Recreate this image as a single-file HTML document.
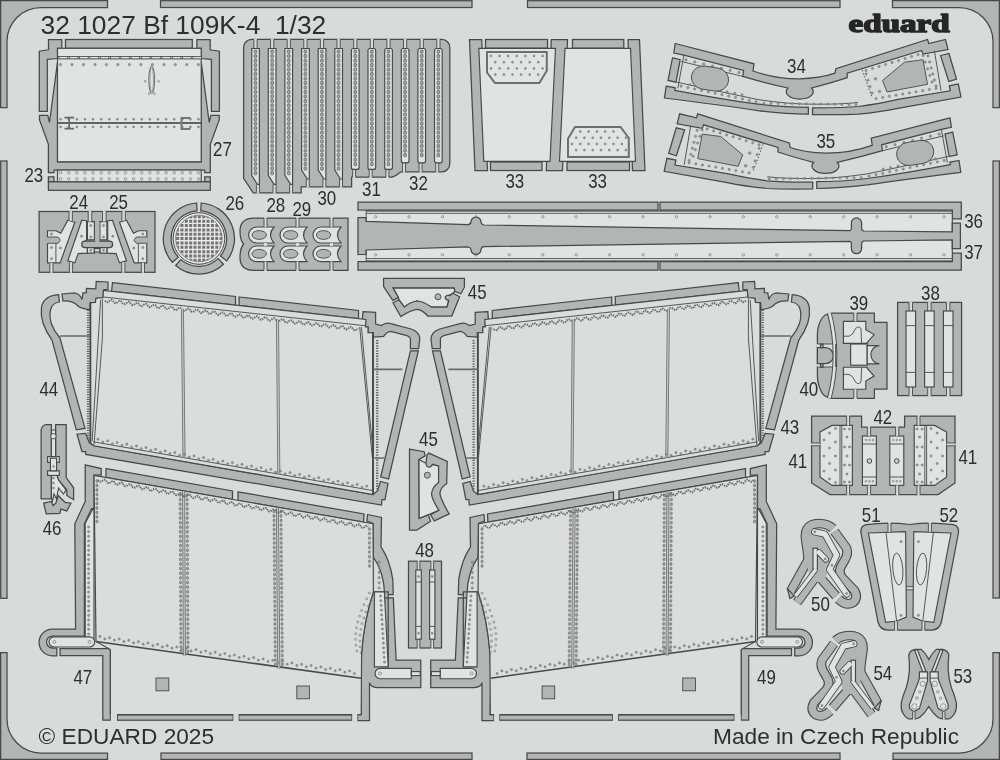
<!DOCTYPE html>
<html><head><meta charset="utf-8"><title>32 1027 Bf 109K-4 1/32</title>
<style>
html,body{margin:0;padding:0;background:#d9dada;}
body{width:1000px;height:760px;overflow:hidden;font-family:"Liberation Sans",sans-serif;}
svg{display:block;will-change:transform;transform:translateZ(0)}
.f{fill:#b3b4b4;stroke:#484848;stroke-width:1.25;stroke-linejoin:miter}
.p{fill:#e1e2e2;stroke:#484848;stroke-width:1.15;stroke-linejoin:miter}
.pb{fill:#dbdcdc}
.g{fill:#d9dada;stroke:none}
.h{fill:#b3b4b4;stroke:#484848;stroke-width:0.9}
.l{stroke:#484848;stroke-width:0.9;fill:none}
.l2{stroke:#707070;stroke-width:3;fill:none}
.r{fill:none;stroke:#6a6a6a;stroke-width:0.6}
.rs{fill:#a8a8a8;stroke:#5c5c5c;stroke-width:0.7}
.rd{fill:#9a9a9a;stroke:#6a6a6a;stroke-width:0.5}
.z{fill:none;stroke:#6c6c6c;stroke-width:1.9;stroke-dasharray:1.5,0.9}
.t{font-family:"Liberation Sans",sans-serif;fill:#2e2e2e}
.logo{font-family:"Liberation Serif",serif;font-weight:bold;fill:#262626;stroke:#262626;stroke-width:1.5;stroke-linejoin:round}
</style></head><body>
<svg width="1000" height="760" viewBox="0 0 1000 760">
<rect x="0" y="0" width="1000" height="760" fill="#d9dada"/>
<g id="border" style="stroke-width:1.3">
<path class="f" d="M0.65,0.65 L107.5,0.65 L107.5,7.5 L41,7.5 A34,34 0 0 0 7,41.5 L7,107.5 L0.65,107.5 Z" />
<rect class="f" x="160.5" y="0.7" width="311.5" height="6.8"/>
<rect class="f" x="527.5" y="0.7" width="312.5" height="6.8"/>
<path class="f" d="M892.5,0.65 L999.35,0.65 L999.35,107.5 L993,107.5 L993,41.5 A34,34 0 0 0 959,7.5 L892.5,7.5 Z" />
<rect class="f" x="0.7" y="161.0" width="6.3" height="437.3"/>
<rect class="f" x="993.0" y="161.0" width="6.4" height="437.0"/>
<path class="f" d="M0.65,652.6 L7,652.6 L7,719 A34,34 0 0 0 41,753 L107.5,753 L107.5,759.35 L0.65,759.35 Z" />
<rect class="f" x="161.0" y="753.0" width="311.0" height="6.4"/>
<rect class="f" x="527.0" y="753.0" width="313.0" height="6.4"/>
<path class="f" d="M999.35,652.6 L993,652.6 L993,719 A34,34 0 0 1 959,753 L893,753 L893,759.35 L999.35,759.35 Z" />
</g>
<g id="texts">
<text class="t" x="40.6" y="34.3" font-size="25.8" textLength="285.6" lengthAdjust="spacingAndGlyphs" text-anchor="start">32 1027 Bf 109K-4&#160;&#160;1/32</text>
<text class="t" x="38.6" y="743.5" font-size="22.4" textLength="175.5" lengthAdjust="spacingAndGlyphs" text-anchor="start">© EDUARD 2025</text>
<text class="t" x="713.0" y="743.6" font-size="22.4" textLength="246.0" lengthAdjust="spacingAndGlyphs" text-anchor="start">Made in Czech Republic</text>
<text class="logo" x="848.6" y="32.2" font-size="24.8" textLength="101" lengthAdjust="spacingAndGlyphs">eduard</text>
</g>
<g id="p27">
<rect class="f" x="65.5" y="39.5" width="126.8" height="8.8"/>
<polygon class="f" points="48.5,39.5 61.8,39.5 61.8,48.3 57.5,48.3 57.5,58.5 47.3,59.3 47.3,111.3 39.3,111.3 39.3,51.2 48.5,49.8" />
<polygon class="f" points="210.2,39.5 196.9,39.5 196.9,48.3 201.2,48.3 201.2,58.5 211.4,59.3 211.4,111.3 219.4,111.3 219.4,51.2 210.2,49.8" />
<polygon class="f" points="39.5,115.4 47.8,115.4 49.5,122.5 57.5,62.0 57.5,161.8 201.2,161.8 201.2,62.0 209.2,122.5 210.9,115.4 219.2,115.4 219.2,120.0 210.3,144.4 210.3,172.6 204.7,172.6 204.7,170.0 54.0,170.0 54.0,172.6 48.4,172.6 48.4,144.4 39.5,120.0" />
<rect class="f" x="48.4" y="181.7" width="161.9" height="8.6"/>
<polygon class="f" points="48.4,176.8 54.0,176.8 54.0,181.7 48.4,181.7" />
<polygon class="f" points="210.3,176.8 204.7,176.8 204.7,181.7 210.3,181.7" />
<rect class="p" x="57.5" y="48.3" width="143.7" height="113.5"/>
<line class="l" x1="57.5" y1="56.6" x2="201.2" y2="56.6"/>
<line class="l" x1="57.5" y1="58.8" x2="201.2" y2="58.8"/>
<rect x="59.0" y="56.6" width="8.6" height="2.2" fill="#e6e6e6" stroke="#484848" stroke-width="0.7"/>
<rect x="69.3" y="56.6" width="8.6" height="2.2" fill="#e6e6e6" stroke="#484848" stroke-width="0.7"/>
<rect x="79.6" y="56.6" width="8.6" height="2.2" fill="#e6e6e6" stroke="#484848" stroke-width="0.7"/>
<rect x="89.9" y="56.6" width="8.6" height="2.2" fill="#e6e6e6" stroke="#484848" stroke-width="0.7"/>
<rect x="100.2" y="56.6" width="8.6" height="2.2" fill="#e6e6e6" stroke="#484848" stroke-width="0.7"/>
<rect x="110.5" y="56.6" width="8.6" height="2.2" fill="#e6e6e6" stroke="#484848" stroke-width="0.7"/>
<rect x="120.8" y="56.6" width="8.6" height="2.2" fill="#e6e6e6" stroke="#484848" stroke-width="0.7"/>
<rect x="131.1" y="56.6" width="8.6" height="2.2" fill="#e6e6e6" stroke="#484848" stroke-width="0.7"/>
<rect x="141.4" y="56.6" width="8.6" height="2.2" fill="#e6e6e6" stroke="#484848" stroke-width="0.7"/>
<rect x="151.7" y="56.6" width="8.6" height="2.2" fill="#e6e6e6" stroke="#484848" stroke-width="0.7"/>
<rect x="162.0" y="56.6" width="8.6" height="2.2" fill="#e6e6e6" stroke="#484848" stroke-width="0.7"/>
<rect x="172.3" y="56.6" width="8.6" height="2.2" fill="#e6e6e6" stroke="#484848" stroke-width="0.7"/>
<rect x="182.6" y="56.6" width="8.6" height="2.2" fill="#e6e6e6" stroke="#484848" stroke-width="0.7"/>
<rect x="192.9" y="56.6" width="8.6" height="2.2" fill="#e6e6e6" stroke="#484848" stroke-width="0.7"/>
<path class="rd" d="M60.5,64.6m-1.2,0a1.2,1.2 0 1 0 2.4,0a1.2,1.2 0 1 0 -2.4,0M72.0,64.6m-1.2,0a1.2,1.2 0 1 0 2.4,0a1.2,1.2 0 1 0 -2.4,0M83.5,64.6m-1.2,0a1.2,1.2 0 1 0 2.4,0a1.2,1.2 0 1 0 -2.4,0M95.0,64.6m-1.2,0a1.2,1.2 0 1 0 2.4,0a1.2,1.2 0 1 0 -2.4,0M106.4,64.6m-1.2,0a1.2,1.2 0 1 0 2.4,0a1.2,1.2 0 1 0 -2.4,0M117.9,64.6m-1.2,0a1.2,1.2 0 1 0 2.4,0a1.2,1.2 0 1 0 -2.4,0M129.4,64.6m-1.2,0a1.2,1.2 0 1 0 2.4,0a1.2,1.2 0 1 0 -2.4,0M140.9,64.6m-1.2,0a1.2,1.2 0 1 0 2.4,0a1.2,1.2 0 1 0 -2.4,0M152.4,64.6m-1.2,0a1.2,1.2 0 1 0 2.4,0a1.2,1.2 0 1 0 -2.4,0M163.9,64.6m-1.2,0a1.2,1.2 0 1 0 2.4,0a1.2,1.2 0 1 0 -2.4,0M175.3,64.6m-1.2,0a1.2,1.2 0 1 0 2.4,0a1.2,1.2 0 1 0 -2.4,0M186.8,64.6m-1.2,0a1.2,1.2 0 1 0 2.4,0a1.2,1.2 0 1 0 -2.4,0M198.3,64.6m-1.2,0a1.2,1.2 0 1 0 2.4,0a1.2,1.2 0 1 0 -2.4,0"/>
<line class="l" x1="57.5" y1="122.6" x2="201.2" y2="122.6"/>
<line class="l" x1="57.5" y1="123.4" x2="201.2" y2="123.4"/>
<path class="rd" d="M60.6,119.3m-1.0,0a1.0,1.0 0 1 0 2.0,0a1.0,1.0 0 1 0 -2.0,0M68.7,119.3m-1.0,0a1.0,1.0 0 1 0 2.0,0a1.0,1.0 0 1 0 -2.0,0M76.8,119.3m-1.0,0a1.0,1.0 0 1 0 2.0,0a1.0,1.0 0 1 0 -2.0,0M84.9,119.3m-1.0,0a1.0,1.0 0 1 0 2.0,0a1.0,1.0 0 1 0 -2.0,0M93.0,119.3m-1.0,0a1.0,1.0 0 1 0 2.0,0a1.0,1.0 0 1 0 -2.0,0M101.2,119.3m-1.0,0a1.0,1.0 0 1 0 2.0,0a1.0,1.0 0 1 0 -2.0,0M109.3,119.3m-1.0,0a1.0,1.0 0 1 0 2.0,0a1.0,1.0 0 1 0 -2.0,0M117.4,119.3m-1.0,0a1.0,1.0 0 1 0 2.0,0a1.0,1.0 0 1 0 -2.0,0M125.5,119.3m-1.0,0a1.0,1.0 0 1 0 2.0,0a1.0,1.0 0 1 0 -2.0,0M133.6,119.3m-1.0,0a1.0,1.0 0 1 0 2.0,0a1.0,1.0 0 1 0 -2.0,0M141.7,119.3m-1.0,0a1.0,1.0 0 1 0 2.0,0a1.0,1.0 0 1 0 -2.0,0M149.8,119.3m-1.0,0a1.0,1.0 0 1 0 2.0,0a1.0,1.0 0 1 0 -2.0,0M157.9,119.3m-1.0,0a1.0,1.0 0 1 0 2.0,0a1.0,1.0 0 1 0 -2.0,0M166.1,119.3m-1.0,0a1.0,1.0 0 1 0 2.0,0a1.0,1.0 0 1 0 -2.0,0M174.2,119.3m-1.0,0a1.0,1.0 0 1 0 2.0,0a1.0,1.0 0 1 0 -2.0,0M182.3,119.3m-1.0,0a1.0,1.0 0 1 0 2.0,0a1.0,1.0 0 1 0 -2.0,0M190.4,119.3m-1.0,0a1.0,1.0 0 1 0 2.0,0a1.0,1.0 0 1 0 -2.0,0M198.5,119.3m-1.0,0a1.0,1.0 0 1 0 2.0,0a1.0,1.0 0 1 0 -2.0,0"/>
<path class="rd" d="M60.6,127.0m-1.0,0a1.0,1.0 0 1 0 2.0,0a1.0,1.0 0 1 0 -2.0,0M68.7,127.0m-1.0,0a1.0,1.0 0 1 0 2.0,0a1.0,1.0 0 1 0 -2.0,0M76.8,127.0m-1.0,0a1.0,1.0 0 1 0 2.0,0a1.0,1.0 0 1 0 -2.0,0M84.9,127.0m-1.0,0a1.0,1.0 0 1 0 2.0,0a1.0,1.0 0 1 0 -2.0,0M93.0,127.0m-1.0,0a1.0,1.0 0 1 0 2.0,0a1.0,1.0 0 1 0 -2.0,0M101.2,127.0m-1.0,0a1.0,1.0 0 1 0 2.0,0a1.0,1.0 0 1 0 -2.0,0M109.3,127.0m-1.0,0a1.0,1.0 0 1 0 2.0,0a1.0,1.0 0 1 0 -2.0,0M117.4,127.0m-1.0,0a1.0,1.0 0 1 0 2.0,0a1.0,1.0 0 1 0 -2.0,0M125.5,127.0m-1.0,0a1.0,1.0 0 1 0 2.0,0a1.0,1.0 0 1 0 -2.0,0M133.6,127.0m-1.0,0a1.0,1.0 0 1 0 2.0,0a1.0,1.0 0 1 0 -2.0,0M141.7,127.0m-1.0,0a1.0,1.0 0 1 0 2.0,0a1.0,1.0 0 1 0 -2.0,0M149.8,127.0m-1.0,0a1.0,1.0 0 1 0 2.0,0a1.0,1.0 0 1 0 -2.0,0M157.9,127.0m-1.0,0a1.0,1.0 0 1 0 2.0,0a1.0,1.0 0 1 0 -2.0,0M166.1,127.0m-1.0,0a1.0,1.0 0 1 0 2.0,0a1.0,1.0 0 1 0 -2.0,0M174.2,127.0m-1.0,0a1.0,1.0 0 1 0 2.0,0a1.0,1.0 0 1 0 -2.0,0M182.3,127.0m-1.0,0a1.0,1.0 0 1 0 2.0,0a1.0,1.0 0 1 0 -2.0,0M190.4,127.0m-1.0,0a1.0,1.0 0 1 0 2.0,0a1.0,1.0 0 1 0 -2.0,0M198.5,127.0m-1.0,0a1.0,1.0 0 1 0 2.0,0a1.0,1.0 0 1 0 -2.0,0"/>
<path d="M64.5,117.6h9.5M64.5,128.6h9.5M69.2,117.6v11" stroke="#666" stroke-width="1.6" fill="none"/>
<path d="M190.5,118h-9v11h9" stroke="#777" stroke-width="2" fill="none"/>
<ellipse cx="151.7" cy="79.8" rx="2.9" ry="13.6" fill="none" stroke="#484848" stroke-width="0.8"/>
<ellipse cx="151.7" cy="79.8" rx="1.7" ry="12.2" fill="none" stroke="#777" stroke-width="0.6"/>
<path class="r" d="M149.2,93.6m-0.9,0a0.9,0.9 0 1 0 1.8,0a0.9,0.9 0 1 0 -1.8,0M154.3,93.6m-0.9,0a0.9,0.9 0 1 0 1.8,0a0.9,0.9 0 1 0 -1.8,0M145.2,81.3m-0.9,0a0.9,0.9 0 1 0 1.8,0a0.9,0.9 0 1 0 -1.8,0M158.6,81.3m-0.9,0a0.9,0.9 0 1 0 1.8,0a0.9,0.9 0 1 0 -1.8,0"/>
<rect class="p" x="57.5" y="170.0" width="143.7" height="11.7"/>
<path class="r" d="M60.6,172.6m-1.3,0a1.3,1.3 0 1 0 2.6,0a1.3,1.3 0 1 0 -2.6,0M68.7,172.6m-1.3,0a1.3,1.3 0 1 0 2.6,0a1.3,1.3 0 1 0 -2.6,0M76.8,172.6m-1.3,0a1.3,1.3 0 1 0 2.6,0a1.3,1.3 0 1 0 -2.6,0M84.9,172.6m-1.3,0a1.3,1.3 0 1 0 2.6,0a1.3,1.3 0 1 0 -2.6,0M93.0,172.6m-1.3,0a1.3,1.3 0 1 0 2.6,0a1.3,1.3 0 1 0 -2.6,0M101.2,172.6m-1.3,0a1.3,1.3 0 1 0 2.6,0a1.3,1.3 0 1 0 -2.6,0M109.3,172.6m-1.3,0a1.3,1.3 0 1 0 2.6,0a1.3,1.3 0 1 0 -2.6,0M117.4,172.6m-1.3,0a1.3,1.3 0 1 0 2.6,0a1.3,1.3 0 1 0 -2.6,0M125.5,172.6m-1.3,0a1.3,1.3 0 1 0 2.6,0a1.3,1.3 0 1 0 -2.6,0M133.6,172.6m-1.3,0a1.3,1.3 0 1 0 2.6,0a1.3,1.3 0 1 0 -2.6,0M141.7,172.6m-1.3,0a1.3,1.3 0 1 0 2.6,0a1.3,1.3 0 1 0 -2.6,0M149.8,172.6m-1.3,0a1.3,1.3 0 1 0 2.6,0a1.3,1.3 0 1 0 -2.6,0M157.9,172.6m-1.3,0a1.3,1.3 0 1 0 2.6,0a1.3,1.3 0 1 0 -2.6,0M166.1,172.6m-1.3,0a1.3,1.3 0 1 0 2.6,0a1.3,1.3 0 1 0 -2.6,0M174.2,172.6m-1.3,0a1.3,1.3 0 1 0 2.6,0a1.3,1.3 0 1 0 -2.6,0M182.3,172.6m-1.3,0a1.3,1.3 0 1 0 2.6,0a1.3,1.3 0 1 0 -2.6,0M190.4,172.6m-1.3,0a1.3,1.3 0 1 0 2.6,0a1.3,1.3 0 1 0 -2.6,0M198.5,172.6m-1.3,0a1.3,1.3 0 1 0 2.6,0a1.3,1.3 0 1 0 -2.6,0"/>
<path class="r" d="M60.6,178.9m-1.3,0a1.3,1.3 0 1 0 2.6,0a1.3,1.3 0 1 0 -2.6,0M68.7,178.9m-1.3,0a1.3,1.3 0 1 0 2.6,0a1.3,1.3 0 1 0 -2.6,0M76.8,178.9m-1.3,0a1.3,1.3 0 1 0 2.6,0a1.3,1.3 0 1 0 -2.6,0M84.9,178.9m-1.3,0a1.3,1.3 0 1 0 2.6,0a1.3,1.3 0 1 0 -2.6,0M93.0,178.9m-1.3,0a1.3,1.3 0 1 0 2.6,0a1.3,1.3 0 1 0 -2.6,0M101.2,178.9m-1.3,0a1.3,1.3 0 1 0 2.6,0a1.3,1.3 0 1 0 -2.6,0M109.3,178.9m-1.3,0a1.3,1.3 0 1 0 2.6,0a1.3,1.3 0 1 0 -2.6,0M117.4,178.9m-1.3,0a1.3,1.3 0 1 0 2.6,0a1.3,1.3 0 1 0 -2.6,0M125.5,178.9m-1.3,0a1.3,1.3 0 1 0 2.6,0a1.3,1.3 0 1 0 -2.6,0M133.6,178.9m-1.3,0a1.3,1.3 0 1 0 2.6,0a1.3,1.3 0 1 0 -2.6,0M141.7,178.9m-1.3,0a1.3,1.3 0 1 0 2.6,0a1.3,1.3 0 1 0 -2.6,0M149.8,178.9m-1.3,0a1.3,1.3 0 1 0 2.6,0a1.3,1.3 0 1 0 -2.6,0M157.9,178.9m-1.3,0a1.3,1.3 0 1 0 2.6,0a1.3,1.3 0 1 0 -2.6,0M166.1,178.9m-1.3,0a1.3,1.3 0 1 0 2.6,0a1.3,1.3 0 1 0 -2.6,0M174.2,178.9m-1.3,0a1.3,1.3 0 1 0 2.6,0a1.3,1.3 0 1 0 -2.6,0M182.3,178.9m-1.3,0a1.3,1.3 0 1 0 2.6,0a1.3,1.3 0 1 0 -2.6,0M190.4,178.9m-1.3,0a1.3,1.3 0 1 0 2.6,0a1.3,1.3 0 1 0 -2.6,0M198.5,178.9m-1.3,0a1.3,1.3 0 1 0 2.6,0a1.3,1.3 0 1 0 -2.6,0"/>
</g>
<g id="strips">
<path class="f" d="M243.6,47.4 A8,8 0 0 1 251.6,39.4 L441.8,39.4 A8,8 0 0 1 449.8,47.4 L449.8,163.8 A8,8 0 0 1 441.8,171.8 L401,171.8 Q396,176 392,177.2 L351.6,177.2 L351.6,186.8 L301.2,186.8 L301.2,192.8 L253.2,192.8 L243.6,178.4 Z" />
<rect class="g" x="253.9" y="38.6" width="3.2" height="9.9"/>
<line class="l" x1="253.9" y1="39.4" x2="253.9" y2="48.5"/>
<line class="l" x1="257.1" y1="39.4" x2="257.1" y2="48.5"/>
<rect class="g" x="256.4" y="184.4" width="3.0" height="9.2"/>
<line class="l" x1="256.4" y1="184.4" x2="256.4" y2="192.8"/>
<line class="l" x1="259.4" y1="184.4" x2="259.4" y2="192.8"/>
<polygon class="p" points="251.7,48.5 259.4,48.5 259.4,184.4 257.4,184.4 251.7,175.4" />
<path class="rs" d="M255.5,51.6m-1.4,0a1.4,1.4 0 1 0 2.7,0a1.4,1.4 0 1 0 -2.7,0M255.5,56.1m-1.4,0a1.4,1.4 0 1 0 2.7,0a1.4,1.4 0 1 0 -2.7,0M255.5,60.6m-1.4,0a1.4,1.4 0 1 0 2.7,0a1.4,1.4 0 1 0 -2.7,0M255.5,65.1m-1.4,0a1.4,1.4 0 1 0 2.7,0a1.4,1.4 0 1 0 -2.7,0M255.5,69.6m-1.4,0a1.4,1.4 0 1 0 2.7,0a1.4,1.4 0 1 0 -2.7,0M255.5,74.1m-1.4,0a1.4,1.4 0 1 0 2.7,0a1.4,1.4 0 1 0 -2.7,0M255.5,78.6m-1.4,0a1.4,1.4 0 1 0 2.7,0a1.4,1.4 0 1 0 -2.7,0M255.5,83.1m-1.4,0a1.4,1.4 0 1 0 2.7,0a1.4,1.4 0 1 0 -2.7,0M255.5,87.6m-1.4,0a1.4,1.4 0 1 0 2.7,0a1.4,1.4 0 1 0 -2.7,0M255.5,92.1m-1.4,0a1.4,1.4 0 1 0 2.7,0a1.4,1.4 0 1 0 -2.7,0M255.5,96.6m-1.4,0a1.4,1.4 0 1 0 2.7,0a1.4,1.4 0 1 0 -2.7,0M255.5,101.1m-1.4,0a1.4,1.4 0 1 0 2.7,0a1.4,1.4 0 1 0 -2.7,0M255.5,105.6m-1.4,0a1.4,1.4 0 1 0 2.7,0a1.4,1.4 0 1 0 -2.7,0M255.5,110.1m-1.4,0a1.4,1.4 0 1 0 2.7,0a1.4,1.4 0 1 0 -2.7,0M255.5,114.6m-1.4,0a1.4,1.4 0 1 0 2.7,0a1.4,1.4 0 1 0 -2.7,0M255.5,119.1m-1.4,0a1.4,1.4 0 1 0 2.7,0a1.4,1.4 0 1 0 -2.7,0M255.5,123.6m-1.4,0a1.4,1.4 0 1 0 2.7,0a1.4,1.4 0 1 0 -2.7,0M255.5,128.1m-1.4,0a1.4,1.4 0 1 0 2.7,0a1.4,1.4 0 1 0 -2.7,0M255.5,132.6m-1.4,0a1.4,1.4 0 1 0 2.7,0a1.4,1.4 0 1 0 -2.7,0M255.5,137.1m-1.4,0a1.4,1.4 0 1 0 2.7,0a1.4,1.4 0 1 0 -2.7,0M255.5,141.6m-1.4,0a1.4,1.4 0 1 0 2.7,0a1.4,1.4 0 1 0 -2.7,0M255.5,146.1m-1.4,0a1.4,1.4 0 1 0 2.7,0a1.4,1.4 0 1 0 -2.7,0M255.5,150.6m-1.4,0a1.4,1.4 0 1 0 2.7,0a1.4,1.4 0 1 0 -2.7,0M255.5,155.1m-1.4,0a1.4,1.4 0 1 0 2.7,0a1.4,1.4 0 1 0 -2.7,0M255.5,159.6m-1.4,0a1.4,1.4 0 1 0 2.7,0a1.4,1.4 0 1 0 -2.7,0M255.5,164.1m-1.4,0a1.4,1.4 0 1 0 2.7,0a1.4,1.4 0 1 0 -2.7,0M255.5,168.6m-1.4,0a1.4,1.4 0 1 0 2.7,0a1.4,1.4 0 1 0 -2.7,0M255.5,173.1m-1.4,0a1.4,1.4 0 1 0 2.7,0a1.4,1.4 0 1 0 -2.7,0"/>
<rect class="g" x="270.6" y="38.6" width="3.2" height="9.9"/>
<line class="l" x1="270.6" y1="39.4" x2="270.6" y2="48.5"/>
<line class="l" x1="273.8" y1="39.4" x2="273.8" y2="48.5"/>
<rect class="g" x="273.0" y="184.4" width="3.0" height="9.2"/>
<line class="l" x1="273.0" y1="184.4" x2="273.0" y2="192.8"/>
<line class="l" x1="276.0" y1="184.4" x2="276.0" y2="192.8"/>
<polygon class="p" points="268.3,48.5 276.0,48.5 276.0,184.4 274.0,184.4 268.3,175.4" />
<path class="rs" d="M272.2,51.6m-1.4,0a1.4,1.4 0 1 0 2.7,0a1.4,1.4 0 1 0 -2.7,0M272.2,56.1m-1.4,0a1.4,1.4 0 1 0 2.7,0a1.4,1.4 0 1 0 -2.7,0M272.2,60.6m-1.4,0a1.4,1.4 0 1 0 2.7,0a1.4,1.4 0 1 0 -2.7,0M272.2,65.1m-1.4,0a1.4,1.4 0 1 0 2.7,0a1.4,1.4 0 1 0 -2.7,0M272.2,69.6m-1.4,0a1.4,1.4 0 1 0 2.7,0a1.4,1.4 0 1 0 -2.7,0M272.2,74.1m-1.4,0a1.4,1.4 0 1 0 2.7,0a1.4,1.4 0 1 0 -2.7,0M272.2,78.6m-1.4,0a1.4,1.4 0 1 0 2.7,0a1.4,1.4 0 1 0 -2.7,0M272.2,83.1m-1.4,0a1.4,1.4 0 1 0 2.7,0a1.4,1.4 0 1 0 -2.7,0M272.2,87.6m-1.4,0a1.4,1.4 0 1 0 2.7,0a1.4,1.4 0 1 0 -2.7,0M272.2,92.1m-1.4,0a1.4,1.4 0 1 0 2.7,0a1.4,1.4 0 1 0 -2.7,0M272.2,96.6m-1.4,0a1.4,1.4 0 1 0 2.7,0a1.4,1.4 0 1 0 -2.7,0M272.2,101.1m-1.4,0a1.4,1.4 0 1 0 2.7,0a1.4,1.4 0 1 0 -2.7,0M272.2,105.6m-1.4,0a1.4,1.4 0 1 0 2.7,0a1.4,1.4 0 1 0 -2.7,0M272.2,110.1m-1.4,0a1.4,1.4 0 1 0 2.7,0a1.4,1.4 0 1 0 -2.7,0M272.2,114.6m-1.4,0a1.4,1.4 0 1 0 2.7,0a1.4,1.4 0 1 0 -2.7,0M272.2,119.1m-1.4,0a1.4,1.4 0 1 0 2.7,0a1.4,1.4 0 1 0 -2.7,0M272.2,123.6m-1.4,0a1.4,1.4 0 1 0 2.7,0a1.4,1.4 0 1 0 -2.7,0M272.2,128.1m-1.4,0a1.4,1.4 0 1 0 2.7,0a1.4,1.4 0 1 0 -2.7,0M272.2,132.6m-1.4,0a1.4,1.4 0 1 0 2.7,0a1.4,1.4 0 1 0 -2.7,0M272.2,137.1m-1.4,0a1.4,1.4 0 1 0 2.7,0a1.4,1.4 0 1 0 -2.7,0M272.2,141.6m-1.4,0a1.4,1.4 0 1 0 2.7,0a1.4,1.4 0 1 0 -2.7,0M272.2,146.1m-1.4,0a1.4,1.4 0 1 0 2.7,0a1.4,1.4 0 1 0 -2.7,0M272.2,150.6m-1.4,0a1.4,1.4 0 1 0 2.7,0a1.4,1.4 0 1 0 -2.7,0M272.2,155.1m-1.4,0a1.4,1.4 0 1 0 2.7,0a1.4,1.4 0 1 0 -2.7,0M272.2,159.6m-1.4,0a1.4,1.4 0 1 0 2.7,0a1.4,1.4 0 1 0 -2.7,0M272.2,164.1m-1.4,0a1.4,1.4 0 1 0 2.7,0a1.4,1.4 0 1 0 -2.7,0M272.2,168.6m-1.4,0a1.4,1.4 0 1 0 2.7,0a1.4,1.4 0 1 0 -2.7,0M272.2,173.1m-1.4,0a1.4,1.4 0 1 0 2.7,0a1.4,1.4 0 1 0 -2.7,0"/>
<rect class="g" x="287.2" y="38.6" width="3.2" height="9.9"/>
<line class="l" x1="287.2" y1="39.4" x2="287.2" y2="48.5"/>
<line class="l" x1="290.4" y1="39.4" x2="290.4" y2="48.5"/>
<rect class="g" x="289.6" y="184.4" width="3.0" height="9.2"/>
<line class="l" x1="289.6" y1="184.4" x2="289.6" y2="192.8"/>
<line class="l" x1="292.6" y1="184.4" x2="292.6" y2="192.8"/>
<polygon class="p" points="284.9,48.5 292.6,48.5 292.6,184.4 290.6,184.4 284.9,175.4" />
<path class="rs" d="M288.8,51.6m-1.4,0a1.4,1.4 0 1 0 2.7,0a1.4,1.4 0 1 0 -2.7,0M288.8,56.1m-1.4,0a1.4,1.4 0 1 0 2.7,0a1.4,1.4 0 1 0 -2.7,0M288.8,60.6m-1.4,0a1.4,1.4 0 1 0 2.7,0a1.4,1.4 0 1 0 -2.7,0M288.8,65.1m-1.4,0a1.4,1.4 0 1 0 2.7,0a1.4,1.4 0 1 0 -2.7,0M288.8,69.6m-1.4,0a1.4,1.4 0 1 0 2.7,0a1.4,1.4 0 1 0 -2.7,0M288.8,74.1m-1.4,0a1.4,1.4 0 1 0 2.7,0a1.4,1.4 0 1 0 -2.7,0M288.8,78.6m-1.4,0a1.4,1.4 0 1 0 2.7,0a1.4,1.4 0 1 0 -2.7,0M288.8,83.1m-1.4,0a1.4,1.4 0 1 0 2.7,0a1.4,1.4 0 1 0 -2.7,0M288.8,87.6m-1.4,0a1.4,1.4 0 1 0 2.7,0a1.4,1.4 0 1 0 -2.7,0M288.8,92.1m-1.4,0a1.4,1.4 0 1 0 2.7,0a1.4,1.4 0 1 0 -2.7,0M288.8,96.6m-1.4,0a1.4,1.4 0 1 0 2.7,0a1.4,1.4 0 1 0 -2.7,0M288.8,101.1m-1.4,0a1.4,1.4 0 1 0 2.7,0a1.4,1.4 0 1 0 -2.7,0M288.8,105.6m-1.4,0a1.4,1.4 0 1 0 2.7,0a1.4,1.4 0 1 0 -2.7,0M288.8,110.1m-1.4,0a1.4,1.4 0 1 0 2.7,0a1.4,1.4 0 1 0 -2.7,0M288.8,114.6m-1.4,0a1.4,1.4 0 1 0 2.7,0a1.4,1.4 0 1 0 -2.7,0M288.8,119.1m-1.4,0a1.4,1.4 0 1 0 2.7,0a1.4,1.4 0 1 0 -2.7,0M288.8,123.6m-1.4,0a1.4,1.4 0 1 0 2.7,0a1.4,1.4 0 1 0 -2.7,0M288.8,128.1m-1.4,0a1.4,1.4 0 1 0 2.7,0a1.4,1.4 0 1 0 -2.7,0M288.8,132.6m-1.4,0a1.4,1.4 0 1 0 2.7,0a1.4,1.4 0 1 0 -2.7,0M288.8,137.1m-1.4,0a1.4,1.4 0 1 0 2.7,0a1.4,1.4 0 1 0 -2.7,0M288.8,141.6m-1.4,0a1.4,1.4 0 1 0 2.7,0a1.4,1.4 0 1 0 -2.7,0M288.8,146.1m-1.4,0a1.4,1.4 0 1 0 2.7,0a1.4,1.4 0 1 0 -2.7,0M288.8,150.6m-1.4,0a1.4,1.4 0 1 0 2.7,0a1.4,1.4 0 1 0 -2.7,0M288.8,155.1m-1.4,0a1.4,1.4 0 1 0 2.7,0a1.4,1.4 0 1 0 -2.7,0M288.8,159.6m-1.4,0a1.4,1.4 0 1 0 2.7,0a1.4,1.4 0 1 0 -2.7,0M288.8,164.1m-1.4,0a1.4,1.4 0 1 0 2.7,0a1.4,1.4 0 1 0 -2.7,0M288.8,168.6m-1.4,0a1.4,1.4 0 1 0 2.7,0a1.4,1.4 0 1 0 -2.7,0M288.8,173.1m-1.4,0a1.4,1.4 0 1 0 2.7,0a1.4,1.4 0 1 0 -2.7,0"/>
<rect class="g" x="303.8" y="38.6" width="3.2" height="9.9"/>
<line class="l" x1="303.8" y1="39.4" x2="303.8" y2="48.5"/>
<line class="l" x1="307.0" y1="39.4" x2="307.0" y2="48.5"/>
<rect class="g" x="306.3" y="179.0" width="3.0" height="8.6"/>
<line class="l" x1="306.3" y1="179.0" x2="306.3" y2="186.8"/>
<line class="l" x1="309.3" y1="179.0" x2="309.3" y2="186.8"/>
<polygon class="p" points="301.6,48.5 309.3,48.5 309.3,179.0 307.3,179.0 301.6,170.0" />
<path class="rs" d="M305.4,51.6m-1.4,0a1.4,1.4 0 1 0 2.7,0a1.4,1.4 0 1 0 -2.7,0M305.4,56.1m-1.4,0a1.4,1.4 0 1 0 2.7,0a1.4,1.4 0 1 0 -2.7,0M305.4,60.6m-1.4,0a1.4,1.4 0 1 0 2.7,0a1.4,1.4 0 1 0 -2.7,0M305.4,65.1m-1.4,0a1.4,1.4 0 1 0 2.7,0a1.4,1.4 0 1 0 -2.7,0M305.4,69.6m-1.4,0a1.4,1.4 0 1 0 2.7,0a1.4,1.4 0 1 0 -2.7,0M305.4,74.1m-1.4,0a1.4,1.4 0 1 0 2.7,0a1.4,1.4 0 1 0 -2.7,0M305.4,78.6m-1.4,0a1.4,1.4 0 1 0 2.7,0a1.4,1.4 0 1 0 -2.7,0M305.4,83.1m-1.4,0a1.4,1.4 0 1 0 2.7,0a1.4,1.4 0 1 0 -2.7,0M305.4,87.6m-1.4,0a1.4,1.4 0 1 0 2.7,0a1.4,1.4 0 1 0 -2.7,0M305.4,92.1m-1.4,0a1.4,1.4 0 1 0 2.7,0a1.4,1.4 0 1 0 -2.7,0M305.4,96.6m-1.4,0a1.4,1.4 0 1 0 2.7,0a1.4,1.4 0 1 0 -2.7,0M305.4,101.1m-1.4,0a1.4,1.4 0 1 0 2.7,0a1.4,1.4 0 1 0 -2.7,0M305.4,105.6m-1.4,0a1.4,1.4 0 1 0 2.7,0a1.4,1.4 0 1 0 -2.7,0M305.4,110.1m-1.4,0a1.4,1.4 0 1 0 2.7,0a1.4,1.4 0 1 0 -2.7,0M305.4,114.6m-1.4,0a1.4,1.4 0 1 0 2.7,0a1.4,1.4 0 1 0 -2.7,0M305.4,119.1m-1.4,0a1.4,1.4 0 1 0 2.7,0a1.4,1.4 0 1 0 -2.7,0M305.4,123.6m-1.4,0a1.4,1.4 0 1 0 2.7,0a1.4,1.4 0 1 0 -2.7,0M305.4,128.1m-1.4,0a1.4,1.4 0 1 0 2.7,0a1.4,1.4 0 1 0 -2.7,0M305.4,132.6m-1.4,0a1.4,1.4 0 1 0 2.7,0a1.4,1.4 0 1 0 -2.7,0M305.4,137.1m-1.4,0a1.4,1.4 0 1 0 2.7,0a1.4,1.4 0 1 0 -2.7,0M305.4,141.6m-1.4,0a1.4,1.4 0 1 0 2.7,0a1.4,1.4 0 1 0 -2.7,0M305.4,146.1m-1.4,0a1.4,1.4 0 1 0 2.7,0a1.4,1.4 0 1 0 -2.7,0M305.4,150.6m-1.4,0a1.4,1.4 0 1 0 2.7,0a1.4,1.4 0 1 0 -2.7,0M305.4,155.1m-1.4,0a1.4,1.4 0 1 0 2.7,0a1.4,1.4 0 1 0 -2.7,0M305.4,159.6m-1.4,0a1.4,1.4 0 1 0 2.7,0a1.4,1.4 0 1 0 -2.7,0M305.4,164.1m-1.4,0a1.4,1.4 0 1 0 2.7,0a1.4,1.4 0 1 0 -2.7,0M305.4,168.6m-1.4,0a1.4,1.4 0 1 0 2.7,0a1.4,1.4 0 1 0 -2.7,0"/>
<rect class="g" x="320.4" y="38.6" width="3.2" height="9.9"/>
<line class="l" x1="320.4" y1="39.4" x2="320.4" y2="48.5"/>
<line class="l" x1="323.6" y1="39.4" x2="323.6" y2="48.5"/>
<rect class="g" x="322.9" y="179.0" width="3.0" height="8.6"/>
<line class="l" x1="322.9" y1="179.0" x2="322.9" y2="186.8"/>
<line class="l" x1="325.9" y1="179.0" x2="325.9" y2="186.8"/>
<polygon class="p" points="318.2,48.5 325.9,48.5 325.9,179.0 323.9,179.0 318.2,170.0" />
<path class="rs" d="M322.0,51.6m-1.4,0a1.4,1.4 0 1 0 2.7,0a1.4,1.4 0 1 0 -2.7,0M322.0,56.1m-1.4,0a1.4,1.4 0 1 0 2.7,0a1.4,1.4 0 1 0 -2.7,0M322.0,60.6m-1.4,0a1.4,1.4 0 1 0 2.7,0a1.4,1.4 0 1 0 -2.7,0M322.0,65.1m-1.4,0a1.4,1.4 0 1 0 2.7,0a1.4,1.4 0 1 0 -2.7,0M322.0,69.6m-1.4,0a1.4,1.4 0 1 0 2.7,0a1.4,1.4 0 1 0 -2.7,0M322.0,74.1m-1.4,0a1.4,1.4 0 1 0 2.7,0a1.4,1.4 0 1 0 -2.7,0M322.0,78.6m-1.4,0a1.4,1.4 0 1 0 2.7,0a1.4,1.4 0 1 0 -2.7,0M322.0,83.1m-1.4,0a1.4,1.4 0 1 0 2.7,0a1.4,1.4 0 1 0 -2.7,0M322.0,87.6m-1.4,0a1.4,1.4 0 1 0 2.7,0a1.4,1.4 0 1 0 -2.7,0M322.0,92.1m-1.4,0a1.4,1.4 0 1 0 2.7,0a1.4,1.4 0 1 0 -2.7,0M322.0,96.6m-1.4,0a1.4,1.4 0 1 0 2.7,0a1.4,1.4 0 1 0 -2.7,0M322.0,101.1m-1.4,0a1.4,1.4 0 1 0 2.7,0a1.4,1.4 0 1 0 -2.7,0M322.0,105.6m-1.4,0a1.4,1.4 0 1 0 2.7,0a1.4,1.4 0 1 0 -2.7,0M322.0,110.1m-1.4,0a1.4,1.4 0 1 0 2.7,0a1.4,1.4 0 1 0 -2.7,0M322.0,114.6m-1.4,0a1.4,1.4 0 1 0 2.7,0a1.4,1.4 0 1 0 -2.7,0M322.0,119.1m-1.4,0a1.4,1.4 0 1 0 2.7,0a1.4,1.4 0 1 0 -2.7,0M322.0,123.6m-1.4,0a1.4,1.4 0 1 0 2.7,0a1.4,1.4 0 1 0 -2.7,0M322.0,128.1m-1.4,0a1.4,1.4 0 1 0 2.7,0a1.4,1.4 0 1 0 -2.7,0M322.0,132.6m-1.4,0a1.4,1.4 0 1 0 2.7,0a1.4,1.4 0 1 0 -2.7,0M322.0,137.1m-1.4,0a1.4,1.4 0 1 0 2.7,0a1.4,1.4 0 1 0 -2.7,0M322.0,141.6m-1.4,0a1.4,1.4 0 1 0 2.7,0a1.4,1.4 0 1 0 -2.7,0M322.0,146.1m-1.4,0a1.4,1.4 0 1 0 2.7,0a1.4,1.4 0 1 0 -2.7,0M322.0,150.6m-1.4,0a1.4,1.4 0 1 0 2.7,0a1.4,1.4 0 1 0 -2.7,0M322.0,155.1m-1.4,0a1.4,1.4 0 1 0 2.7,0a1.4,1.4 0 1 0 -2.7,0M322.0,159.6m-1.4,0a1.4,1.4 0 1 0 2.7,0a1.4,1.4 0 1 0 -2.7,0M322.0,164.1m-1.4,0a1.4,1.4 0 1 0 2.7,0a1.4,1.4 0 1 0 -2.7,0M322.0,168.6m-1.4,0a1.4,1.4 0 1 0 2.7,0a1.4,1.4 0 1 0 -2.7,0"/>
<rect class="g" x="337.0" y="38.6" width="3.2" height="9.9"/>
<line class="l" x1="337.0" y1="39.4" x2="337.0" y2="48.5"/>
<line class="l" x1="340.2" y1="39.4" x2="340.2" y2="48.5"/>
<rect class="g" x="339.5" y="179.0" width="3.0" height="8.6"/>
<line class="l" x1="339.5" y1="179.0" x2="339.5" y2="186.8"/>
<line class="l" x1="342.5" y1="179.0" x2="342.5" y2="186.8"/>
<polygon class="p" points="334.8,48.5 342.5,48.5 342.5,179.0 340.5,179.0 334.8,170.0" />
<path class="rs" d="M338.6,51.6m-1.4,0a1.4,1.4 0 1 0 2.7,0a1.4,1.4 0 1 0 -2.7,0M338.6,56.1m-1.4,0a1.4,1.4 0 1 0 2.7,0a1.4,1.4 0 1 0 -2.7,0M338.6,60.6m-1.4,0a1.4,1.4 0 1 0 2.7,0a1.4,1.4 0 1 0 -2.7,0M338.6,65.1m-1.4,0a1.4,1.4 0 1 0 2.7,0a1.4,1.4 0 1 0 -2.7,0M338.6,69.6m-1.4,0a1.4,1.4 0 1 0 2.7,0a1.4,1.4 0 1 0 -2.7,0M338.6,74.1m-1.4,0a1.4,1.4 0 1 0 2.7,0a1.4,1.4 0 1 0 -2.7,0M338.6,78.6m-1.4,0a1.4,1.4 0 1 0 2.7,0a1.4,1.4 0 1 0 -2.7,0M338.6,83.1m-1.4,0a1.4,1.4 0 1 0 2.7,0a1.4,1.4 0 1 0 -2.7,0M338.6,87.6m-1.4,0a1.4,1.4 0 1 0 2.7,0a1.4,1.4 0 1 0 -2.7,0M338.6,92.1m-1.4,0a1.4,1.4 0 1 0 2.7,0a1.4,1.4 0 1 0 -2.7,0M338.6,96.6m-1.4,0a1.4,1.4 0 1 0 2.7,0a1.4,1.4 0 1 0 -2.7,0M338.6,101.1m-1.4,0a1.4,1.4 0 1 0 2.7,0a1.4,1.4 0 1 0 -2.7,0M338.6,105.6m-1.4,0a1.4,1.4 0 1 0 2.7,0a1.4,1.4 0 1 0 -2.7,0M338.6,110.1m-1.4,0a1.4,1.4 0 1 0 2.7,0a1.4,1.4 0 1 0 -2.7,0M338.6,114.6m-1.4,0a1.4,1.4 0 1 0 2.7,0a1.4,1.4 0 1 0 -2.7,0M338.6,119.1m-1.4,0a1.4,1.4 0 1 0 2.7,0a1.4,1.4 0 1 0 -2.7,0M338.6,123.6m-1.4,0a1.4,1.4 0 1 0 2.7,0a1.4,1.4 0 1 0 -2.7,0M338.6,128.1m-1.4,0a1.4,1.4 0 1 0 2.7,0a1.4,1.4 0 1 0 -2.7,0M338.6,132.6m-1.4,0a1.4,1.4 0 1 0 2.7,0a1.4,1.4 0 1 0 -2.7,0M338.6,137.1m-1.4,0a1.4,1.4 0 1 0 2.7,0a1.4,1.4 0 1 0 -2.7,0M338.6,141.6m-1.4,0a1.4,1.4 0 1 0 2.7,0a1.4,1.4 0 1 0 -2.7,0M338.6,146.1m-1.4,0a1.4,1.4 0 1 0 2.7,0a1.4,1.4 0 1 0 -2.7,0M338.6,150.6m-1.4,0a1.4,1.4 0 1 0 2.7,0a1.4,1.4 0 1 0 -2.7,0M338.6,155.1m-1.4,0a1.4,1.4 0 1 0 2.7,0a1.4,1.4 0 1 0 -2.7,0M338.6,159.6m-1.4,0a1.4,1.4 0 1 0 2.7,0a1.4,1.4 0 1 0 -2.7,0M338.6,164.1m-1.4,0a1.4,1.4 0 1 0 2.7,0a1.4,1.4 0 1 0 -2.7,0M338.6,168.6m-1.4,0a1.4,1.4 0 1 0 2.7,0a1.4,1.4 0 1 0 -2.7,0"/>
<rect class="g" x="353.7" y="38.6" width="3.2" height="9.9"/>
<line class="l" x1="353.7" y1="39.4" x2="353.7" y2="48.5"/>
<line class="l" x1="356.9" y1="39.4" x2="356.9" y2="48.5"/>
<rect class="g" x="352.6" y="169.4" width="3.0" height="8.6"/>
<line class="l" x1="352.6" y1="169.4" x2="352.6" y2="177.2"/>
<line class="l" x1="355.6" y1="169.4" x2="355.6" y2="177.2"/>
<rect class="p" x="351.4" y="48.5" width="7.7" height="120.9" rx="2.0"/>
<path class="rs" d="M355.3,51.6m-1.4,0a1.4,1.4 0 1 0 2.7,0a1.4,1.4 0 1 0 -2.7,0M355.3,56.1m-1.4,0a1.4,1.4 0 1 0 2.7,0a1.4,1.4 0 1 0 -2.7,0M355.3,60.6m-1.4,0a1.4,1.4 0 1 0 2.7,0a1.4,1.4 0 1 0 -2.7,0M355.3,65.1m-1.4,0a1.4,1.4 0 1 0 2.7,0a1.4,1.4 0 1 0 -2.7,0M355.3,69.6m-1.4,0a1.4,1.4 0 1 0 2.7,0a1.4,1.4 0 1 0 -2.7,0M355.3,74.1m-1.4,0a1.4,1.4 0 1 0 2.7,0a1.4,1.4 0 1 0 -2.7,0M355.3,78.6m-1.4,0a1.4,1.4 0 1 0 2.7,0a1.4,1.4 0 1 0 -2.7,0M355.3,83.1m-1.4,0a1.4,1.4 0 1 0 2.7,0a1.4,1.4 0 1 0 -2.7,0M355.3,87.6m-1.4,0a1.4,1.4 0 1 0 2.7,0a1.4,1.4 0 1 0 -2.7,0M355.3,92.1m-1.4,0a1.4,1.4 0 1 0 2.7,0a1.4,1.4 0 1 0 -2.7,0M355.3,96.6m-1.4,0a1.4,1.4 0 1 0 2.7,0a1.4,1.4 0 1 0 -2.7,0M355.3,101.1m-1.4,0a1.4,1.4 0 1 0 2.7,0a1.4,1.4 0 1 0 -2.7,0M355.3,105.6m-1.4,0a1.4,1.4 0 1 0 2.7,0a1.4,1.4 0 1 0 -2.7,0M355.3,110.1m-1.4,0a1.4,1.4 0 1 0 2.7,0a1.4,1.4 0 1 0 -2.7,0M355.3,114.6m-1.4,0a1.4,1.4 0 1 0 2.7,0a1.4,1.4 0 1 0 -2.7,0M355.3,119.1m-1.4,0a1.4,1.4 0 1 0 2.7,0a1.4,1.4 0 1 0 -2.7,0M355.3,123.6m-1.4,0a1.4,1.4 0 1 0 2.7,0a1.4,1.4 0 1 0 -2.7,0M355.3,128.1m-1.4,0a1.4,1.4 0 1 0 2.7,0a1.4,1.4 0 1 0 -2.7,0M355.3,132.6m-1.4,0a1.4,1.4 0 1 0 2.7,0a1.4,1.4 0 1 0 -2.7,0M355.3,137.1m-1.4,0a1.4,1.4 0 1 0 2.7,0a1.4,1.4 0 1 0 -2.7,0M355.3,141.6m-1.4,0a1.4,1.4 0 1 0 2.7,0a1.4,1.4 0 1 0 -2.7,0M355.3,146.1m-1.4,0a1.4,1.4 0 1 0 2.7,0a1.4,1.4 0 1 0 -2.7,0M355.3,150.6m-1.4,0a1.4,1.4 0 1 0 2.7,0a1.4,1.4 0 1 0 -2.7,0M355.3,155.1m-1.4,0a1.4,1.4 0 1 0 2.7,0a1.4,1.4 0 1 0 -2.7,0M355.3,159.6m-1.4,0a1.4,1.4 0 1 0 2.7,0a1.4,1.4 0 1 0 -2.7,0M355.3,164.1m-1.4,0a1.4,1.4 0 1 0 2.7,0a1.4,1.4 0 1 0 -2.7,0"/>
<rect class="g" x="370.3" y="38.6" width="3.2" height="9.9"/>
<line class="l" x1="370.3" y1="39.4" x2="370.3" y2="48.5"/>
<line class="l" x1="373.5" y1="39.4" x2="373.5" y2="48.5"/>
<rect class="g" x="369.2" y="169.4" width="3.0" height="8.6"/>
<line class="l" x1="369.2" y1="169.4" x2="369.2" y2="177.2"/>
<line class="l" x1="372.2" y1="169.4" x2="372.2" y2="177.2"/>
<rect class="p" x="368.0" y="48.5" width="7.7" height="120.9" rx="2.0"/>
<path class="rs" d="M371.9,51.6m-1.4,0a1.4,1.4 0 1 0 2.7,0a1.4,1.4 0 1 0 -2.7,0M371.9,56.1m-1.4,0a1.4,1.4 0 1 0 2.7,0a1.4,1.4 0 1 0 -2.7,0M371.9,60.6m-1.4,0a1.4,1.4 0 1 0 2.7,0a1.4,1.4 0 1 0 -2.7,0M371.9,65.1m-1.4,0a1.4,1.4 0 1 0 2.7,0a1.4,1.4 0 1 0 -2.7,0M371.9,69.6m-1.4,0a1.4,1.4 0 1 0 2.7,0a1.4,1.4 0 1 0 -2.7,0M371.9,74.1m-1.4,0a1.4,1.4 0 1 0 2.7,0a1.4,1.4 0 1 0 -2.7,0M371.9,78.6m-1.4,0a1.4,1.4 0 1 0 2.7,0a1.4,1.4 0 1 0 -2.7,0M371.9,83.1m-1.4,0a1.4,1.4 0 1 0 2.7,0a1.4,1.4 0 1 0 -2.7,0M371.9,87.6m-1.4,0a1.4,1.4 0 1 0 2.7,0a1.4,1.4 0 1 0 -2.7,0M371.9,92.1m-1.4,0a1.4,1.4 0 1 0 2.7,0a1.4,1.4 0 1 0 -2.7,0M371.9,96.6m-1.4,0a1.4,1.4 0 1 0 2.7,0a1.4,1.4 0 1 0 -2.7,0M371.9,101.1m-1.4,0a1.4,1.4 0 1 0 2.7,0a1.4,1.4 0 1 0 -2.7,0M371.9,105.6m-1.4,0a1.4,1.4 0 1 0 2.7,0a1.4,1.4 0 1 0 -2.7,0M371.9,110.1m-1.4,0a1.4,1.4 0 1 0 2.7,0a1.4,1.4 0 1 0 -2.7,0M371.9,114.6m-1.4,0a1.4,1.4 0 1 0 2.7,0a1.4,1.4 0 1 0 -2.7,0M371.9,119.1m-1.4,0a1.4,1.4 0 1 0 2.7,0a1.4,1.4 0 1 0 -2.7,0M371.9,123.6m-1.4,0a1.4,1.4 0 1 0 2.7,0a1.4,1.4 0 1 0 -2.7,0M371.9,128.1m-1.4,0a1.4,1.4 0 1 0 2.7,0a1.4,1.4 0 1 0 -2.7,0M371.9,132.6m-1.4,0a1.4,1.4 0 1 0 2.7,0a1.4,1.4 0 1 0 -2.7,0M371.9,137.1m-1.4,0a1.4,1.4 0 1 0 2.7,0a1.4,1.4 0 1 0 -2.7,0M371.9,141.6m-1.4,0a1.4,1.4 0 1 0 2.7,0a1.4,1.4 0 1 0 -2.7,0M371.9,146.1m-1.4,0a1.4,1.4 0 1 0 2.7,0a1.4,1.4 0 1 0 -2.7,0M371.9,150.6m-1.4,0a1.4,1.4 0 1 0 2.7,0a1.4,1.4 0 1 0 -2.7,0M371.9,155.1m-1.4,0a1.4,1.4 0 1 0 2.7,0a1.4,1.4 0 1 0 -2.7,0M371.9,159.6m-1.4,0a1.4,1.4 0 1 0 2.7,0a1.4,1.4 0 1 0 -2.7,0M371.9,164.1m-1.4,0a1.4,1.4 0 1 0 2.7,0a1.4,1.4 0 1 0 -2.7,0"/>
<rect class="g" x="386.9" y="38.6" width="3.2" height="9.9"/>
<line class="l" x1="386.9" y1="39.4" x2="386.9" y2="48.5"/>
<line class="l" x1="390.1" y1="39.4" x2="390.1" y2="48.5"/>
<rect class="g" x="385.9" y="169.4" width="3.0" height="8.6"/>
<line class="l" x1="385.9" y1="169.4" x2="385.9" y2="177.2"/>
<line class="l" x1="388.9" y1="169.4" x2="388.9" y2="177.2"/>
<rect class="p" x="384.7" y="48.5" width="7.7" height="120.9" rx="2.0"/>
<path class="rs" d="M388.5,51.6m-1.4,0a1.4,1.4 0 1 0 2.7,0a1.4,1.4 0 1 0 -2.7,0M388.5,56.1m-1.4,0a1.4,1.4 0 1 0 2.7,0a1.4,1.4 0 1 0 -2.7,0M388.5,60.6m-1.4,0a1.4,1.4 0 1 0 2.7,0a1.4,1.4 0 1 0 -2.7,0M388.5,65.1m-1.4,0a1.4,1.4 0 1 0 2.7,0a1.4,1.4 0 1 0 -2.7,0M388.5,69.6m-1.4,0a1.4,1.4 0 1 0 2.7,0a1.4,1.4 0 1 0 -2.7,0M388.5,74.1m-1.4,0a1.4,1.4 0 1 0 2.7,0a1.4,1.4 0 1 0 -2.7,0M388.5,78.6m-1.4,0a1.4,1.4 0 1 0 2.7,0a1.4,1.4 0 1 0 -2.7,0M388.5,83.1m-1.4,0a1.4,1.4 0 1 0 2.7,0a1.4,1.4 0 1 0 -2.7,0M388.5,87.6m-1.4,0a1.4,1.4 0 1 0 2.7,0a1.4,1.4 0 1 0 -2.7,0M388.5,92.1m-1.4,0a1.4,1.4 0 1 0 2.7,0a1.4,1.4 0 1 0 -2.7,0M388.5,96.6m-1.4,0a1.4,1.4 0 1 0 2.7,0a1.4,1.4 0 1 0 -2.7,0M388.5,101.1m-1.4,0a1.4,1.4 0 1 0 2.7,0a1.4,1.4 0 1 0 -2.7,0M388.5,105.6m-1.4,0a1.4,1.4 0 1 0 2.7,0a1.4,1.4 0 1 0 -2.7,0M388.5,110.1m-1.4,0a1.4,1.4 0 1 0 2.7,0a1.4,1.4 0 1 0 -2.7,0M388.5,114.6m-1.4,0a1.4,1.4 0 1 0 2.7,0a1.4,1.4 0 1 0 -2.7,0M388.5,119.1m-1.4,0a1.4,1.4 0 1 0 2.7,0a1.4,1.4 0 1 0 -2.7,0M388.5,123.6m-1.4,0a1.4,1.4 0 1 0 2.7,0a1.4,1.4 0 1 0 -2.7,0M388.5,128.1m-1.4,0a1.4,1.4 0 1 0 2.7,0a1.4,1.4 0 1 0 -2.7,0M388.5,132.6m-1.4,0a1.4,1.4 0 1 0 2.7,0a1.4,1.4 0 1 0 -2.7,0M388.5,137.1m-1.4,0a1.4,1.4 0 1 0 2.7,0a1.4,1.4 0 1 0 -2.7,0M388.5,141.6m-1.4,0a1.4,1.4 0 1 0 2.7,0a1.4,1.4 0 1 0 -2.7,0M388.5,146.1m-1.4,0a1.4,1.4 0 1 0 2.7,0a1.4,1.4 0 1 0 -2.7,0M388.5,150.6m-1.4,0a1.4,1.4 0 1 0 2.7,0a1.4,1.4 0 1 0 -2.7,0M388.5,155.1m-1.4,0a1.4,1.4 0 1 0 2.7,0a1.4,1.4 0 1 0 -2.7,0M388.5,159.6m-1.4,0a1.4,1.4 0 1 0 2.7,0a1.4,1.4 0 1 0 -2.7,0M388.5,164.1m-1.4,0a1.4,1.4 0 1 0 2.7,0a1.4,1.4 0 1 0 -2.7,0"/>
<rect class="g" x="403.5" y="38.6" width="3.2" height="9.9"/>
<line class="l" x1="403.5" y1="39.4" x2="403.5" y2="48.5"/>
<line class="l" x1="406.7" y1="39.4" x2="406.7" y2="48.5"/>
<rect class="g" x="402.5" y="162.8" width="3.0" height="9.8"/>
<line class="l" x1="402.5" y1="162.8" x2="402.5" y2="171.8"/>
<line class="l" x1="405.5" y1="162.8" x2="405.5" y2="171.8"/>
<rect class="p" x="401.3" y="48.5" width="7.7" height="114.3" rx="2.0"/>
<path class="rs" d="M405.1,51.6m-1.4,0a1.4,1.4 0 1 0 2.7,0a1.4,1.4 0 1 0 -2.7,0M405.1,56.1m-1.4,0a1.4,1.4 0 1 0 2.7,0a1.4,1.4 0 1 0 -2.7,0M405.1,60.6m-1.4,0a1.4,1.4 0 1 0 2.7,0a1.4,1.4 0 1 0 -2.7,0M405.1,65.1m-1.4,0a1.4,1.4 0 1 0 2.7,0a1.4,1.4 0 1 0 -2.7,0M405.1,69.6m-1.4,0a1.4,1.4 0 1 0 2.7,0a1.4,1.4 0 1 0 -2.7,0M405.1,74.1m-1.4,0a1.4,1.4 0 1 0 2.7,0a1.4,1.4 0 1 0 -2.7,0M405.1,78.6m-1.4,0a1.4,1.4 0 1 0 2.7,0a1.4,1.4 0 1 0 -2.7,0M405.1,83.1m-1.4,0a1.4,1.4 0 1 0 2.7,0a1.4,1.4 0 1 0 -2.7,0M405.1,87.6m-1.4,0a1.4,1.4 0 1 0 2.7,0a1.4,1.4 0 1 0 -2.7,0M405.1,92.1m-1.4,0a1.4,1.4 0 1 0 2.7,0a1.4,1.4 0 1 0 -2.7,0M405.1,96.6m-1.4,0a1.4,1.4 0 1 0 2.7,0a1.4,1.4 0 1 0 -2.7,0M405.1,101.1m-1.4,0a1.4,1.4 0 1 0 2.7,0a1.4,1.4 0 1 0 -2.7,0M405.1,105.6m-1.4,0a1.4,1.4 0 1 0 2.7,0a1.4,1.4 0 1 0 -2.7,0M405.1,110.1m-1.4,0a1.4,1.4 0 1 0 2.7,0a1.4,1.4 0 1 0 -2.7,0M405.1,114.6m-1.4,0a1.4,1.4 0 1 0 2.7,0a1.4,1.4 0 1 0 -2.7,0M405.1,119.1m-1.4,0a1.4,1.4 0 1 0 2.7,0a1.4,1.4 0 1 0 -2.7,0M405.1,123.6m-1.4,0a1.4,1.4 0 1 0 2.7,0a1.4,1.4 0 1 0 -2.7,0M405.1,128.1m-1.4,0a1.4,1.4 0 1 0 2.7,0a1.4,1.4 0 1 0 -2.7,0M405.1,132.6m-1.4,0a1.4,1.4 0 1 0 2.7,0a1.4,1.4 0 1 0 -2.7,0M405.1,137.1m-1.4,0a1.4,1.4 0 1 0 2.7,0a1.4,1.4 0 1 0 -2.7,0M405.1,141.6m-1.4,0a1.4,1.4 0 1 0 2.7,0a1.4,1.4 0 1 0 -2.7,0M405.1,146.1m-1.4,0a1.4,1.4 0 1 0 2.7,0a1.4,1.4 0 1 0 -2.7,0M405.1,150.6m-1.4,0a1.4,1.4 0 1 0 2.7,0a1.4,1.4 0 1 0 -2.7,0M405.1,155.1m-1.4,0a1.4,1.4 0 1 0 2.7,0a1.4,1.4 0 1 0 -2.7,0"/>
<rect class="g" x="420.1" y="38.6" width="3.2" height="9.9"/>
<line class="l" x1="420.1" y1="39.4" x2="420.1" y2="48.5"/>
<line class="l" x1="423.4" y1="39.4" x2="423.4" y2="48.5"/>
<rect class="g" x="419.1" y="162.8" width="3.0" height="9.8"/>
<line class="l" x1="419.1" y1="162.8" x2="419.1" y2="171.8"/>
<line class="l" x1="422.1" y1="162.8" x2="422.1" y2="171.8"/>
<rect class="p" x="417.9" y="48.5" width="7.7" height="114.3" rx="2.0"/>
<path class="rs" d="M421.8,51.6m-1.4,0a1.4,1.4 0 1 0 2.7,0a1.4,1.4 0 1 0 -2.7,0M421.8,56.1m-1.4,0a1.4,1.4 0 1 0 2.7,0a1.4,1.4 0 1 0 -2.7,0M421.8,60.6m-1.4,0a1.4,1.4 0 1 0 2.7,0a1.4,1.4 0 1 0 -2.7,0M421.8,65.1m-1.4,0a1.4,1.4 0 1 0 2.7,0a1.4,1.4 0 1 0 -2.7,0M421.8,69.6m-1.4,0a1.4,1.4 0 1 0 2.7,0a1.4,1.4 0 1 0 -2.7,0M421.8,74.1m-1.4,0a1.4,1.4 0 1 0 2.7,0a1.4,1.4 0 1 0 -2.7,0M421.8,78.6m-1.4,0a1.4,1.4 0 1 0 2.7,0a1.4,1.4 0 1 0 -2.7,0M421.8,83.1m-1.4,0a1.4,1.4 0 1 0 2.7,0a1.4,1.4 0 1 0 -2.7,0M421.8,87.6m-1.4,0a1.4,1.4 0 1 0 2.7,0a1.4,1.4 0 1 0 -2.7,0M421.8,92.1m-1.4,0a1.4,1.4 0 1 0 2.7,0a1.4,1.4 0 1 0 -2.7,0M421.8,96.6m-1.4,0a1.4,1.4 0 1 0 2.7,0a1.4,1.4 0 1 0 -2.7,0M421.8,101.1m-1.4,0a1.4,1.4 0 1 0 2.7,0a1.4,1.4 0 1 0 -2.7,0M421.8,105.6m-1.4,0a1.4,1.4 0 1 0 2.7,0a1.4,1.4 0 1 0 -2.7,0M421.8,110.1m-1.4,0a1.4,1.4 0 1 0 2.7,0a1.4,1.4 0 1 0 -2.7,0M421.8,114.6m-1.4,0a1.4,1.4 0 1 0 2.7,0a1.4,1.4 0 1 0 -2.7,0M421.8,119.1m-1.4,0a1.4,1.4 0 1 0 2.7,0a1.4,1.4 0 1 0 -2.7,0M421.8,123.6m-1.4,0a1.4,1.4 0 1 0 2.7,0a1.4,1.4 0 1 0 -2.7,0M421.8,128.1m-1.4,0a1.4,1.4 0 1 0 2.7,0a1.4,1.4 0 1 0 -2.7,0M421.8,132.6m-1.4,0a1.4,1.4 0 1 0 2.7,0a1.4,1.4 0 1 0 -2.7,0M421.8,137.1m-1.4,0a1.4,1.4 0 1 0 2.7,0a1.4,1.4 0 1 0 -2.7,0M421.8,141.6m-1.4,0a1.4,1.4 0 1 0 2.7,0a1.4,1.4 0 1 0 -2.7,0M421.8,146.1m-1.4,0a1.4,1.4 0 1 0 2.7,0a1.4,1.4 0 1 0 -2.7,0M421.8,150.6m-1.4,0a1.4,1.4 0 1 0 2.7,0a1.4,1.4 0 1 0 -2.7,0M421.8,155.1m-1.4,0a1.4,1.4 0 1 0 2.7,0a1.4,1.4 0 1 0 -2.7,0"/>
<rect class="g" x="436.8" y="38.6" width="3.2" height="9.9"/>
<line class="l" x1="436.8" y1="39.4" x2="436.8" y2="48.5"/>
<line class="l" x1="440.0" y1="39.4" x2="440.0" y2="48.5"/>
<rect class="g" x="435.7" y="162.8" width="3.0" height="9.8"/>
<line class="l" x1="435.7" y1="162.8" x2="435.7" y2="171.8"/>
<line class="l" x1="438.7" y1="162.8" x2="438.7" y2="171.8"/>
<rect class="p" x="434.5" y="48.5" width="7.7" height="114.3" rx="2.0"/>
<path class="rs" d="M438.4,51.6m-1.4,0a1.4,1.4 0 1 0 2.7,0a1.4,1.4 0 1 0 -2.7,0M438.4,56.1m-1.4,0a1.4,1.4 0 1 0 2.7,0a1.4,1.4 0 1 0 -2.7,0M438.4,60.6m-1.4,0a1.4,1.4 0 1 0 2.7,0a1.4,1.4 0 1 0 -2.7,0M438.4,65.1m-1.4,0a1.4,1.4 0 1 0 2.7,0a1.4,1.4 0 1 0 -2.7,0M438.4,69.6m-1.4,0a1.4,1.4 0 1 0 2.7,0a1.4,1.4 0 1 0 -2.7,0M438.4,74.1m-1.4,0a1.4,1.4 0 1 0 2.7,0a1.4,1.4 0 1 0 -2.7,0M438.4,78.6m-1.4,0a1.4,1.4 0 1 0 2.7,0a1.4,1.4 0 1 0 -2.7,0M438.4,83.1m-1.4,0a1.4,1.4 0 1 0 2.7,0a1.4,1.4 0 1 0 -2.7,0M438.4,87.6m-1.4,0a1.4,1.4 0 1 0 2.7,0a1.4,1.4 0 1 0 -2.7,0M438.4,92.1m-1.4,0a1.4,1.4 0 1 0 2.7,0a1.4,1.4 0 1 0 -2.7,0M438.4,96.6m-1.4,0a1.4,1.4 0 1 0 2.7,0a1.4,1.4 0 1 0 -2.7,0M438.4,101.1m-1.4,0a1.4,1.4 0 1 0 2.7,0a1.4,1.4 0 1 0 -2.7,0M438.4,105.6m-1.4,0a1.4,1.4 0 1 0 2.7,0a1.4,1.4 0 1 0 -2.7,0M438.4,110.1m-1.4,0a1.4,1.4 0 1 0 2.7,0a1.4,1.4 0 1 0 -2.7,0M438.4,114.6m-1.4,0a1.4,1.4 0 1 0 2.7,0a1.4,1.4 0 1 0 -2.7,0M438.4,119.1m-1.4,0a1.4,1.4 0 1 0 2.7,0a1.4,1.4 0 1 0 -2.7,0M438.4,123.6m-1.4,0a1.4,1.4 0 1 0 2.7,0a1.4,1.4 0 1 0 -2.7,0M438.4,128.1m-1.4,0a1.4,1.4 0 1 0 2.7,0a1.4,1.4 0 1 0 -2.7,0M438.4,132.6m-1.4,0a1.4,1.4 0 1 0 2.7,0a1.4,1.4 0 1 0 -2.7,0M438.4,137.1m-1.4,0a1.4,1.4 0 1 0 2.7,0a1.4,1.4 0 1 0 -2.7,0M438.4,141.6m-1.4,0a1.4,1.4 0 1 0 2.7,0a1.4,1.4 0 1 0 -2.7,0M438.4,146.1m-1.4,0a1.4,1.4 0 1 0 2.7,0a1.4,1.4 0 1 0 -2.7,0M438.4,150.6m-1.4,0a1.4,1.4 0 1 0 2.7,0a1.4,1.4 0 1 0 -2.7,0M438.4,155.1m-1.4,0a1.4,1.4 0 1 0 2.7,0a1.4,1.4 0 1 0 -2.7,0"/>
</g>
<g id="p33">
<polygon class="f" points="469.5,39.5 481.7,39.5 487.5,170.5 475.0,170.5" />
<rect class="f" x="485.5" y="39.5" width="62.0" height="8.7"/>
<rect class="f" x="490.5" y="162.0" width="51.5" height="8.5"/>
<polygon class="f" points="551.3,39.5 567.5,39.5 562.5,170.5 546.3,170.5" />
<rect class="f" x="572.5" y="39.5" width="51.3" height="8.7"/>
<rect class="f" x="567.0" y="162.0" width="62.5" height="8.5"/>
<polygon class="f" points="628.0,39.5 639.5,39.5 645.0,170.5 632.5,170.5" />
<polygon class="p" points="478.8,48.3 555.5,48.3 550.0,161.3 483.8,161.3" />
<polygon class="p" points="565.0,48.3 630.5,48.3 635.5,161.3 559.5,161.3" />
<polygon points="487.0,52.0 546.8,52.0 546.8,70.8 539.3,83.0 495.0,83.0 487.0,72.5" fill="#e2e3e3" stroke="#6e6e6e" stroke-width="2"/>
<path class="rd" d="M491.0,56.0m-1.0,0a1.0,1.0 0 1 0 2.0,0a1.0,1.0 0 1 0 -2.0,0M499.6,56.0m-1.0,0a1.0,1.0 0 1 0 2.0,0a1.0,1.0 0 1 0 -2.0,0M508.2,56.0m-1.0,0a1.0,1.0 0 1 0 2.0,0a1.0,1.0 0 1 0 -2.0,0M516.8,56.0m-1.0,0a1.0,1.0 0 1 0 2.0,0a1.0,1.0 0 1 0 -2.0,0M525.4,56.0m-1.0,0a1.0,1.0 0 1 0 2.0,0a1.0,1.0 0 1 0 -2.0,0M534.0,56.0m-1.0,0a1.0,1.0 0 1 0 2.0,0a1.0,1.0 0 1 0 -2.0,0M542.6,56.0m-1.0,0a1.0,1.0 0 1 0 2.0,0a1.0,1.0 0 1 0 -2.0,0M495.3,62.2m-1.0,0a1.0,1.0 0 1 0 2.0,0a1.0,1.0 0 1 0 -2.0,0M503.9,62.2m-1.0,0a1.0,1.0 0 1 0 2.0,0a1.0,1.0 0 1 0 -2.0,0M512.5,62.2m-1.0,0a1.0,1.0 0 1 0 2.0,0a1.0,1.0 0 1 0 -2.0,0M521.1,62.2m-1.0,0a1.0,1.0 0 1 0 2.0,0a1.0,1.0 0 1 0 -2.0,0M529.7,62.2m-1.0,0a1.0,1.0 0 1 0 2.0,0a1.0,1.0 0 1 0 -2.0,0M538.3,62.2m-1.0,0a1.0,1.0 0 1 0 2.0,0a1.0,1.0 0 1 0 -2.0,0M491.0,68.4m-1.0,0a1.0,1.0 0 1 0 2.0,0a1.0,1.0 0 1 0 -2.0,0M499.6,68.4m-1.0,0a1.0,1.0 0 1 0 2.0,0a1.0,1.0 0 1 0 -2.0,0M508.2,68.4m-1.0,0a1.0,1.0 0 1 0 2.0,0a1.0,1.0 0 1 0 -2.0,0M516.8,68.4m-1.0,0a1.0,1.0 0 1 0 2.0,0a1.0,1.0 0 1 0 -2.0,0M525.4,68.4m-1.0,0a1.0,1.0 0 1 0 2.0,0a1.0,1.0 0 1 0 -2.0,0M534.0,68.4m-1.0,0a1.0,1.0 0 1 0 2.0,0a1.0,1.0 0 1 0 -2.0,0M542.6,68.4m-1.0,0a1.0,1.0 0 1 0 2.0,0a1.0,1.0 0 1 0 -2.0,0M495.3,74.6m-1.0,0a1.0,1.0 0 1 0 2.0,0a1.0,1.0 0 1 0 -2.0,0M503.9,74.6m-1.0,0a1.0,1.0 0 1 0 2.0,0a1.0,1.0 0 1 0 -2.0,0M512.5,74.6m-1.0,0a1.0,1.0 0 1 0 2.0,0a1.0,1.0 0 1 0 -2.0,0M521.1,74.6m-1.0,0a1.0,1.0 0 1 0 2.0,0a1.0,1.0 0 1 0 -2.0,0M529.7,74.6m-1.0,0a1.0,1.0 0 1 0 2.0,0a1.0,1.0 0 1 0 -2.0,0M538.3,74.6m-1.0,0a1.0,1.0 0 1 0 2.0,0a1.0,1.0 0 1 0 -2.0,0"/>
<polygon points="575.0,127.0 620.5,127.0 628.8,138.0 628.8,157.0 568.0,157.0 568.0,138.8" fill="#e2e3e3" stroke="#6e6e6e" stroke-width="2"/>
<path class="rd" d="M580.3,131.5m-1.0,0a1.0,1.0 0 1 0 2.0,0a1.0,1.0 0 1 0 -2.0,0M588.6,131.5m-1.0,0a1.0,1.0 0 1 0 2.0,0a1.0,1.0 0 1 0 -2.0,0M596.9,131.5m-1.0,0a1.0,1.0 0 1 0 2.0,0a1.0,1.0 0 1 0 -2.0,0M605.2,131.5m-1.0,0a1.0,1.0 0 1 0 2.0,0a1.0,1.0 0 1 0 -2.0,0M613.5,131.5m-1.0,0a1.0,1.0 0 1 0 2.0,0a1.0,1.0 0 1 0 -2.0,0M576.1,137.7m-1.0,0a1.0,1.0 0 1 0 2.0,0a1.0,1.0 0 1 0 -2.0,0M584.4,137.7m-1.0,0a1.0,1.0 0 1 0 2.0,0a1.0,1.0 0 1 0 -2.0,0M592.7,137.7m-1.0,0a1.0,1.0 0 1 0 2.0,0a1.0,1.0 0 1 0 -2.0,0M601.0,137.7m-1.0,0a1.0,1.0 0 1 0 2.0,0a1.0,1.0 0 1 0 -2.0,0M609.3,137.7m-1.0,0a1.0,1.0 0 1 0 2.0,0a1.0,1.0 0 1 0 -2.0,0M617.6,137.7m-1.0,0a1.0,1.0 0 1 0 2.0,0a1.0,1.0 0 1 0 -2.0,0M625.9,137.7m-1.0,0a1.0,1.0 0 1 0 2.0,0a1.0,1.0 0 1 0 -2.0,0M572.0,143.9m-1.0,0a1.0,1.0 0 1 0 2.0,0a1.0,1.0 0 1 0 -2.0,0M580.3,143.9m-1.0,0a1.0,1.0 0 1 0 2.0,0a1.0,1.0 0 1 0 -2.0,0M588.6,143.9m-1.0,0a1.0,1.0 0 1 0 2.0,0a1.0,1.0 0 1 0 -2.0,0M596.9,143.9m-1.0,0a1.0,1.0 0 1 0 2.0,0a1.0,1.0 0 1 0 -2.0,0M605.2,143.9m-1.0,0a1.0,1.0 0 1 0 2.0,0a1.0,1.0 0 1 0 -2.0,0M613.5,143.9m-1.0,0a1.0,1.0 0 1 0 2.0,0a1.0,1.0 0 1 0 -2.0,0M621.8,143.9m-1.0,0a1.0,1.0 0 1 0 2.0,0a1.0,1.0 0 1 0 -2.0,0M576.1,150.1m-1.0,0a1.0,1.0 0 1 0 2.0,0a1.0,1.0 0 1 0 -2.0,0M584.4,150.1m-1.0,0a1.0,1.0 0 1 0 2.0,0a1.0,1.0 0 1 0 -2.0,0M592.7,150.1m-1.0,0a1.0,1.0 0 1 0 2.0,0a1.0,1.0 0 1 0 -2.0,0M601.0,150.1m-1.0,0a1.0,1.0 0 1 0 2.0,0a1.0,1.0 0 1 0 -2.0,0M609.3,150.1m-1.0,0a1.0,1.0 0 1 0 2.0,0a1.0,1.0 0 1 0 -2.0,0M617.6,150.1m-1.0,0a1.0,1.0 0 1 0 2.0,0a1.0,1.0 0 1 0 -2.0,0M625.9,150.1m-1.0,0a1.0,1.0 0 1 0 2.0,0a1.0,1.0 0 1 0 -2.0,0"/>
</g>
<g id="p34">
<path class="f" d="M675.2,43.5 L754,63.8 L753,71 Q776,79 799.4,78.8 Q820,78.5 835,73.2 L835.9,68.7 L927.5,39.5 L928.8,43.5 L945.5,39.5 L948,49.5 L923,54 L921.5,50.5 L847.2,73.2 L847.2,77.7 Q828,84 811.5,88 A13.5,7.4 0 1 1 788,88 Q765,83 742.7,76.4 L743.6,70.5 L682.8,54.8 L673.8,53 Z" />
<polygon class="f" points="672.5,57.9 680.2,59.7 676.0,82.2 668.0,80.4" />
<polygon class="f" points="940.5,55.5 949.0,53.5 956.5,79.0 948.8,81.5" />
<path class="f" d="M666.2,86.2 L675.2,87.8 L674.8,90.3 Q722,99.3 758,104.2 Q785,107.4 808.4,107.4 L808.4,114.2 Q785,114 758,110.6 Q722,105.2 664.4,98 Z" />
<path class="f" d="M812.5,107.8 Q840,108 858.4,106.5 Q880,103.5 898,99.3 L950.2,90.8 L949.3,85.8 L958.3,84 L961,97 L898,108.3 Q880,112 858.4,114.2 Q840,115 812.5,114.6 Z" />
<line class="l" x1="683.8" y1="55.4" x2="677.8" y2="88.4"/>
<line class="l" x1="934.5" y1="51.5" x2="941.0" y2="90.5"/>
<line class="l" x1="681.5" y1="61.5" x2="742.7" y2="76.4"/>
<path class="rd" d="M686.0,59.8m-1.2,0a1.2,1.2 0 1 0 2.4,0a1.2,1.2 0 1 0 -2.4,0M694.8,61.9m-1.2,0a1.2,1.2 0 1 0 2.4,0a1.2,1.2 0 1 0 -2.4,0M703.7,64.0m-1.2,0a1.2,1.2 0 1 0 2.4,0a1.2,1.2 0 1 0 -2.4,0M712.5,66.1m-1.2,0a1.2,1.2 0 1 0 2.4,0a1.2,1.2 0 1 0 -2.4,0M721.3,68.2m-1.2,0a1.2,1.2 0 1 0 2.4,0a1.2,1.2 0 1 0 -2.4,0M730.2,70.3m-1.2,0a1.2,1.2 0 1 0 2.4,0a1.2,1.2 0 1 0 -2.4,0M739.0,72.4m-1.2,0a1.2,1.2 0 1 0 2.4,0a1.2,1.2 0 1 0 -2.4,0"/>
<path class="l" d="M677,82.2 Q722,92.1 758,99.6 Q790,104.3 812,104.2 Q840,104.5 858,102.5"/>
<path class="rd" d="M681.0,86.2m-1.1,0a1.1,1.1 0 1 0 2.3,0a1.1,1.1 0 1 0 -2.3,0M687.8,87.6m-1.1,0a1.1,1.1 0 1 0 2.3,0a1.1,1.1 0 1 0 -2.3,0M694.6,89.0m-1.1,0a1.1,1.1 0 1 0 2.3,0a1.1,1.1 0 1 0 -2.3,0M701.5,90.5m-1.1,0a1.1,1.1 0 1 0 2.3,0a1.1,1.1 0 1 0 -2.3,0M708.3,91.9m-1.1,0a1.1,1.1 0 1 0 2.3,0a1.1,1.1 0 1 0 -2.3,0M715.1,93.3m-1.1,0a1.1,1.1 0 1 0 2.3,0a1.1,1.1 0 1 0 -2.3,0M721.9,94.7m-1.1,0a1.1,1.1 0 1 0 2.3,0a1.1,1.1 0 1 0 -2.3,0M728.7,96.1m-1.1,0a1.1,1.1 0 1 0 2.3,0a1.1,1.1 0 1 0 -2.3,0M735.5,97.5m-1.1,0a1.1,1.1 0 1 0 2.3,0a1.1,1.1 0 1 0 -2.3,0M742.4,99.0m-1.1,0a1.1,1.1 0 1 0 2.3,0a1.1,1.1 0 1 0 -2.3,0M749.2,100.4m-1.1,0a1.1,1.1 0 1 0 2.3,0a1.1,1.1 0 1 0 -2.3,0M756.0,101.8m-1.1,0a1.1,1.1 0 1 0 2.3,0a1.1,1.1 0 1 0 -2.3,0"/>
<path class="rd" d="M690.0,84.6m-1.1,0a1.1,1.1 0 1 0 2.3,0a1.1,1.1 0 1 0 -2.3,0M697.4,86.1m-1.1,0a1.1,1.1 0 1 0 2.3,0a1.1,1.1 0 1 0 -2.3,0M704.9,87.5m-1.1,0a1.1,1.1 0 1 0 2.3,0a1.1,1.1 0 1 0 -2.3,0M712.3,89.0m-1.1,0a1.1,1.1 0 1 0 2.3,0a1.1,1.1 0 1 0 -2.3,0M719.7,90.4m-1.1,0a1.1,1.1 0 1 0 2.3,0a1.1,1.1 0 1 0 -2.3,0M727.1,91.9m-1.1,0a1.1,1.1 0 1 0 2.3,0a1.1,1.1 0 1 0 -2.3,0M734.6,93.3m-1.1,0a1.1,1.1 0 1 0 2.3,0a1.1,1.1 0 1 0 -2.3,0M742.0,94.8m-1.1,0a1.1,1.1 0 1 0 2.3,0a1.1,1.1 0 1 0 -2.3,0"/>
<path class="rd" d="M764.0,103.3m-1.1,0a1.1,1.1 0 1 0 2.2,0a1.1,1.1 0 1 0 -2.2,0M771.1,103.4m-1.1,0a1.1,1.1 0 1 0 2.2,0a1.1,1.1 0 1 0 -2.2,0M778.2,103.5m-1.1,0a1.1,1.1 0 1 0 2.2,0a1.1,1.1 0 1 0 -2.2,0M785.2,103.6m-1.1,0a1.1,1.1 0 1 0 2.2,0a1.1,1.1 0 1 0 -2.2,0M792.3,103.7m-1.1,0a1.1,1.1 0 1 0 2.2,0a1.1,1.1 0 1 0 -2.2,0M799.4,103.8m-1.1,0a1.1,1.1 0 1 0 2.2,0a1.1,1.1 0 1 0 -2.2,0M806.5,103.9m-1.1,0a1.1,1.1 0 1 0 2.2,0a1.1,1.1 0 1 0 -2.2,0M813.5,104.0m-1.1,0a1.1,1.1 0 1 0 2.2,0a1.1,1.1 0 1 0 -2.2,0M820.6,104.1m-1.1,0a1.1,1.1 0 1 0 2.2,0a1.1,1.1 0 1 0 -2.2,0M827.7,104.2m-1.1,0a1.1,1.1 0 1 0 2.2,0a1.1,1.1 0 1 0 -2.2,0M834.8,104.3m-1.1,0a1.1,1.1 0 1 0 2.2,0a1.1,1.1 0 1 0 -2.2,0M841.8,104.4m-1.1,0a1.1,1.1 0 1 0 2.2,0a1.1,1.1 0 1 0 -2.2,0M848.9,104.5m-1.1,0a1.1,1.1 0 1 0 2.2,0a1.1,1.1 0 1 0 -2.2,0M856.0,104.6m-1.1,0a1.1,1.1 0 1 0 2.2,0a1.1,1.1 0 1 0 -2.2,0"/>
<path d="M862,70 L871.9,96.6" stroke="#555" stroke-width="1" stroke-dasharray="1.5,1.8" fill="none"/>
<path class="rd" d="M866.0,70.5m-1.1,0a1.1,1.1 0 1 0 2.3,0a1.1,1.1 0 1 0 -2.3,0M872.5,68.5m-1.1,0a1.1,1.1 0 1 0 2.3,0a1.1,1.1 0 1 0 -2.3,0M879.0,66.5m-1.1,0a1.1,1.1 0 1 0 2.3,0a1.1,1.1 0 1 0 -2.3,0M885.5,64.5m-1.1,0a1.1,1.1 0 1 0 2.3,0a1.1,1.1 0 1 0 -2.3,0M892.0,62.5m-1.1,0a1.1,1.1 0 1 0 2.3,0a1.1,1.1 0 1 0 -2.3,0M898.5,60.6m-1.1,0a1.1,1.1 0 1 0 2.3,0a1.1,1.1 0 1 0 -2.3,0M905.0,58.6m-1.1,0a1.1,1.1 0 1 0 2.3,0a1.1,1.1 0 1 0 -2.3,0M911.5,56.6m-1.1,0a1.1,1.1 0 1 0 2.3,0a1.1,1.1 0 1 0 -2.3,0M918.0,54.6m-1.1,0a1.1,1.1 0 1 0 2.3,0a1.1,1.1 0 1 0 -2.3,0"/>
<path class="rd" d="M876.0,98.6m-1.1,0a1.1,1.1 0 1 0 2.3,0a1.1,1.1 0 1 0 -2.3,0M882.7,97.5m-1.1,0a1.1,1.1 0 1 0 2.3,0a1.1,1.1 0 1 0 -2.3,0M889.3,96.3m-1.1,0a1.1,1.1 0 1 0 2.3,0a1.1,1.1 0 1 0 -2.3,0M896.0,95.2m-1.1,0a1.1,1.1 0 1 0 2.3,0a1.1,1.1 0 1 0 -2.3,0M902.7,94.1m-1.1,0a1.1,1.1 0 1 0 2.3,0a1.1,1.1 0 1 0 -2.3,0M909.3,92.9m-1.1,0a1.1,1.1 0 1 0 2.3,0a1.1,1.1 0 1 0 -2.3,0M916.0,91.8m-1.1,0a1.1,1.1 0 1 0 2.3,0a1.1,1.1 0 1 0 -2.3,0M922.7,90.7m-1.1,0a1.1,1.1 0 1 0 2.3,0a1.1,1.1 0 1 0 -2.3,0M929.3,89.5m-1.1,0a1.1,1.1 0 1 0 2.3,0a1.1,1.1 0 1 0 -2.3,0M936.0,88.4m-1.1,0a1.1,1.1 0 1 0 2.3,0a1.1,1.1 0 1 0 -2.3,0"/>
<path class="rd" d="M866.0,74.0m-1.1,0a1.1,1.1 0 1 0 2.3,0a1.1,1.1 0 1 0 -2.3,0M868.0,80.3m-1.1,0a1.1,1.1 0 1 0 2.3,0a1.1,1.1 0 1 0 -2.3,0M870.0,86.7m-1.1,0a1.1,1.1 0 1 0 2.3,0a1.1,1.1 0 1 0 -2.3,0M872.0,93.0m-1.1,0a1.1,1.1 0 1 0 2.3,0a1.1,1.1 0 1 0 -2.3,0"/>
<path class="rd" d="M928.0,56.0m-1.1,0a1.1,1.1 0 1 0 2.3,0a1.1,1.1 0 1 0 -2.3,0M929.6,62.0m-1.1,0a1.1,1.1 0 1 0 2.3,0a1.1,1.1 0 1 0 -2.3,0M931.2,68.0m-1.1,0a1.1,1.1 0 1 0 2.3,0a1.1,1.1 0 1 0 -2.3,0M932.8,74.0m-1.1,0a1.1,1.1 0 1 0 2.3,0a1.1,1.1 0 1 0 -2.3,0M934.4,80.0m-1.1,0a1.1,1.1 0 1 0 2.3,0a1.1,1.1 0 1 0 -2.3,0M936.0,86.0m-1.1,0a1.1,1.1 0 1 0 2.3,0a1.1,1.1 0 1 0 -2.3,0"/>
<path class="rd" d="M923.0,55.5m-1.1,0a1.1,1.1 0 1 0 2.3,0a1.1,1.1 0 1 0 -2.3,0M925.2,62.1m-1.1,0a1.1,1.1 0 1 0 2.3,0a1.1,1.1 0 1 0 -2.3,0M927.5,68.8m-1.1,0a1.1,1.1 0 1 0 2.3,0a1.1,1.1 0 1 0 -2.3,0M929.8,75.4m-1.1,0a1.1,1.1 0 1 0 2.3,0a1.1,1.1 0 1 0 -2.3,0M932.0,82.0m-1.1,0a1.1,1.1 0 1 0 2.3,0a1.1,1.1 0 1 0 -2.3,0"/>
<path class="rd" d="M875.5,78.8m-1.3,0a1.3,1.3 0 1 0 2.6,0a1.3,1.3 0 1 0 -2.6,0M879.5,91.5m-1.3,0a1.3,1.3 0 1 0 2.6,0a1.3,1.3 0 1 0 -2.6,0"/>
<rect class="h" x="691.3" y="67" width="37.4" height="23.2" rx="12.4" ry="11.6" transform="rotate(9 710 78.6)"/>
<polygon class="h" points="882.5,80.5 904.5,62.2 923.0,59.7 927.5,84.3 887.0,92.0"/>
</g>
<use href="#p34" transform="translate(1625.2,74.3) scale(-1,1)"/>
<g id="p36">
<path class="f" d="M358,202.2 L658,202.2 L658,210.2 L358,210.2 Z" />
<path class="f" d="M660,202.2 L961.3,202.2 L961.3,218.8 L952.3,218.8 L952.3,210.2 L660,210.2 Z" />
<path class="f" d="M358,261.6 L658,261.6 L658,270 L358,270 Z" />
<path class="f" d="M660,261.6 L952.3,261.6 L952.3,253 L961.3,253 L961.3,270 L660,270 Z" />
<rect class="p" x="366.0" y="211.0" width="586.3" height="50.0"/>
<line class="l" x1="366.0" y1="213.3" x2="952.3" y2="213.3"/>
<line class="l" x1="366.0" y1="258.6" x2="952.3" y2="258.6"/>
<path class="f" d="M358,217.5 L366,217.5 L366,221.4 L468,224.6 Q470.5,224.4 471,222 A5,5 0 0 1 481,222 Q481.5,224.8 484,225 L850,230.6 Q851.4,230.4 851.4,228 L851.4,223 A5.1,5.1 0 0 1 861.6,223 L861.6,228 Q861.6,230.8 864,231 L952.3,231.8 L952.3,223 L960.4,223 L960.4,248.5 L952.3,248.5 L952.3,240 L864,241 Q861.6,241.2 861.6,244 L861.6,248.6 A5.1,5.1 0 0 1 851.4,248.6 L851.4,244 Q851.4,241.6 850,241.5 L484,246.6 Q481.5,246.8 481,249.5 A5,5 0 0 1 471,249.5 Q470.5,247.2 468,247 L366,250 L366,254.5 L358,254.5 Z" />
<rect class="g" x="358.6" y="210.8" width="6.9" height="6.2"/>
<rect class="g" x="358.6" y="255.0" width="6.9" height="6.0"/>
<path class="r" d="M375.6,216.8m-1.2,0a1.2,1.2 0 1 0 2.4,0a1.2,1.2 0 1 0 -2.4,0M409.0,216.8m-1.2,0a1.2,1.2 0 1 0 2.4,0a1.2,1.2 0 1 0 -2.4,0M442.5,216.8m-1.2,0a1.2,1.2 0 1 0 2.4,0a1.2,1.2 0 1 0 -2.4,0M475.9,216.8m-1.2,0a1.2,1.2 0 1 0 2.4,0a1.2,1.2 0 1 0 -2.4,0M509.3,216.8m-1.2,0a1.2,1.2 0 1 0 2.4,0a1.2,1.2 0 1 0 -2.4,0M542.8,216.8m-1.2,0a1.2,1.2 0 1 0 2.4,0a1.2,1.2 0 1 0 -2.4,0M576.2,216.8m-1.2,0a1.2,1.2 0 1 0 2.4,0a1.2,1.2 0 1 0 -2.4,0M609.6,216.8m-1.2,0a1.2,1.2 0 1 0 2.4,0a1.2,1.2 0 1 0 -2.4,0M643.1,216.8m-1.2,0a1.2,1.2 0 1 0 2.4,0a1.2,1.2 0 1 0 -2.4,0M676.5,216.8m-1.2,0a1.2,1.2 0 1 0 2.4,0a1.2,1.2 0 1 0 -2.4,0M710.0,216.8m-1.2,0a1.2,1.2 0 1 0 2.4,0a1.2,1.2 0 1 0 -2.4,0M743.4,216.8m-1.2,0a1.2,1.2 0 1 0 2.4,0a1.2,1.2 0 1 0 -2.4,0M776.8,216.8m-1.2,0a1.2,1.2 0 1 0 2.4,0a1.2,1.2 0 1 0 -2.4,0M810.3,216.8m-1.2,0a1.2,1.2 0 1 0 2.4,0a1.2,1.2 0 1 0 -2.4,0M843.7,216.8m-1.2,0a1.2,1.2 0 1 0 2.4,0a1.2,1.2 0 1 0 -2.4,0M877.1,216.8m-1.2,0a1.2,1.2 0 1 0 2.4,0a1.2,1.2 0 1 0 -2.4,0M910.6,216.8m-1.2,0a1.2,1.2 0 1 0 2.4,0a1.2,1.2 0 1 0 -2.4,0M944.0,216.8m-1.2,0a1.2,1.2 0 1 0 2.4,0a1.2,1.2 0 1 0 -2.4,0"/>
<path class="r" d="M375.6,254.8m-1.2,0a1.2,1.2 0 1 0 2.4,0a1.2,1.2 0 1 0 -2.4,0M409.0,254.8m-1.2,0a1.2,1.2 0 1 0 2.4,0a1.2,1.2 0 1 0 -2.4,0M442.5,254.8m-1.2,0a1.2,1.2 0 1 0 2.4,0a1.2,1.2 0 1 0 -2.4,0M475.9,254.8m-1.2,0a1.2,1.2 0 1 0 2.4,0a1.2,1.2 0 1 0 -2.4,0M509.3,254.8m-1.2,0a1.2,1.2 0 1 0 2.4,0a1.2,1.2 0 1 0 -2.4,0M542.8,254.8m-1.2,0a1.2,1.2 0 1 0 2.4,0a1.2,1.2 0 1 0 -2.4,0M576.2,254.8m-1.2,0a1.2,1.2 0 1 0 2.4,0a1.2,1.2 0 1 0 -2.4,0M609.6,254.8m-1.2,0a1.2,1.2 0 1 0 2.4,0a1.2,1.2 0 1 0 -2.4,0M643.1,254.8m-1.2,0a1.2,1.2 0 1 0 2.4,0a1.2,1.2 0 1 0 -2.4,0M676.5,254.8m-1.2,0a1.2,1.2 0 1 0 2.4,0a1.2,1.2 0 1 0 -2.4,0M710.0,254.8m-1.2,0a1.2,1.2 0 1 0 2.4,0a1.2,1.2 0 1 0 -2.4,0M743.4,254.8m-1.2,0a1.2,1.2 0 1 0 2.4,0a1.2,1.2 0 1 0 -2.4,0M776.8,254.8m-1.2,0a1.2,1.2 0 1 0 2.4,0a1.2,1.2 0 1 0 -2.4,0M810.3,254.8m-1.2,0a1.2,1.2 0 1 0 2.4,0a1.2,1.2 0 1 0 -2.4,0M843.7,254.8m-1.2,0a1.2,1.2 0 1 0 2.4,0a1.2,1.2 0 1 0 -2.4,0M877.1,254.8m-1.2,0a1.2,1.2 0 1 0 2.4,0a1.2,1.2 0 1 0 -2.4,0M910.6,254.8m-1.2,0a1.2,1.2 0 1 0 2.4,0a1.2,1.2 0 1 0 -2.4,0M944.0,254.8m-1.2,0a1.2,1.2 0 1 0 2.4,0a1.2,1.2 0 1 0 -2.4,0"/>
</g>
<g id="p24">
<rect class="f" x="39.1" y="211.5" width="115.9" height="60.8"/>
<polygon class="p" points="47.5,230.7 55.9,230.7 60.8,233.2 67.8,220.2 74.8,222.3 60.1,262.9 47.5,262.9" />
<polygon points="46.8,237.0 58.0,237.0 60.4,240.2 58.0,243.3 46.8,243.3" fill="#b3b4b4" stroke="none"/>
<polyline class="l" points="47.5,237.0 58.0,237.0 60.4,240.2 58.0,243.3 47.5,243.3"/>
<line class="l" x1="55.9" y1="243.3" x2="55.9" y2="262.9"/>
<polygon class="p" points="81.8,220.2 86.6,220.8 86.6,239.8 84.0,243.0 87.4,247.5 87.4,253.1 78.2,253.6 74.8,262.9 67.8,260.8" />
<polygon class="p" points="87.4,221.6 94.4,221.6 94.4,239.8 87.4,239.8" />
<polygon class="p" points="87.4,247.5 94.4,247.5 94.4,253.1 87.4,253.1" />
<path class="rd" d="M51.5,234.0m-1.1,0a1.1,1.1 0 1 0 2.2,0a1.1,1.1 0 1 0 -2.2,0M51.5,247.5m-1.1,0a1.1,1.1 0 1 0 2.2,0a1.1,1.1 0 1 0 -2.2,0M51.5,258.7m-1.1,0a1.1,1.1 0 1 0 2.2,0a1.1,1.1 0 1 0 -2.2,0M60.5,248.0m-1.1,0a1.1,1.1 0 1 0 2.2,0a1.1,1.1 0 1 0 -2.2,0M81.5,236.2m-1.1,0a1.1,1.1 0 1 0 2.2,0a1.1,1.1 0 1 0 -2.2,0M90.8,225.5m-1.1,0a1.1,1.1 0 1 0 2.2,0a1.1,1.1 0 1 0 -2.2,0M90.8,237.0m-1.1,0a1.1,1.1 0 1 0 2.2,0a1.1,1.1 0 1 0 -2.2,0M90.8,250.3m-1.1,0a1.1,1.1 0 1 0 2.2,0a1.1,1.1 0 1 0 -2.2,0"/>
<rect class="g" x="69.0" y="211.0" width="3.4" height="9.6"/>
<line class="l" x1="69.0" y1="211.0" x2="69.0" y2="220.6"/>
<line class="l" x1="72.4" y1="211.0" x2="72.4" y2="220.6"/>
<rect class="g" x="88.2" y="211.0" width="3.6" height="10.6"/>
<line class="l" x1="88.2" y1="211.0" x2="88.2" y2="221.6"/>
<line class="l" x1="91.8" y1="211.0" x2="91.8" y2="221.6"/>
<rect class="g" x="49.8" y="262.9" width="3.2" height="9.9"/>
<line class="l" x1="49.8" y1="262.9" x2="49.8" y2="272.8"/>
<line class="l" x1="53.0" y1="262.9" x2="53.0" y2="272.8"/>
<rect class="g" x="69.4" y="262.3" width="3.2" height="10.5"/>
<line class="l" x1="69.4" y1="262.3" x2="69.4" y2="272.8"/>
<line class="l" x1="72.6" y1="262.3" x2="72.6" y2="272.8"/>
<polygon class="p" points="146.8,230.7 138.4,230.7 133.5,233.2 126.5,220.2 119.5,222.3 134.2,262.9 146.8,262.9" />
<polygon points="147.5,237.0 136.3,237.0 133.9,240.2 136.3,243.3 147.5,243.3" fill="#b3b4b4" stroke="none"/>
<polyline class="l" points="146.8,237.0 136.3,237.0 133.9,240.2 136.3,243.3 146.8,243.3"/>
<line class="l" x1="138.4" y1="243.3" x2="138.4" y2="262.9"/>
<polygon class="p" points="112.5,220.2 107.7,220.8 107.7,239.8 110.3,243.0 106.9,247.5 106.9,253.1 116.1,253.6 119.5,262.9 126.5,260.8" />
<polygon class="p" points="106.9,221.6 99.9,221.6 99.9,239.8 106.9,239.8" />
<polygon class="p" points="106.9,247.5 99.9,247.5 99.9,253.1 106.9,253.1" />
<path class="rd" d="M142.8,234.0m-1.1,0a1.1,1.1 0 1 0 2.2,0a1.1,1.1 0 1 0 -2.2,0M142.8,247.5m-1.1,0a1.1,1.1 0 1 0 2.2,0a1.1,1.1 0 1 0 -2.2,0M142.8,258.7m-1.1,0a1.1,1.1 0 1 0 2.2,0a1.1,1.1 0 1 0 -2.2,0M133.8,248.0m-1.1,0a1.1,1.1 0 1 0 2.2,0a1.1,1.1 0 1 0 -2.2,0M112.8,236.2m-1.1,0a1.1,1.1 0 1 0 2.2,0a1.1,1.1 0 1 0 -2.2,0M103.5,225.5m-1.1,0a1.1,1.1 0 1 0 2.2,0a1.1,1.1 0 1 0 -2.2,0M103.5,237.0m-1.1,0a1.1,1.1 0 1 0 2.2,0a1.1,1.1 0 1 0 -2.2,0M103.5,250.3m-1.1,0a1.1,1.1 0 1 0 2.2,0a1.1,1.1 0 1 0 -2.2,0"/>
<rect class="g" x="121.9" y="211.0" width="3.4" height="9.6"/>
<line class="l" x1="121.9" y1="211.0" x2="121.9" y2="220.6"/>
<line class="l" x1="125.3" y1="211.0" x2="125.3" y2="220.6"/>
<rect class="g" x="102.5" y="211.0" width="3.6" height="10.6"/>
<line class="l" x1="102.5" y1="211.0" x2="102.5" y2="221.6"/>
<line class="l" x1="106.1" y1="211.0" x2="106.1" y2="221.6"/>
<rect class="g" x="141.3" y="262.9" width="3.2" height="9.9"/>
<line class="l" x1="141.3" y1="262.9" x2="141.3" y2="272.8"/>
<line class="l" x1="144.5" y1="262.9" x2="144.5" y2="272.8"/>
<rect class="g" x="121.7" y="262.3" width="3.2" height="10.5"/>
<line class="l" x1="121.7" y1="262.3" x2="121.7" y2="272.8"/>
<line class="l" x1="124.9" y1="262.3" x2="124.9" y2="272.8"/>
<rect class="p" x="94.4" y="248.6" width="5.5" height="3.4"/>
<rect class="f" x="81.8" y="241.2" width="30.8" height="6.3" rx="3.1"/>
<rect x="95.2" y="222" width="4.2" height="22" fill="#b3b4b4"/>
</g>
<g id="p26">
<path class="f" d="M201.2,203.0 A35.6,35.6 0 0 1 226.6,260.9 L220.5,256.0 A27.8,27.8 0 0 0 200.7,210.8 Z" />
<path class="f" d="M223.5,264.3 A35.6,35.6 0 0 1 175.7,265.5 L180.8,259.6 A27.8,27.8 0 0 0 218.1,258.6 Z" />
<path class="f" d="M172.4,262.3 A35.6,35.6 0 0 1 196.6,203.0 L197.1,210.8 A27.8,27.8 0 0 0 178.2,257.1 Z" />
<defs><clipPath id="mclip"><circle cx="198.9" cy="238.5" r="23.3"/></clipPath></defs>
<circle cx="198.9" cy="238.5" r="25.8" fill="#e6e6e6" stroke="#484848" stroke-width="1"/>
<g clip-path="url(#mclip)"><rect x="170" y="210" width="58" height="57" fill="#747474"/><path d="M171.10,210V267M170,210.30H228M175.45,210V267M170,214.65H228M179.80,210V267M170,219.00H228M184.15,210V267M170,223.35H228M188.50,210V267M170,227.70H228M192.85,210V267M170,232.05H228M197.20,210V267M170,236.40H228M201.55,210V267M170,240.75H228M205.90,210V267M170,245.10H228M210.25,210V267M170,249.45H228M214.60,210V267M170,253.80H228M218.95,210V267M170,258.15H228M223.30,210V267M170,262.50H228" stroke="#e9e9e9" stroke-width="1.35" fill="none"/></g>
<circle cx="198.9" cy="238.5" r="23.3" fill="none" stroke="#777" stroke-width="0.7"/>
</g>
<g id="p28">
<path class="f" d="M254,218 L348,218 L348,270.4 L254,270.4 Q240,270.4 240,257.5 Q240,248 243.6,244.2 Q240,240 240,231 Q240,218 254,218 Z" />
<path class="p" d="M256.6,227.0 L274.0,227.0 Q267.0,235.0 274.0,243.0 L256.6,243.0 A8.0,8.0 0 0 1 256.6,227.0 Z" />
<ellipse class="h" cx="259.2" cy="235.0" rx="7.2" ry="4.4"/>
<path class="p" d="M256.4,246.0 L274.0,246.0 Q267.0,253.8 274.0,261.6 L256.4,261.6 A7.8,7.8 0 0 1 256.4,246.0 Z" />
<ellipse class="h" cx="259.2" cy="253.8" rx="7.2" ry="4.4"/>
<path class="p" d="M288.0,227.0 L307.0,227.0 Q300.0,235.0 307.0,243.0 L288.0,243.0 A8.0,8.0 0 0 1 288.0,227.0 Z" />
<ellipse class="h" cx="290.6" cy="235.0" rx="7.2" ry="4.4"/>
<path class="p" d="M287.8,246.0 L307.0,246.0 Q300.0,253.8 307.0,261.6 L287.8,261.6 A7.8,7.8 0 0 1 287.8,246.0 Z" />
<ellipse class="h" cx="290.6" cy="253.8" rx="7.2" ry="4.4"/>
<path class="p" d="M321.0,227.0 L341.0,227.0 Q334.0,235.0 341.0,243.0 L321.0,243.0 A8.0,8.0 0 0 1 321.0,227.0 Z" />
<ellipse class="h" cx="323.6" cy="235.0" rx="7.2" ry="4.4"/>
<path class="p" d="M320.8,246.0 L341.0,246.0 Q334.0,253.8 341.0,261.6 L320.8,261.6 A7.8,7.8 0 0 1 320.8,246.0 Z" />
<ellipse class="h" cx="323.6" cy="253.8" rx="7.2" ry="4.4"/>
<rect class="g" x="264.0" y="217.2" width="3.0" height="9.8"/>
<line class="l" x1="264.0" y1="218.0" x2="264.0" y2="227.0"/>
<line class="l" x1="267.0" y1="218.0" x2="267.0" y2="227.0"/>
<rect class="g" x="264.0" y="261.6" width="3.0" height="9.4"/>
<line class="l" x1="264.0" y1="261.6" x2="264.0" y2="270.4"/>
<line class="l" x1="267.0" y1="261.6" x2="267.0" y2="270.4"/>
<rect class="g" x="264.0" y="243.0" width="3.0" height="3.0"/>
<rect class="g" x="296.0" y="217.2" width="3.0" height="9.8"/>
<line class="l" x1="296.0" y1="218.0" x2="296.0" y2="227.0"/>
<line class="l" x1="299.0" y1="218.0" x2="299.0" y2="227.0"/>
<rect class="g" x="296.0" y="261.6" width="3.0" height="9.4"/>
<line class="l" x1="296.0" y1="261.6" x2="296.0" y2="270.4"/>
<line class="l" x1="299.0" y1="261.6" x2="299.0" y2="270.4"/>
<rect class="g" x="296.0" y="243.0" width="3.0" height="3.0"/>
<rect class="g" x="330.0" y="217.2" width="3.0" height="9.8"/>
<line class="l" x1="330.0" y1="218.0" x2="330.0" y2="227.0"/>
<line class="l" x1="333.0" y1="218.0" x2="333.0" y2="227.0"/>
<rect class="g" x="330.0" y="261.6" width="3.0" height="9.4"/>
<line class="l" x1="330.0" y1="261.6" x2="330.0" y2="270.4"/>
<line class="l" x1="333.0" y1="261.6" x2="333.0" y2="270.4"/>
<rect class="g" x="330.0" y="243.0" width="3.0" height="3.0"/>
</g>
<g id="p38">
<rect class="f" x="897.6" y="302.4" width="64.0" height="93.2"/>
<rect class="g" x="909.1" y="301.6" width="3.4" height="9.4"/>
<line class="l" x1="909.1" y1="302.4" x2="909.1" y2="311.0"/>
<line class="l" x1="912.5" y1="302.4" x2="912.5" y2="311.0"/>
<rect class="g" x="909.1" y="387.0" width="3.4" height="9.4"/>
<line class="l" x1="909.1" y1="387.0" x2="909.1" y2="395.6"/>
<line class="l" x1="912.5" y1="387.0" x2="912.5" y2="395.6"/>
<rect class="p" x="906.0" y="311.0" width="9.6" height="76.0"/>
<line class="l" x1="906.0" y1="325.6" x2="915.6" y2="325.6"/>
<line class="l" x1="906.0" y1="372.4" x2="915.6" y2="372.4"/>
<rect class="g" x="927.7" y="301.6" width="3.4" height="9.4"/>
<line class="l" x1="927.7" y1="302.4" x2="927.7" y2="311.0"/>
<line class="l" x1="931.1" y1="302.4" x2="931.1" y2="311.0"/>
<rect class="g" x="927.7" y="387.0" width="3.4" height="9.4"/>
<line class="l" x1="927.7" y1="387.0" x2="927.7" y2="395.6"/>
<line class="l" x1="931.1" y1="387.0" x2="931.1" y2="395.6"/>
<rect class="p" x="924.6" y="311.0" width="9.6" height="76.0"/>
<line class="l" x1="924.6" y1="325.6" x2="934.2" y2="325.6"/>
<line class="l" x1="924.6" y1="372.4" x2="934.2" y2="372.4"/>
<rect class="g" x="946.5" y="301.6" width="3.4" height="9.4"/>
<line class="l" x1="946.5" y1="302.4" x2="946.5" y2="311.0"/>
<line class="l" x1="949.9" y1="302.4" x2="949.9" y2="311.0"/>
<rect class="g" x="946.5" y="387.0" width="3.4" height="9.4"/>
<line class="l" x1="946.5" y1="387.0" x2="946.5" y2="395.6"/>
<line class="l" x1="949.9" y1="387.0" x2="949.9" y2="395.6"/>
<rect class="p" x="943.4" y="311.0" width="9.6" height="76.0"/>
<line class="l" x1="943.4" y1="325.6" x2="953.0" y2="325.6"/>
<line class="l" x1="943.4" y1="372.4" x2="953.0" y2="372.4"/>
</g>
<g id="p39">
<path class="f" d="M832,313 L874.4,313 L874.4,322.4 L887,322.4 L887,389 L874.4,389 L874.4,398.4 L832,398.4 Q824,397.5 821.5,392 Q817.4,384 817.4,376 L817.4,334 Q817.4,326 821.5,319 Q824,314 832,313 Z" />
<rect class="g" x="816.6" y="344.0" width="20.0" height="23.0"/>
<line class="l" x1="817.4" y1="344.0" x2="832.8" y2="344.0"/>
<line class="l" x1="817.4" y1="367.0" x2="832.8" y2="367.0"/>
<path class="f" d="M817.4,347.7 L825.4,347.7 A8,7.95 0 0 1 825.4,363.6 L817.4,363.6 Z" />
<polygon class="f" points="820.6,344.0 823.0,344.0 823.0,347.7 820.6,347.7" />
<polygon class="f" points="820.6,363.6 823.0,363.6 823.0,367.0 820.6,367.0" />
<path d="M829.4,313.6 Q840.6,355 829.4,397.8" fill="none" stroke="#484848" stroke-width="4.6"/>
<path d="M829.4,313.2 Q840.6,355 829.4,398.2" fill="none" stroke="#e1e2e2" stroke-width="2.7"/>
<line class="l" x1="835.6" y1="344.0" x2="835.6" y2="367.0"/>
<polygon class="p" points="843.4,321.4 865.8,321.4 865.8,329.7 874.1,334.6 867.2,342.4 867.2,343.4 843.4,343.4" />
<polygon class="p" points="843.4,389.2 865.8,389.2 865.8,381.0 874.1,376.0 867.2,368.2 867.2,367.2 843.4,367.2" />
<rect class="p" x="850.6" y="344.0" width="16.6" height="21.2"/>
<path class="p" d="M867.2,345.6 L879.4,345.6 A8,8.6 0 0 0 879.4,363.8 L867.2,363.8 Z" />
<path class="l" d="M843.4,336.2 L849,336.2 Q853,335 855,329.5 Q857.5,325 861,328.5 L861.6,343.4"/>
<path class="l" d="M843.4,374.4 L849,374.4 Q853,375.6 855,381.1 Q857.5,385.6 861,382.1 L861.6,367.2"/>
<rect class="g" x="853.8" y="312.2" width="3.2" height="9.2"/>
<line class="l" x1="853.8" y1="313.0" x2="853.8" y2="321.4"/>
<line class="l" x1="857.0" y1="313.0" x2="857.0" y2="321.4"/>
<rect class="g" x="853.8" y="389.2" width="3.2" height="10.0"/>
<line class="l" x1="853.8" y1="389.2" x2="853.8" y2="398.4"/>
<line class="l" x1="857.0" y1="389.2" x2="857.0" y2="398.4"/>
</g>
<g id="p41">
<polygon class="f" points="811.6,416.0 861.6,416.0 861.6,427.0 904.6,427.0 904.6,416.0 955.0,416.0 955.0,483.0 938.0,494.6 830.0,494.6 811.6,483.0" />
<polygon class="p" points="820.0,432.0 832.0,425.4 852.4,425.4 852.4,485.4 832.0,485.4 820.0,477.0" />
<line class="l" x1="840.0" y1="425.4" x2="840.0" y2="485.4"/>
<line class="l" x1="841.8" y1="425.4" x2="841.8" y2="485.4"/>
<path class="rd" d="M824.0,440.0m-1.1,0a1.1,1.1 0 1 0 2.2,0a1.1,1.1 0 1 0 -2.2,0M824.0,456.0m-1.1,0a1.1,1.1 0 1 0 2.2,0a1.1,1.1 0 1 0 -2.2,0M824.0,471.0m-1.1,0a1.1,1.1 0 1 0 2.2,0a1.1,1.1 0 1 0 -2.2,0M829.5,433.0m-1.1,0a1.1,1.1 0 1 0 2.2,0a1.1,1.1 0 1 0 -2.2,0M829.5,448.0m-1.1,0a1.1,1.1 0 1 0 2.2,0a1.1,1.1 0 1 0 -2.2,0M829.5,463.5m-1.1,0a1.1,1.1 0 1 0 2.2,0a1.1,1.1 0 1 0 -2.2,0M829.5,479.0m-1.1,0a1.1,1.1 0 1 0 2.2,0a1.1,1.1 0 1 0 -2.2,0M835.5,428.5m-1.1,0a1.1,1.1 0 1 0 2.2,0a1.1,1.1 0 1 0 -2.2,0M835.5,442.0m-1.1,0a1.1,1.1 0 1 0 2.2,0a1.1,1.1 0 1 0 -2.2,0M835.5,456.0m-1.1,0a1.1,1.1 0 1 0 2.2,0a1.1,1.1 0 1 0 -2.2,0M835.5,470.0m-1.1,0a1.1,1.1 0 1 0 2.2,0a1.1,1.1 0 1 0 -2.2,0M835.5,482.5m-1.1,0a1.1,1.1 0 1 0 2.2,0a1.1,1.1 0 1 0 -2.2,0M844.5,429.0m-1.1,0a1.1,1.1 0 1 0 2.2,0a1.1,1.1 0 1 0 -2.2,0M849.5,429.0m-1.1,0a1.1,1.1 0 1 0 2.2,0a1.1,1.1 0 1 0 -2.2,0M847.0,437.0m-1.1,0a1.1,1.1 0 1 0 2.2,0a1.1,1.1 0 1 0 -2.2,0M844.5,447.0m-1.1,0a1.1,1.1 0 1 0 2.2,0a1.1,1.1 0 1 0 -2.2,0M849.5,447.0m-1.1,0a1.1,1.1 0 1 0 2.2,0a1.1,1.1 0 1 0 -2.2,0M847.0,456.0m-1.1,0a1.1,1.1 0 1 0 2.2,0a1.1,1.1 0 1 0 -2.2,0M844.5,465.0m-1.1,0a1.1,1.1 0 1 0 2.2,0a1.1,1.1 0 1 0 -2.2,0M849.5,465.0m-1.1,0a1.1,1.1 0 1 0 2.2,0a1.1,1.1 0 1 0 -2.2,0M847.0,474.0m-1.1,0a1.1,1.1 0 1 0 2.2,0a1.1,1.1 0 1 0 -2.2,0M844.5,482.0m-1.1,0a1.1,1.1 0 1 0 2.2,0a1.1,1.1 0 1 0 -2.2,0M849.5,482.0m-1.1,0a1.1,1.1 0 1 0 2.2,0a1.1,1.1 0 1 0 -2.2,0"/>
<rect class="p" x="862.4" y="436.0" width="14.0" height="49.4"/>
<line class="l" x1="862.4" y1="444.0" x2="876.4" y2="444.0"/>
<line class="l" x1="862.4" y1="477.0" x2="876.4" y2="477.0"/>
<circle cx="869.4" cy="461" r="2.3" fill="#d0d0d0" stroke="#484848" stroke-width="1"/>
<path class="r" d="M865.9,440.0m-0.9,0a0.9,0.9 0 1 0 1.8,0a0.9,0.9 0 1 0 -1.8,0M869.4,440.0m-0.9,0a0.9,0.9 0 1 0 1.8,0a0.9,0.9 0 1 0 -1.8,0M872.9,440.0m-0.9,0a0.9,0.9 0 1 0 1.8,0a0.9,0.9 0 1 0 -1.8,0M865.9,481.3m-0.9,0a0.9,0.9 0 1 0 1.8,0a0.9,0.9 0 1 0 -1.8,0M869.4,481.3m-0.9,0a0.9,0.9 0 1 0 1.8,0a0.9,0.9 0 1 0 -1.8,0M872.9,481.3m-0.9,0a0.9,0.9 0 1 0 1.8,0a0.9,0.9 0 1 0 -1.8,0"/>
<rect class="g" x="846.6" y="415.2" width="3.0" height="10.2"/>
<line class="l" x1="846.6" y1="416.0" x2="846.6" y2="425.4"/>
<line class="l" x1="849.6" y1="416.0" x2="849.6" y2="425.4"/>
<rect class="g" x="846.6" y="485.4" width="3.0" height="10.0"/>
<line class="l" x1="846.6" y1="485.4" x2="846.6" y2="494.6"/>
<line class="l" x1="849.6" y1="485.4" x2="849.6" y2="494.6"/>
<rect class="g" x="811.0" y="443.0" width="9.0" height="2.8"/>
<line class="l" x1="811.0" y1="443.0" x2="820.0" y2="443.0"/>
<line class="l" x1="811.0" y1="445.8" x2="820.0" y2="445.8"/>
<polygon class="p" points="946.6,432.0 934.6,425.4 914.2,425.4 914.2,485.4 934.6,485.4 946.6,477.0" />
<line class="l" x1="926.6" y1="425.4" x2="926.6" y2="485.4"/>
<line class="l" x1="924.8" y1="425.4" x2="924.8" y2="485.4"/>
<path class="rd" d="M942.6,440.0m-1.1,0a1.1,1.1 0 1 0 2.2,0a1.1,1.1 0 1 0 -2.2,0M942.6,456.0m-1.1,0a1.1,1.1 0 1 0 2.2,0a1.1,1.1 0 1 0 -2.2,0M942.6,471.0m-1.1,0a1.1,1.1 0 1 0 2.2,0a1.1,1.1 0 1 0 -2.2,0M937.1,433.0m-1.1,0a1.1,1.1 0 1 0 2.2,0a1.1,1.1 0 1 0 -2.2,0M937.1,448.0m-1.1,0a1.1,1.1 0 1 0 2.2,0a1.1,1.1 0 1 0 -2.2,0M937.1,463.5m-1.1,0a1.1,1.1 0 1 0 2.2,0a1.1,1.1 0 1 0 -2.2,0M937.1,479.0m-1.1,0a1.1,1.1 0 1 0 2.2,0a1.1,1.1 0 1 0 -2.2,0M931.1,428.5m-1.1,0a1.1,1.1 0 1 0 2.2,0a1.1,1.1 0 1 0 -2.2,0M931.1,442.0m-1.1,0a1.1,1.1 0 1 0 2.2,0a1.1,1.1 0 1 0 -2.2,0M931.1,456.0m-1.1,0a1.1,1.1 0 1 0 2.2,0a1.1,1.1 0 1 0 -2.2,0M931.1,470.0m-1.1,0a1.1,1.1 0 1 0 2.2,0a1.1,1.1 0 1 0 -2.2,0M931.1,482.5m-1.1,0a1.1,1.1 0 1 0 2.2,0a1.1,1.1 0 1 0 -2.2,0M922.1,429.0m-1.1,0a1.1,1.1 0 1 0 2.2,0a1.1,1.1 0 1 0 -2.2,0M917.1,429.0m-1.1,0a1.1,1.1 0 1 0 2.2,0a1.1,1.1 0 1 0 -2.2,0M919.6,437.0m-1.1,0a1.1,1.1 0 1 0 2.2,0a1.1,1.1 0 1 0 -2.2,0M922.1,447.0m-1.1,0a1.1,1.1 0 1 0 2.2,0a1.1,1.1 0 1 0 -2.2,0M917.1,447.0m-1.1,0a1.1,1.1 0 1 0 2.2,0a1.1,1.1 0 1 0 -2.2,0M919.6,456.0m-1.1,0a1.1,1.1 0 1 0 2.2,0a1.1,1.1 0 1 0 -2.2,0M922.1,465.0m-1.1,0a1.1,1.1 0 1 0 2.2,0a1.1,1.1 0 1 0 -2.2,0M917.1,465.0m-1.1,0a1.1,1.1 0 1 0 2.2,0a1.1,1.1 0 1 0 -2.2,0M919.6,474.0m-1.1,0a1.1,1.1 0 1 0 2.2,0a1.1,1.1 0 1 0 -2.2,0M922.1,482.0m-1.1,0a1.1,1.1 0 1 0 2.2,0a1.1,1.1 0 1 0 -2.2,0M917.1,482.0m-1.1,0a1.1,1.1 0 1 0 2.2,0a1.1,1.1 0 1 0 -2.2,0"/>
<rect class="p" x="889.8" y="436.0" width="14.0" height="49.4"/>
<line class="l" x1="889.8" y1="444.0" x2="903.8" y2="444.0"/>
<line class="l" x1="889.8" y1="477.0" x2="903.8" y2="477.0"/>
<circle cx="896.8" cy="461" r="2.3" fill="#d0d0d0" stroke="#484848" stroke-width="1"/>
<path class="r" d="M893.3,440.0m-0.9,0a0.9,0.9 0 1 0 1.8,0a0.9,0.9 0 1 0 -1.8,0M896.8,440.0m-0.9,0a0.9,0.9 0 1 0 1.8,0a0.9,0.9 0 1 0 -1.8,0M900.3,440.0m-0.9,0a0.9,0.9 0 1 0 1.8,0a0.9,0.9 0 1 0 -1.8,0M893.3,481.3m-0.9,0a0.9,0.9 0 1 0 1.8,0a0.9,0.9 0 1 0 -1.8,0M896.8,481.3m-0.9,0a0.9,0.9 0 1 0 1.8,0a0.9,0.9 0 1 0 -1.8,0M900.3,481.3m-0.9,0a0.9,0.9 0 1 0 1.8,0a0.9,0.9 0 1 0 -1.8,0"/>
<rect class="g" x="917.0" y="415.2" width="3.0" height="10.2"/>
<line class="l" x1="917.0" y1="416.0" x2="917.0" y2="425.4"/>
<line class="l" x1="920.0" y1="416.0" x2="920.0" y2="425.4"/>
<rect class="g" x="917.0" y="485.4" width="3.0" height="10.0"/>
<line class="l" x1="917.0" y1="485.4" x2="917.0" y2="494.6"/>
<line class="l" x1="920.0" y1="485.4" x2="920.0" y2="494.6"/>
<rect class="g" x="946.6" y="443.0" width="9.0" height="2.8"/>
<line class="l" x1="946.6" y1="443.0" x2="955.6" y2="443.0"/>
<line class="l" x1="946.6" y1="445.8" x2="955.6" y2="445.8"/>
<rect class="g" x="867.4" y="426.2" width="3.2" height="9.8"/>
<line class="l" x1="867.4" y1="427.0" x2="867.4" y2="436.0"/>
<line class="l" x1="870.6" y1="427.0" x2="870.6" y2="436.0"/>
<rect class="g" x="867.4" y="485.4" width="3.2" height="10.0"/>
<line class="l" x1="867.4" y1="485.4" x2="867.4" y2="494.6"/>
<line class="l" x1="870.6" y1="485.4" x2="870.6" y2="494.6"/>
<rect class="g" x="895.6" y="426.2" width="3.2" height="9.8"/>
<line class="l" x1="895.6" y1="427.0" x2="895.6" y2="436.0"/>
<line class="l" x1="898.8" y1="427.0" x2="898.8" y2="436.0"/>
<rect class="g" x="895.6" y="485.4" width="3.2" height="10.0"/>
<line class="l" x1="895.6" y1="485.4" x2="895.6" y2="494.6"/>
<line class="l" x1="898.8" y1="485.4" x2="898.8" y2="494.6"/>
</g>
<g id="w44">
<path class="f" d="M58.6,294.6 Q44,295.5 41.5,307 Q40.5,315 43,323 Q46,332 52,340 L76.3,429.8 L85,428.4 L60,338 Q54,331 51.5,324 Q49,316 50.5,310 Q52,303 59.4,302 Z" />
<path class="f" d="M62,294 L75,293 Q80,294 82,299.5 L83,292.8 L86.4,292.6 L86.4,288.3 L95.8,288.8 L96.2,281.3 L108,282 L108,289.3 L103.6,289.9 L103,297.8 L96,298.3 L95.4,302.4 L90.4,302.6 L90,309.6 Q82,309 78,306 Q73,300.5 63,301 Z" />
<polygon class="f" points="112.5,282.6 235.5,296.5 235.5,305.0 111.6,291.3" />
<polygon class="f" points="239.1,297.0 358.5,310.5 358.5,318.7 239.1,305.4" />
<path class="f" d="M363,311.7 L375.6,312.4 L375.6,324 L381.4,325.5 Q386,322 390.8,323.6 L411,329 Q419.8,332 419.8,339.2 L418.6,348.6 L410.4,348.6 L410.4,339 Q410,336.5 406,335.4 L390.8,331.3 Q387,331.5 383.6,336.3 L373.4,337 L373.4,332.7 L368,332.7 L368,327 L365.5,326.9 L365.5,319.7 L362.4,319.3 Z" />
<polygon class="f" points="410.4,350.8 418.3,350.8 388.6,479.0 380.7,476.9" />
<polygon class="f" points="85.7,433.4 89.4,442.8 93.7,445.7 373.0,494.5 377.5,491.0 380.5,481.5 388.0,483.5 385.0,499.5 382.0,499.5 381.5,505.0 85.7,454.4 85.7,451.5 82.0,451.5 77.0,434.2" />
<polygon class="p" points="90.4,302.6 95.4,302.4 96.0,298.3 103.0,297.8 103.5,290.4 366.0,319.5 365.5,326.9 368.0,327.0 368.0,332.7 373.0,332.7 373.0,494.5 93.7,445.7 90.4,443.0" style="fill:#dbdcdc"/>
<line class="l" x1="103.5" y1="297.0" x2="366.0" y2="325.8"/>
<line class="l" x1="93.2" y1="441.8" x2="373.0" y2="490.6"/>
<polyline class="z" points="105.0,300.6 105.8,301.6 106.6,302.2 107.5,302.3 108.5,301.7 109.5,300.9 110.5,300.1 111.4,299.8 112.3,300.2 113.1,301.0 113.9,302.1 114.7,303.0 115.6,303.3 116.5,303.0 117.5,302.3 118.5,301.5 119.5,300.9 120.4,300.9 121.3,301.5 122.1,302.5 122.8,303.5 123.7,304.2 124.6,304.2 125.5,303.7 126.6,302.9 127.5,302.1 128.5,301.8 129.4,302.1 130.2,302.9 131.0,304.0 131.8,304.9 132.6,305.2 133.6,305.0 134.6,304.3 135.6,303.4 136.6,302.8 137.5,302.8 138.3,303.4 139.1,304.4 139.9,305.4 140.7,306.1 141.6,306.2 142.6,305.7 143.6,304.8 144.6,304.1 145.5,303.7 146.4,304.0 147.2,304.8 148.0,305.9 148.8,306.8 149.7,307.2 150.6,307.0 151.6,306.3 152.6,305.4 153.6,304.8 154.5,304.7 155.4,305.3 156.2,306.3 156.9,307.3 157.8,308.0 158.7,308.1 159.6,307.7 160.6,306.8 161.6,306.0 162.6,305.7 163.5,305.9 164.3,306.7 165.1,307.7 165.9,308.7 166.7,309.1 167.7,308.9 168.7,308.2 169.7,307.4 170.6,306.7 171.6,306.7 172.4,307.2 173.2,308.1 174.0,309.2 174.8,309.9 175.7,310.1 176.7,309.6 177.7,308.8 178.7,308.0 179.6,307.6 180.5,307.8 181.3,308.6 182.1,309.6 182.9,310.6 183.8,311.0 184.7,310.9 185.7,310.2 186.7,309.4 187.7,308.7 188.6,308.6 189.5,309.1 190.3,310.0 191.0,311.1 191.9,311.8 192.8,312.0 193.7,311.6 194.7,310.8 195.7,310.0 196.7,309.5 197.6,309.7 198.4,310.5 199.2,311.5 200.0,312.5 200.8,313.0 201.8,312.9 202.7,312.2 203.7,311.3 204.7,310.7 205.7,310.5 206.5,311.0 207.3,311.9 208.1,313.0 208.9,313.7 209.8,314.0 210.8,313.6 211.8,312.8 212.8,311.9 213.7,311.5 214.6,311.6 215.4,312.3 216.2,313.4 217.0,314.4 217.9,314.9 218.8,314.8 219.8,314.2 220.8,313.3 221.8,312.6 222.7,312.4 223.6,312.9 224.4,313.8 225.1,314.9 226.0,315.7 226.8,315.9 227.8,315.5 228.8,314.8 229.8,313.9 230.8,313.4 231.7,313.5 232.5,314.2 233.3,315.3 234.1,316.3 234.9,316.8 235.8,316.8 236.8,316.2 237.8,315.3 238.8,314.6 239.7,314.4 240.6,314.8 241.4,315.7 242.2,316.8 243.0,317.6 243.9,317.8 244.8,317.5 245.8,316.7 246.8,315.9 247.8,315.4 248.7,315.5 249.5,316.1 250.3,317.2 251.1,318.2 252.0,318.8 252.9,318.7 253.9,318.1 254.9,317.3 255.9,316.6 256.8,316.3 257.7,316.7 258.5,317.6 259.3,318.6 260.1,319.5 260.9,319.8 261.9,319.5 262.9,318.7 263.9,317.9 264.9,317.3 265.8,317.4 266.6,318.0 267.4,319.1 268.2,320.1 269.0,320.7 269.9,320.7 270.9,320.1 271.9,319.3 272.9,318.5 273.8,318.2 274.7,318.6 275.5,319.5 276.3,320.5 277.1,321.4 278.0,321.7 278.9,321.4 279.9,320.7 280.9,319.8 281.9,319.3 282.8,319.3 283.6,319.9 284.4,320.9 285.2,322.0 286.1,322.6 287.0,322.6 287.9,322.1 288.9,321.2 289.9,320.5 290.9,320.2 291.8,320.5 292.6,321.3 293.4,322.4 294.2,323.3 295.0,323.7 296.0,323.4 297.0,322.7 298.0,321.8 298.9,321.2 299.8,321.2 300.7,321.8 301.5,322.8 302.3,323.8 303.1,324.5 304.0,324.6 305.0,324.1 306.0,323.2 307.0,322.5 307.9,322.1 308.8,322.4 309.6,323.2 310.4,324.3 311.2,325.2 312.1,325.6 313.0,325.4 314.0,324.7 315.0,323.8 316.0,323.2 316.9,323.2 317.7,323.7 318.5,324.7 319.3,325.7 320.2,326.4 321.1,326.5 322.0,326.0 323.0,325.2 324.0,324.4 325.0,324.1 325.9,324.3 326.7,325.1 327.5,326.2 328.3,327.1 329.1,327.5 330.1,327.3 331.0,326.6 332.0,325.8 333.0,325.2 333.9,325.1 334.8,325.6 335.6,326.6 336.4,327.6 337.2,328.4 338.1,328.5 339.1,328.0 340.1,327.2 341.1,326.4 342.0,326.0 342.9,326.2 343.7,327.0 344.5,328.1 345.3,329.0 346.2,329.5 347.1,329.3 348.1,328.6 349.1,327.8 350.1,327.1 351.0,327.0 351.8,327.5 352.6,328.5 353.4,329.5 354.3,330.3 355.1,330.4 356.1,330.0 357.1,329.2 358.1,328.4"/>
<path class="l2" d="M182.4,309 L184,457.5 M277.5,319.5 L278.8,474"/>
<path d="M182.4,309 L184,457.5 M277.5,319.5 L278.8,474" stroke="#c4c4c4" stroke-width="1.3" fill="none"/>
<path class="l" d="M102.4,299 L102.4,338 L94,445 M100.6,300 L92.2,441 M359.7,327 L372.4,458 M361.4,327 L373,452" stroke-width="0.7"/>
<path d="M90.4,303 L90.4,443 M373,333 L373,494" stroke="#484848" stroke-width="1.8" fill="none"/>
<path d="M88,310 L88,440" stroke="#5e5e5e" stroke-width="2.2" stroke-dasharray="1.1,1.3" fill="none"/>
<path d="M60,336 L90,336 M373,369.3 L402.4,369.3 M373,458 L384.5,458" stroke="#6a6a6a" stroke-width="1.7" fill="none"/>
<path d="M377.2,340 L377.2,490" stroke="#666" stroke-width="2.3" stroke-dasharray="1.3,1.3" fill="none"/>
<path class="rd" d="M98.0,439.2m-1.1,0a1.1,1.1 0 1 0 2.2,0a1.1,1.1 0 1 0 -2.2,0M102.8,442.0m-1.1,0a1.1,1.1 0 1 0 2.2,0a1.1,1.1 0 1 0 -2.2,0M107.6,440.8m-1.1,0a1.1,1.1 0 1 0 2.2,0a1.1,1.1 0 1 0 -2.2,0M112.4,443.7m-1.1,0a1.1,1.1 0 1 0 2.2,0a1.1,1.1 0 1 0 -2.2,0M117.2,442.5m-1.1,0a1.1,1.1 0 1 0 2.2,0a1.1,1.1 0 1 0 -2.2,0M122.0,445.3m-1.1,0a1.1,1.1 0 1 0 2.2,0a1.1,1.1 0 1 0 -2.2,0M126.8,444.2m-1.1,0a1.1,1.1 0 1 0 2.2,0a1.1,1.1 0 1 0 -2.2,0M131.6,447.0m-1.1,0a1.1,1.1 0 1 0 2.2,0a1.1,1.1 0 1 0 -2.2,0M136.4,445.9m-1.1,0a1.1,1.1 0 1 0 2.2,0a1.1,1.1 0 1 0 -2.2,0M141.2,448.7m-1.1,0a1.1,1.1 0 1 0 2.2,0a1.1,1.1 0 1 0 -2.2,0M146.0,447.5m-1.1,0a1.1,1.1 0 1 0 2.2,0a1.1,1.1 0 1 0 -2.2,0M150.8,450.4m-1.1,0a1.1,1.1 0 1 0 2.2,0a1.1,1.1 0 1 0 -2.2,0M155.6,449.2m-1.1,0a1.1,1.1 0 1 0 2.2,0a1.1,1.1 0 1 0 -2.2,0M160.4,452.1m-1.1,0a1.1,1.1 0 1 0 2.2,0a1.1,1.1 0 1 0 -2.2,0M165.2,450.9m-1.1,0a1.1,1.1 0 1 0 2.2,0a1.1,1.1 0 1 0 -2.2,0M170.0,453.7m-1.1,0a1.1,1.1 0 1 0 2.2,0a1.1,1.1 0 1 0 -2.2,0M174.8,452.6m-1.1,0a1.1,1.1 0 1 0 2.2,0a1.1,1.1 0 1 0 -2.2,0M179.6,455.4m-1.1,0a1.1,1.1 0 1 0 2.2,0a1.1,1.1 0 1 0 -2.2,0M184.4,454.2m-1.1,0a1.1,1.1 0 1 0 2.2,0a1.1,1.1 0 1 0 -2.2,0M189.2,457.1m-1.1,0a1.1,1.1 0 1 0 2.2,0a1.1,1.1 0 1 0 -2.2,0M194.0,455.9m-1.1,0a1.1,1.1 0 1 0 2.2,0a1.1,1.1 0 1 0 -2.2,0M198.8,458.8m-1.1,0a1.1,1.1 0 1 0 2.2,0a1.1,1.1 0 1 0 -2.2,0M203.6,457.6m-1.1,0a1.1,1.1 0 1 0 2.2,0a1.1,1.1 0 1 0 -2.2,0M208.4,460.4m-1.1,0a1.1,1.1 0 1 0 2.2,0a1.1,1.1 0 1 0 -2.2,0M213.2,459.3m-1.1,0a1.1,1.1 0 1 0 2.2,0a1.1,1.1 0 1 0 -2.2,0M218.0,462.1m-1.1,0a1.1,1.1 0 1 0 2.2,0a1.1,1.1 0 1 0 -2.2,0M222.8,461.0m-1.1,0a1.1,1.1 0 1 0 2.2,0a1.1,1.1 0 1 0 -2.2,0M227.6,463.8m-1.1,0a1.1,1.1 0 1 0 2.2,0a1.1,1.1 0 1 0 -2.2,0M232.4,462.6m-1.1,0a1.1,1.1 0 1 0 2.2,0a1.1,1.1 0 1 0 -2.2,0M237.2,465.5m-1.1,0a1.1,1.1 0 1 0 2.2,0a1.1,1.1 0 1 0 -2.2,0M242.0,464.3m-1.1,0a1.1,1.1 0 1 0 2.2,0a1.1,1.1 0 1 0 -2.2,0M246.8,467.1m-1.1,0a1.1,1.1 0 1 0 2.2,0a1.1,1.1 0 1 0 -2.2,0M251.6,466.0m-1.1,0a1.1,1.1 0 1 0 2.2,0a1.1,1.1 0 1 0 -2.2,0M256.4,468.8m-1.1,0a1.1,1.1 0 1 0 2.2,0a1.1,1.1 0 1 0 -2.2,0M261.2,467.7m-1.1,0a1.1,1.1 0 1 0 2.2,0a1.1,1.1 0 1 0 -2.2,0M266.0,470.5m-1.1,0a1.1,1.1 0 1 0 2.2,0a1.1,1.1 0 1 0 -2.2,0M270.8,469.3m-1.1,0a1.1,1.1 0 1 0 2.2,0a1.1,1.1 0 1 0 -2.2,0M275.6,472.2m-1.1,0a1.1,1.1 0 1 0 2.2,0a1.1,1.1 0 1 0 -2.2,0M280.4,471.0m-1.1,0a1.1,1.1 0 1 0 2.2,0a1.1,1.1 0 1 0 -2.2,0M285.2,473.9m-1.1,0a1.1,1.1 0 1 0 2.2,0a1.1,1.1 0 1 0 -2.2,0M290.0,472.7m-1.1,0a1.1,1.1 0 1 0 2.2,0a1.1,1.1 0 1 0 -2.2,0M294.8,475.5m-1.1,0a1.1,1.1 0 1 0 2.2,0a1.1,1.1 0 1 0 -2.2,0M299.6,474.4m-1.1,0a1.1,1.1 0 1 0 2.2,0a1.1,1.1 0 1 0 -2.2,0M304.4,477.2m-1.1,0a1.1,1.1 0 1 0 2.2,0a1.1,1.1 0 1 0 -2.2,0M309.2,476.0m-1.1,0a1.1,1.1 0 1 0 2.2,0a1.1,1.1 0 1 0 -2.2,0M314.0,478.9m-1.1,0a1.1,1.1 0 1 0 2.2,0a1.1,1.1 0 1 0 -2.2,0M318.8,477.7m-1.1,0a1.1,1.1 0 1 0 2.2,0a1.1,1.1 0 1 0 -2.2,0M323.6,480.6m-1.1,0a1.1,1.1 0 1 0 2.2,0a1.1,1.1 0 1 0 -2.2,0M328.4,479.4m-1.1,0a1.1,1.1 0 1 0 2.2,0a1.1,1.1 0 1 0 -2.2,0M333.2,482.2m-1.1,0a1.1,1.1 0 1 0 2.2,0a1.1,1.1 0 1 0 -2.2,0M338.0,481.1m-1.1,0a1.1,1.1 0 1 0 2.2,0a1.1,1.1 0 1 0 -2.2,0M342.8,483.9m-1.1,0a1.1,1.1 0 1 0 2.2,0a1.1,1.1 0 1 0 -2.2,0M347.6,482.8m-1.1,0a1.1,1.1 0 1 0 2.2,0a1.1,1.1 0 1 0 -2.2,0M352.4,485.6m-1.1,0a1.1,1.1 0 1 0 2.2,0a1.1,1.1 0 1 0 -2.2,0M357.2,484.4m-1.1,0a1.1,1.1 0 1 0 2.2,0a1.1,1.1 0 1 0 -2.2,0M362.0,487.3m-1.1,0a1.1,1.1 0 1 0 2.2,0a1.1,1.1 0 1 0 -2.2,0M366.8,486.1m-1.1,0a1.1,1.1 0 1 0 2.2,0a1.1,1.1 0 1 0 -2.2,0"/>
</g>
<use href="#w44" transform="translate(850.8,0) scale(-1,1)"/>
<g id="w47">
<path class="f" d="M85.2,464.9 L101.2,468.6 L101.2,475 L94,475 L94,508.6 L91.6,508.6 L84.4,523.8 L84.4,636 L52.5,636 A6,6 0 0 0 52.5,648 L56.8,648 L56.8,655.8 L52.5,655.8 A13.4,13.4 0 0 1 52.5,629 L75.6,629 L74.8,523.8 L85.2,501.4 Z" />
<polygon class="f" points="60.0,648.6 110.4,648.6 110.4,720.0 102.8,720.0 102.8,655.6 60.0,655.6" />
<polygon class="f" points="106.0,468.6 232.5,490.9 232.5,499.4 106.0,477.5" />
<polygon class="f" points="238.0,491.8 364.0,514.0 363.6,522.2 238.0,500.4" />
<path class="f" d="M367.5,514.5 L381.5,517.5 L381,546.8 Q390,560 392.8,579.6 L393.2,594.6 L384.6,594.6 Q384,572 373.4,557.2 L373,523.5 L367,521 Z" />
<path class="f" d="M384.6,597.8 L393.3,597.8 L396.1,660 L420.8,660 L420.8,687.6 L377.4,687.6 Q370,687 369.5,682.6 L369.5,720.5 L357.6,720.5 L357.6,714.6 L361.4,714.6 L360.6,678.7 L361.6,653 Q364,620 373.4,591.8 L388.2,591.8 L388.2,666.8 L384.6,660 Z" />
<rect class="f" x="117.2" y="714.8" width="116.0" height="5.4"/>
<rect class="f" x="238.8" y="714.8" width="113.2" height="5.4"/>
<path class="p" d="M94,475.4 L373,523.8 L373.4,591.8 Q364,620 361.6,653 L361.2,714.6 L110.4,714.6 L110.4,649.6 L96,641.5 Z" style="fill:#dbdcdc"/>
<polygon class="p" points="92.6,509.6 94.0,509.6 94.0,641.0 85.2,636.4 85.2,523.2" />
<polygon class="p" points="374.4,591.8 384.4,591.8 388.2,666.8 374.4,666.8" />
<path class="p" d="M380.2,668.4 L411.3,668.4 L411.3,678.7 L380.2,678.7 A5.15,5.15 0 0 1 380.2,668.4 Z" />
<rect class="p" x="411.3" y="671.6" width="8.9" height="4.0"/>
<rect class="p" x="49.0" y="636.8" width="45.7" height="10.2" rx="5.1"/>
<path class="r" d="M54.3,641.9m-1.5,0a1.5,1.5 0 1 0 3.0,0a1.5,1.5 0 1 0 -3.0,0M89.5,641.9m-1.5,0a1.5,1.5 0 1 0 3.0,0a1.5,1.5 0 1 0 -3.0,0M380.0,673.5m-1.5,0a1.5,1.5 0 1 0 3.0,0a1.5,1.5 0 1 0 -3.0,0"/>
<path class="rd" d="M88.6,527.0m-1.1,0a1.1,1.1 0 1 0 2.2,0a1.1,1.1 0 1 0 -2.2,0M88.6,531.7m-1.1,0a1.1,1.1 0 1 0 2.2,0a1.1,1.1 0 1 0 -2.2,0M88.6,536.3m-1.1,0a1.1,1.1 0 1 0 2.2,0a1.1,1.1 0 1 0 -2.2,0M88.6,541.0m-1.1,0a1.1,1.1 0 1 0 2.2,0a1.1,1.1 0 1 0 -2.2,0M88.6,545.6m-1.1,0a1.1,1.1 0 1 0 2.2,0a1.1,1.1 0 1 0 -2.2,0M88.6,550.3m-1.1,0a1.1,1.1 0 1 0 2.2,0a1.1,1.1 0 1 0 -2.2,0M88.6,554.9m-1.1,0a1.1,1.1 0 1 0 2.2,0a1.1,1.1 0 1 0 -2.2,0M88.6,559.6m-1.1,0a1.1,1.1 0 1 0 2.2,0a1.1,1.1 0 1 0 -2.2,0M88.6,564.2m-1.1,0a1.1,1.1 0 1 0 2.2,0a1.1,1.1 0 1 0 -2.2,0M88.6,568.9m-1.1,0a1.1,1.1 0 1 0 2.2,0a1.1,1.1 0 1 0 -2.2,0M88.6,573.5m-1.1,0a1.1,1.1 0 1 0 2.2,0a1.1,1.1 0 1 0 -2.2,0M88.6,578.2m-1.1,0a1.1,1.1 0 1 0 2.2,0a1.1,1.1 0 1 0 -2.2,0M88.6,582.8m-1.1,0a1.1,1.1 0 1 0 2.2,0a1.1,1.1 0 1 0 -2.2,0M88.6,587.5m-1.1,0a1.1,1.1 0 1 0 2.2,0a1.1,1.1 0 1 0 -2.2,0M88.6,592.1m-1.1,0a1.1,1.1 0 1 0 2.2,0a1.1,1.1 0 1 0 -2.2,0M88.6,596.8m-1.1,0a1.1,1.1 0 1 0 2.2,0a1.1,1.1 0 1 0 -2.2,0M88.6,601.4m-1.1,0a1.1,1.1 0 1 0 2.2,0a1.1,1.1 0 1 0 -2.2,0M88.6,606.1m-1.1,0a1.1,1.1 0 1 0 2.2,0a1.1,1.1 0 1 0 -2.2,0M88.6,610.7m-1.1,0a1.1,1.1 0 1 0 2.2,0a1.1,1.1 0 1 0 -2.2,0M88.6,615.4m-1.1,0a1.1,1.1 0 1 0 2.2,0a1.1,1.1 0 1 0 -2.2,0M88.6,620.0m-1.1,0a1.1,1.1 0 1 0 2.2,0a1.1,1.1 0 1 0 -2.2,0M88.6,624.7m-1.1,0a1.1,1.1 0 1 0 2.2,0a1.1,1.1 0 1 0 -2.2,0M88.6,629.3m-1.1,0a1.1,1.1 0 1 0 2.2,0a1.1,1.1 0 1 0 -2.2,0M88.6,634.0m-1.1,0a1.1,1.1 0 1 0 2.2,0a1.1,1.1 0 1 0 -2.2,0"/>
<path class="rd" d="M379.2,562.0m-1.1,0a1.1,1.1 0 1 0 2.2,0a1.1,1.1 0 1 0 -2.2,0M379.2,567.2m-1.1,0a1.1,1.1 0 1 0 2.2,0a1.1,1.1 0 1 0 -2.2,0M379.2,572.4m-1.1,0a1.1,1.1 0 1 0 2.2,0a1.1,1.1 0 1 0 -2.2,0M379.2,577.6m-1.1,0a1.1,1.1 0 1 0 2.2,0a1.1,1.1 0 1 0 -2.2,0M379.2,582.8m-1.1,0a1.1,1.1 0 1 0 2.2,0a1.1,1.1 0 1 0 -2.2,0M379.2,588.0m-1.1,0a1.1,1.1 0 1 0 2.2,0a1.1,1.1 0 1 0 -2.2,0"/>
<path class="rd" d="M380.5,596.0m-1.1,0a1.1,1.1 0 1 0 2.2,0a1.1,1.1 0 1 0 -2.2,0M380.8,600.7m-1.1,0a1.1,1.1 0 1 0 2.2,0a1.1,1.1 0 1 0 -2.2,0M381.1,605.4m-1.1,0a1.1,1.1 0 1 0 2.2,0a1.1,1.1 0 1 0 -2.2,0M381.4,610.1m-1.1,0a1.1,1.1 0 1 0 2.2,0a1.1,1.1 0 1 0 -2.2,0M381.6,614.9m-1.1,0a1.1,1.1 0 1 0 2.2,0a1.1,1.1 0 1 0 -2.2,0M381.9,619.6m-1.1,0a1.1,1.1 0 1 0 2.2,0a1.1,1.1 0 1 0 -2.2,0M382.2,624.3m-1.1,0a1.1,1.1 0 1 0 2.2,0a1.1,1.1 0 1 0 -2.2,0M382.5,629.0m-1.1,0a1.1,1.1 0 1 0 2.2,0a1.1,1.1 0 1 0 -2.2,0M382.8,633.7m-1.1,0a1.1,1.1 0 1 0 2.2,0a1.1,1.1 0 1 0 -2.2,0M383.1,638.4m-1.1,0a1.1,1.1 0 1 0 2.2,0a1.1,1.1 0 1 0 -2.2,0M383.4,643.1m-1.1,0a1.1,1.1 0 1 0 2.2,0a1.1,1.1 0 1 0 -2.2,0M383.6,647.9m-1.1,0a1.1,1.1 0 1 0 2.2,0a1.1,1.1 0 1 0 -2.2,0M383.9,652.6m-1.1,0a1.1,1.1 0 1 0 2.2,0a1.1,1.1 0 1 0 -2.2,0M384.2,657.3m-1.1,0a1.1,1.1 0 1 0 2.2,0a1.1,1.1 0 1 0 -2.2,0M384.5,662.0m-1.1,0a1.1,1.1 0 1 0 2.2,0a1.1,1.1 0 1 0 -2.2,0"/>
<path d="M96,641.5 L361,678.2" stroke="#484848" stroke-width="1.5" fill="none"/>
<path class="l2" d="M183.6,491.0 L184.4,655.5"/>
<path d="M183.6,491.0 L184.4,655.5" stroke="#c4c4c4" stroke-width="1.3" fill="none"/>
<path class="rd" d="M180.2,495.0m-1.1,0a1.1,1.1 0 1 0 2.1,0a1.1,1.1 0 1 0 -2.1,0M180.2,499.6m-1.1,0a1.1,1.1 0 1 0 2.1,0a1.1,1.1 0 1 0 -2.1,0M180.2,504.2m-1.1,0a1.1,1.1 0 1 0 2.1,0a1.1,1.1 0 1 0 -2.1,0M180.3,508.8m-1.1,0a1.1,1.1 0 1 0 2.1,0a1.1,1.1 0 1 0 -2.1,0M180.3,513.4m-1.1,0a1.1,1.1 0 1 0 2.1,0a1.1,1.1 0 1 0 -2.1,0M180.3,518.0m-1.1,0a1.1,1.1 0 1 0 2.1,0a1.1,1.1 0 1 0 -2.1,0M180.3,522.6m-1.1,0a1.1,1.1 0 1 0 2.1,0a1.1,1.1 0 1 0 -2.1,0M180.4,527.2m-1.1,0a1.1,1.1 0 1 0 2.1,0a1.1,1.1 0 1 0 -2.1,0M180.4,531.8m-1.1,0a1.1,1.1 0 1 0 2.1,0a1.1,1.1 0 1 0 -2.1,0M180.4,536.4m-1.1,0a1.1,1.1 0 1 0 2.1,0a1.1,1.1 0 1 0 -2.1,0M180.4,541.0m-1.1,0a1.1,1.1 0 1 0 2.1,0a1.1,1.1 0 1 0 -2.1,0M180.5,545.6m-1.1,0a1.1,1.1 0 1 0 2.1,0a1.1,1.1 0 1 0 -2.1,0M180.5,550.2m-1.1,0a1.1,1.1 0 1 0 2.1,0a1.1,1.1 0 1 0 -2.1,0M180.5,554.8m-1.1,0a1.1,1.1 0 1 0 2.1,0a1.1,1.1 0 1 0 -2.1,0M180.5,559.4m-1.1,0a1.1,1.1 0 1 0 2.1,0a1.1,1.1 0 1 0 -2.1,0M180.6,564.0m-1.1,0a1.1,1.1 0 1 0 2.1,0a1.1,1.1 0 1 0 -2.1,0M180.6,568.6m-1.1,0a1.1,1.1 0 1 0 2.1,0a1.1,1.1 0 1 0 -2.1,0M180.6,573.2m-1.1,0a1.1,1.1 0 1 0 2.1,0a1.1,1.1 0 1 0 -2.1,0M180.6,577.9m-1.1,0a1.1,1.1 0 1 0 2.1,0a1.1,1.1 0 1 0 -2.1,0M180.6,582.5m-1.1,0a1.1,1.1 0 1 0 2.1,0a1.1,1.1 0 1 0 -2.1,0M180.7,587.1m-1.1,0a1.1,1.1 0 1 0 2.1,0a1.1,1.1 0 1 0 -2.1,0M180.7,591.7m-1.1,0a1.1,1.1 0 1 0 2.1,0a1.1,1.1 0 1 0 -2.1,0M180.7,596.3m-1.1,0a1.1,1.1 0 1 0 2.1,0a1.1,1.1 0 1 0 -2.1,0M180.7,600.9m-1.1,0a1.1,1.1 0 1 0 2.1,0a1.1,1.1 0 1 0 -2.1,0M180.8,605.5m-1.1,0a1.1,1.1 0 1 0 2.1,0a1.1,1.1 0 1 0 -2.1,0M180.8,610.1m-1.1,0a1.1,1.1 0 1 0 2.1,0a1.1,1.1 0 1 0 -2.1,0M180.8,614.7m-1.1,0a1.1,1.1 0 1 0 2.1,0a1.1,1.1 0 1 0 -2.1,0M180.8,619.3m-1.1,0a1.1,1.1 0 1 0 2.1,0a1.1,1.1 0 1 0 -2.1,0M180.9,623.9m-1.1,0a1.1,1.1 0 1 0 2.1,0a1.1,1.1 0 1 0 -2.1,0M180.9,628.5m-1.1,0a1.1,1.1 0 1 0 2.1,0a1.1,1.1 0 1 0 -2.1,0M180.9,633.1m-1.1,0a1.1,1.1 0 1 0 2.1,0a1.1,1.1 0 1 0 -2.1,0M180.9,637.7m-1.1,0a1.1,1.1 0 1 0 2.1,0a1.1,1.1 0 1 0 -2.1,0M181.0,642.3m-1.1,0a1.1,1.1 0 1 0 2.1,0a1.1,1.1 0 1 0 -2.1,0M181.0,646.9m-1.1,0a1.1,1.1 0 1 0 2.1,0a1.1,1.1 0 1 0 -2.1,0M181.0,651.5m-1.1,0a1.1,1.1 0 1 0 2.1,0a1.1,1.1 0 1 0 -2.1,0"/>
<path class="rd" d="M187.2,495.0m-1.1,0a1.1,1.1 0 1 0 2.1,0a1.1,1.1 0 1 0 -2.1,0M187.2,499.6m-1.1,0a1.1,1.1 0 1 0 2.1,0a1.1,1.1 0 1 0 -2.1,0M187.2,504.2m-1.1,0a1.1,1.1 0 1 0 2.1,0a1.1,1.1 0 1 0 -2.1,0M187.3,508.8m-1.1,0a1.1,1.1 0 1 0 2.1,0a1.1,1.1 0 1 0 -2.1,0M187.3,513.4m-1.1,0a1.1,1.1 0 1 0 2.1,0a1.1,1.1 0 1 0 -2.1,0M187.3,518.0m-1.1,0a1.1,1.1 0 1 0 2.1,0a1.1,1.1 0 1 0 -2.1,0M187.3,522.6m-1.1,0a1.1,1.1 0 1 0 2.1,0a1.1,1.1 0 1 0 -2.1,0M187.4,527.2m-1.1,0a1.1,1.1 0 1 0 2.1,0a1.1,1.1 0 1 0 -2.1,0M187.4,531.8m-1.1,0a1.1,1.1 0 1 0 2.1,0a1.1,1.1 0 1 0 -2.1,0M187.4,536.4m-1.1,0a1.1,1.1 0 1 0 2.1,0a1.1,1.1 0 1 0 -2.1,0M187.4,541.0m-1.1,0a1.1,1.1 0 1 0 2.1,0a1.1,1.1 0 1 0 -2.1,0M187.5,545.6m-1.1,0a1.1,1.1 0 1 0 2.1,0a1.1,1.1 0 1 0 -2.1,0M187.5,550.2m-1.1,0a1.1,1.1 0 1 0 2.1,0a1.1,1.1 0 1 0 -2.1,0M187.5,554.8m-1.1,0a1.1,1.1 0 1 0 2.1,0a1.1,1.1 0 1 0 -2.1,0M187.5,559.4m-1.1,0a1.1,1.1 0 1 0 2.1,0a1.1,1.1 0 1 0 -2.1,0M187.6,564.0m-1.1,0a1.1,1.1 0 1 0 2.1,0a1.1,1.1 0 1 0 -2.1,0M187.6,568.6m-1.1,0a1.1,1.1 0 1 0 2.1,0a1.1,1.1 0 1 0 -2.1,0M187.6,573.2m-1.1,0a1.1,1.1 0 1 0 2.1,0a1.1,1.1 0 1 0 -2.1,0M187.6,577.9m-1.1,0a1.1,1.1 0 1 0 2.1,0a1.1,1.1 0 1 0 -2.1,0M187.6,582.5m-1.1,0a1.1,1.1 0 1 0 2.1,0a1.1,1.1 0 1 0 -2.1,0M187.7,587.1m-1.1,0a1.1,1.1 0 1 0 2.1,0a1.1,1.1 0 1 0 -2.1,0M187.7,591.7m-1.1,0a1.1,1.1 0 1 0 2.1,0a1.1,1.1 0 1 0 -2.1,0M187.7,596.3m-1.1,0a1.1,1.1 0 1 0 2.1,0a1.1,1.1 0 1 0 -2.1,0M187.7,600.9m-1.1,0a1.1,1.1 0 1 0 2.1,0a1.1,1.1 0 1 0 -2.1,0M187.8,605.5m-1.1,0a1.1,1.1 0 1 0 2.1,0a1.1,1.1 0 1 0 -2.1,0M187.8,610.1m-1.1,0a1.1,1.1 0 1 0 2.1,0a1.1,1.1 0 1 0 -2.1,0M187.8,614.7m-1.1,0a1.1,1.1 0 1 0 2.1,0a1.1,1.1 0 1 0 -2.1,0M187.8,619.3m-1.1,0a1.1,1.1 0 1 0 2.1,0a1.1,1.1 0 1 0 -2.1,0M187.9,623.9m-1.1,0a1.1,1.1 0 1 0 2.1,0a1.1,1.1 0 1 0 -2.1,0M187.9,628.5m-1.1,0a1.1,1.1 0 1 0 2.1,0a1.1,1.1 0 1 0 -2.1,0M187.9,633.1m-1.1,0a1.1,1.1 0 1 0 2.1,0a1.1,1.1 0 1 0 -2.1,0M187.9,637.7m-1.1,0a1.1,1.1 0 1 0 2.1,0a1.1,1.1 0 1 0 -2.1,0M188.0,642.3m-1.1,0a1.1,1.1 0 1 0 2.1,0a1.1,1.1 0 1 0 -2.1,0M188.0,646.9m-1.1,0a1.1,1.1 0 1 0 2.1,0a1.1,1.1 0 1 0 -2.1,0M188.0,651.5m-1.1,0a1.1,1.1 0 1 0 2.1,0a1.1,1.1 0 1 0 -2.1,0"/>
<path class="l2" d="M277.4,507.5 L278.8,668.5"/>
<path d="M277.4,507.5 L278.8,668.5" stroke="#c4c4c4" stroke-width="1.3" fill="none"/>
<path class="rd" d="M274.0,511.5m-1.1,0a1.1,1.1 0 1 0 2.1,0a1.1,1.1 0 1 0 -2.1,0M274.0,516.0m-1.1,0a1.1,1.1 0 1 0 2.1,0a1.1,1.1 0 1 0 -2.1,0M274.1,520.5m-1.1,0a1.1,1.1 0 1 0 2.1,0a1.1,1.1 0 1 0 -2.1,0M274.1,525.0m-1.1,0a1.1,1.1 0 1 0 2.1,0a1.1,1.1 0 1 0 -2.1,0M274.2,529.5m-1.1,0a1.1,1.1 0 1 0 2.1,0a1.1,1.1 0 1 0 -2.1,0M274.2,534.0m-1.1,0a1.1,1.1 0 1 0 2.1,0a1.1,1.1 0 1 0 -2.1,0M274.2,538.5m-1.1,0a1.1,1.1 0 1 0 2.1,0a1.1,1.1 0 1 0 -2.1,0M274.3,543.0m-1.1,0a1.1,1.1 0 1 0 2.1,0a1.1,1.1 0 1 0 -2.1,0M274.3,547.5m-1.1,0a1.1,1.1 0 1 0 2.1,0a1.1,1.1 0 1 0 -2.1,0M274.4,552.0m-1.1,0a1.1,1.1 0 1 0 2.1,0a1.1,1.1 0 1 0 -2.1,0M274.4,556.5m-1.1,0a1.1,1.1 0 1 0 2.1,0a1.1,1.1 0 1 0 -2.1,0M274.5,561.0m-1.1,0a1.1,1.1 0 1 0 2.1,0a1.1,1.1 0 1 0 -2.1,0M274.5,565.5m-1.1,0a1.1,1.1 0 1 0 2.1,0a1.1,1.1 0 1 0 -2.1,0M274.5,570.0m-1.1,0a1.1,1.1 0 1 0 2.1,0a1.1,1.1 0 1 0 -2.1,0M274.6,574.5m-1.1,0a1.1,1.1 0 1 0 2.1,0a1.1,1.1 0 1 0 -2.1,0M274.6,579.0m-1.1,0a1.1,1.1 0 1 0 2.1,0a1.1,1.1 0 1 0 -2.1,0M274.7,583.5m-1.1,0a1.1,1.1 0 1 0 2.1,0a1.1,1.1 0 1 0 -2.1,0M274.7,588.0m-1.1,0a1.1,1.1 0 1 0 2.1,0a1.1,1.1 0 1 0 -2.1,0M274.7,592.5m-1.1,0a1.1,1.1 0 1 0 2.1,0a1.1,1.1 0 1 0 -2.1,0M274.8,597.0m-1.1,0a1.1,1.1 0 1 0 2.1,0a1.1,1.1 0 1 0 -2.1,0M274.8,601.5m-1.1,0a1.1,1.1 0 1 0 2.1,0a1.1,1.1 0 1 0 -2.1,0M274.9,606.0m-1.1,0a1.1,1.1 0 1 0 2.1,0a1.1,1.1 0 1 0 -2.1,0M274.9,610.5m-1.1,0a1.1,1.1 0 1 0 2.1,0a1.1,1.1 0 1 0 -2.1,0M274.9,615.0m-1.1,0a1.1,1.1 0 1 0 2.1,0a1.1,1.1 0 1 0 -2.1,0M275.0,619.5m-1.1,0a1.1,1.1 0 1 0 2.1,0a1.1,1.1 0 1 0 -2.1,0M275.0,624.0m-1.1,0a1.1,1.1 0 1 0 2.1,0a1.1,1.1 0 1 0 -2.1,0M275.1,628.5m-1.1,0a1.1,1.1 0 1 0 2.1,0a1.1,1.1 0 1 0 -2.1,0M275.1,633.0m-1.1,0a1.1,1.1 0 1 0 2.1,0a1.1,1.1 0 1 0 -2.1,0M275.2,637.5m-1.1,0a1.1,1.1 0 1 0 2.1,0a1.1,1.1 0 1 0 -2.1,0M275.2,642.0m-1.1,0a1.1,1.1 0 1 0 2.1,0a1.1,1.1 0 1 0 -2.1,0M275.2,646.5m-1.1,0a1.1,1.1 0 1 0 2.1,0a1.1,1.1 0 1 0 -2.1,0M275.3,651.0m-1.1,0a1.1,1.1 0 1 0 2.1,0a1.1,1.1 0 1 0 -2.1,0M275.3,655.5m-1.1,0a1.1,1.1 0 1 0 2.1,0a1.1,1.1 0 1 0 -2.1,0M275.4,660.0m-1.1,0a1.1,1.1 0 1 0 2.1,0a1.1,1.1 0 1 0 -2.1,0M275.4,664.5m-1.1,0a1.1,1.1 0 1 0 2.1,0a1.1,1.1 0 1 0 -2.1,0"/>
<path class="rd" d="M281.0,511.5m-1.1,0a1.1,1.1 0 1 0 2.1,0a1.1,1.1 0 1 0 -2.1,0M281.0,516.0m-1.1,0a1.1,1.1 0 1 0 2.1,0a1.1,1.1 0 1 0 -2.1,0M281.1,520.5m-1.1,0a1.1,1.1 0 1 0 2.1,0a1.1,1.1 0 1 0 -2.1,0M281.1,525.0m-1.1,0a1.1,1.1 0 1 0 2.1,0a1.1,1.1 0 1 0 -2.1,0M281.2,529.5m-1.1,0a1.1,1.1 0 1 0 2.1,0a1.1,1.1 0 1 0 -2.1,0M281.2,534.0m-1.1,0a1.1,1.1 0 1 0 2.1,0a1.1,1.1 0 1 0 -2.1,0M281.2,538.5m-1.1,0a1.1,1.1 0 1 0 2.1,0a1.1,1.1 0 1 0 -2.1,0M281.3,543.0m-1.1,0a1.1,1.1 0 1 0 2.1,0a1.1,1.1 0 1 0 -2.1,0M281.3,547.5m-1.1,0a1.1,1.1 0 1 0 2.1,0a1.1,1.1 0 1 0 -2.1,0M281.4,552.0m-1.1,0a1.1,1.1 0 1 0 2.1,0a1.1,1.1 0 1 0 -2.1,0M281.4,556.5m-1.1,0a1.1,1.1 0 1 0 2.1,0a1.1,1.1 0 1 0 -2.1,0M281.5,561.0m-1.1,0a1.1,1.1 0 1 0 2.1,0a1.1,1.1 0 1 0 -2.1,0M281.5,565.5m-1.1,0a1.1,1.1 0 1 0 2.1,0a1.1,1.1 0 1 0 -2.1,0M281.5,570.0m-1.1,0a1.1,1.1 0 1 0 2.1,0a1.1,1.1 0 1 0 -2.1,0M281.6,574.5m-1.1,0a1.1,1.1 0 1 0 2.1,0a1.1,1.1 0 1 0 -2.1,0M281.6,579.0m-1.1,0a1.1,1.1 0 1 0 2.1,0a1.1,1.1 0 1 0 -2.1,0M281.7,583.5m-1.1,0a1.1,1.1 0 1 0 2.1,0a1.1,1.1 0 1 0 -2.1,0M281.7,588.0m-1.1,0a1.1,1.1 0 1 0 2.1,0a1.1,1.1 0 1 0 -2.1,0M281.7,592.5m-1.1,0a1.1,1.1 0 1 0 2.1,0a1.1,1.1 0 1 0 -2.1,0M281.8,597.0m-1.1,0a1.1,1.1 0 1 0 2.1,0a1.1,1.1 0 1 0 -2.1,0M281.8,601.5m-1.1,0a1.1,1.1 0 1 0 2.1,0a1.1,1.1 0 1 0 -2.1,0M281.9,606.0m-1.1,0a1.1,1.1 0 1 0 2.1,0a1.1,1.1 0 1 0 -2.1,0M281.9,610.5m-1.1,0a1.1,1.1 0 1 0 2.1,0a1.1,1.1 0 1 0 -2.1,0M281.9,615.0m-1.1,0a1.1,1.1 0 1 0 2.1,0a1.1,1.1 0 1 0 -2.1,0M282.0,619.5m-1.1,0a1.1,1.1 0 1 0 2.1,0a1.1,1.1 0 1 0 -2.1,0M282.0,624.0m-1.1,0a1.1,1.1 0 1 0 2.1,0a1.1,1.1 0 1 0 -2.1,0M282.1,628.5m-1.1,0a1.1,1.1 0 1 0 2.1,0a1.1,1.1 0 1 0 -2.1,0M282.1,633.0m-1.1,0a1.1,1.1 0 1 0 2.1,0a1.1,1.1 0 1 0 -2.1,0M282.2,637.5m-1.1,0a1.1,1.1 0 1 0 2.1,0a1.1,1.1 0 1 0 -2.1,0M282.2,642.0m-1.1,0a1.1,1.1 0 1 0 2.1,0a1.1,1.1 0 1 0 -2.1,0M282.2,646.5m-1.1,0a1.1,1.1 0 1 0 2.1,0a1.1,1.1 0 1 0 -2.1,0M282.3,651.0m-1.1,0a1.1,1.1 0 1 0 2.1,0a1.1,1.1 0 1 0 -2.1,0M282.3,655.5m-1.1,0a1.1,1.1 0 1 0 2.1,0a1.1,1.1 0 1 0 -2.1,0M282.4,660.0m-1.1,0a1.1,1.1 0 1 0 2.1,0a1.1,1.1 0 1 0 -2.1,0M282.4,664.5m-1.1,0a1.1,1.1 0 1 0 2.1,0a1.1,1.1 0 1 0 -2.1,0"/>
<polyline class="z" points="98.0,480.0 98.7,481.1 99.5,481.7 100.4,481.8 101.4,481.3 102.5,480.6 103.5,479.9 104.5,479.6 105.3,480.0 106.1,480.9 106.8,482.0 107.6,482.9 108.4,483.3 109.3,483.1 110.4,482.5 111.4,481.7 112.4,481.2 113.4,481.2 114.2,481.8 114.9,482.9 115.6,484.0 116.4,484.7 117.3,484.8 118.3,484.4 119.3,483.6 120.4,482.9 121.3,482.6 122.2,482.9 123.0,483.8 123.7,484.9 124.4,485.8 125.3,486.3 126.2,486.2 127.2,485.5 128.3,484.7 129.3,484.2 130.2,484.2 131.0,484.8 131.8,485.8 132.5,486.9 133.3,487.6 134.2,487.8 135.2,487.4 136.2,486.6 137.2,485.9 138.2,485.6 139.1,485.8 139.9,486.7 140.6,487.8 141.3,488.8 142.1,489.3 143.1,489.2 144.1,488.5 145.2,487.7 146.2,487.2 147.1,487.1 147.9,487.7 148.7,488.7 149.4,489.8 150.2,490.6 151.0,490.8 152.0,490.4 153.1,489.7 154.1,488.9 155.1,488.5 156.0,488.8 156.7,489.6 157.5,490.7 158.2,491.7 159.0,492.2 160.0,492.2 161.0,491.6 162.0,490.8 163.0,490.2 164.0,490.1 164.8,490.6 165.6,491.6 166.3,492.7 167.0,493.5 167.9,493.8 168.9,493.4 169.9,492.7 171.0,491.9 172.0,491.5 172.8,491.7 173.6,492.5 174.4,493.6 175.1,494.6 175.9,495.2 176.8,495.2 177.8,494.6 178.9,493.8 179.9,493.2 180.9,493.0 181.7,493.5 182.4,494.5 183.2,495.6 183.9,496.4 184.8,496.7 185.8,496.4 186.8,495.7 187.8,495.0 188.8,494.5 189.7,494.7 190.5,495.4 191.2,496.5 192.0,497.5 192.8,498.1 193.7,498.2 194.7,497.6 195.8,496.8 196.8,496.2 197.7,496.0 198.6,496.4 199.3,497.3 200.0,498.5 200.8,499.3 201.7,499.7 202.6,499.5 203.7,498.8 204.7,498.0 205.7,497.5 206.6,497.6 207.4,498.3 208.1,499.4 208.9,500.4 209.7,501.1 210.6,501.2 211.6,500.7 212.6,499.9 213.7,499.2 214.6,499.0 215.5,499.3 216.2,500.2 216.9,501.4 217.7,502.3 218.5,502.7 219.5,502.5 220.5,501.8 221.6,501.0 222.6,500.5 223.5,500.5 224.3,501.2 225.0,502.2 225.7,503.3 226.5,504.0 227.4,504.1 228.4,503.7 229.5,502.9 230.5,502.2 231.5,501.9 232.3,502.3 233.1,503.1 233.8,504.2 234.6,505.2 235.4,505.6 236.3,505.5 237.4,504.8 238.4,504.0 239.4,503.5 240.4,503.5 241.2,504.1 241.9,505.1 242.6,506.2 243.4,507.0 244.3,507.1 245.3,506.7 246.3,505.9 247.4,505.2 248.4,504.9 249.2,505.2 250.0,506.0 250.7,507.1 251.5,508.1 252.3,508.6 253.2,508.5 254.2,507.9 255.3,507.1 256.3,506.5 257.2,506.4 258.1,507.0 258.8,508.0 259.5,509.1 260.3,509.9 261.2,510.1 262.2,509.7 263.2,509.0 264.2,508.2 265.2,507.9 266.1,508.1 266.9,508.9 267.6,510.0 268.3,511.0 269.2,511.6 270.1,511.5 271.1,510.9 272.2,510.1 273.2,509.5 274.1,509.4 274.9,509.9 275.7,510.9 276.4,512.0 277.2,512.8 278.0,513.1 279.0,512.7 280.1,512.0 281.1,511.3 282.1,510.9 283.0,511.1 283.8,511.8 284.5,512.9 285.2,513.9 286.0,514.5 287.0,514.5 288.0,513.9 289.0,513.1 290.1,512.5 291.0,512.4 291.8,512.8 292.6,513.8 293.3,514.9 294.1,515.8 294.9,516.1 295.9,515.8 296.9,515.0 298.0,514.3 299.0,513.8 299.9,514.0 300.6,514.7 301.4,515.8 302.1,516.8 302.9,517.5 303.8,517.5 304.8,517.0 305.9,516.2 306.9,515.5 307.9,515.3 308.7,515.8 309.5,516.7 310.2,517.8 310.9,518.7 311.8,519.0 312.8,518.8 313.8,518.1 314.8,517.3 315.8,516.8 316.7,516.9 317.5,517.6 318.3,518.7 319.0,519.8 319.8,520.4 320.7,520.5 321.7,520.0 322.7,519.2 323.8,518.5 324.7,518.3 325.6,518.7 326.3,519.6 327.1,520.7 327.8,521.6 328.7,522.0 329.6,521.8 330.7,521.1 331.7,520.3 332.7,519.8 333.6,519.9 334.4,520.5 335.1,521.6 335.9,522.7 336.7,523.4 337.6,523.5 338.6,523.0 339.6,522.2 340.7,521.5 341.6,521.3 342.5,521.6 343.2,522.5 343.9,523.6 344.7,524.5 345.5,525.0 346.5,524.8 347.5,524.1 348.6,523.4 349.6,522.8 350.5,522.8 351.3,523.4 352.0,524.5 352.8,525.6 353.5,526.3 354.4,526.5 355.4,526.0 356.5,525.3 357.5,524.5 358.5,524.2 359.3,524.5 360.1,525.4 360.8,526.5 361.6,527.5 362.4,527.9 363.4,527.8 364.4,527.2 365.4,526.4 366.4,525.8 367.4,525.8 368.2,526.4"/>
<path class="rd" d="M97.0,481.0m-1.1,0a1.1,1.1 0 1 0 2.1,0a1.1,1.1 0 1 0 -2.1,0M97.0,485.5m-1.1,0a1.1,1.1 0 1 0 2.1,0a1.1,1.1 0 1 0 -2.1,0M97.0,490.0m-1.1,0a1.1,1.1 0 1 0 2.1,0a1.1,1.1 0 1 0 -2.1,0M97.0,494.5m-1.1,0a1.1,1.1 0 1 0 2.1,0a1.1,1.1 0 1 0 -2.1,0M97.0,499.0m-1.1,0a1.1,1.1 0 1 0 2.1,0a1.1,1.1 0 1 0 -2.1,0M97.0,503.4m-1.1,0a1.1,1.1 0 1 0 2.1,0a1.1,1.1 0 1 0 -2.1,0M97.0,507.9m-1.1,0a1.1,1.1 0 1 0 2.1,0a1.1,1.1 0 1 0 -2.1,0M97.0,512.4m-1.1,0a1.1,1.1 0 1 0 2.1,0a1.1,1.1 0 1 0 -2.1,0M97.0,516.9m-1.1,0a1.1,1.1 0 1 0 2.1,0a1.1,1.1 0 1 0 -2.1,0M97.0,521.4m-1.1,0a1.1,1.1 0 1 0 2.1,0a1.1,1.1 0 1 0 -2.1,0"/>
<path class="rd" d="M369.5,529.0m-1.1,0a1.1,1.1 0 1 0 2.1,0a1.1,1.1 0 1 0 -2.1,0M369.5,533.6m-1.1,0a1.1,1.1 0 1 0 2.1,0a1.1,1.1 0 1 0 -2.1,0M369.5,538.2m-1.1,0a1.1,1.1 0 1 0 2.1,0a1.1,1.1 0 1 0 -2.1,0M369.5,542.9m-1.1,0a1.1,1.1 0 1 0 2.1,0a1.1,1.1 0 1 0 -2.1,0M369.5,547.5m-1.1,0a1.1,1.1 0 1 0 2.1,0a1.1,1.1 0 1 0 -2.1,0M369.5,552.1m-1.1,0a1.1,1.1 0 1 0 2.1,0a1.1,1.1 0 1 0 -2.1,0M369.5,556.8m-1.1,0a1.1,1.1 0 1 0 2.1,0a1.1,1.1 0 1 0 -2.1,0M369.5,561.4m-1.1,0a1.1,1.1 0 1 0 2.1,0a1.1,1.1 0 1 0 -2.1,0M369.5,566.0m-1.1,0a1.1,1.1 0 1 0 2.1,0a1.1,1.1 0 1 0 -2.1,0"/>
<path class="rd" d="M100.0,636.4m-1.1,0a1.1,1.1 0 1 0 2.2,0a1.1,1.1 0 1 0 -2.2,0M104.8,638.9m-1.1,0a1.1,1.1 0 1 0 2.2,0a1.1,1.1 0 1 0 -2.2,0M109.6,637.7m-1.1,0a1.1,1.1 0 1 0 2.2,0a1.1,1.1 0 1 0 -2.2,0M114.4,640.2m-1.1,0a1.1,1.1 0 1 0 2.2,0a1.1,1.1 0 1 0 -2.2,0M119.2,639.0m-1.1,0a1.1,1.1 0 1 0 2.2,0a1.1,1.1 0 1 0 -2.2,0M124.0,641.6m-1.1,0a1.1,1.1 0 1 0 2.2,0a1.1,1.1 0 1 0 -2.2,0M128.8,640.3m-1.1,0a1.1,1.1 0 1 0 2.2,0a1.1,1.1 0 1 0 -2.2,0M133.6,642.9m-1.1,0a1.1,1.1 0 1 0 2.2,0a1.1,1.1 0 1 0 -2.2,0M138.4,641.7m-1.1,0a1.1,1.1 0 1 0 2.2,0a1.1,1.1 0 1 0 -2.2,0M143.2,644.2m-1.1,0a1.1,1.1 0 1 0 2.2,0a1.1,1.1 0 1 0 -2.2,0M148.0,643.0m-1.1,0a1.1,1.1 0 1 0 2.2,0a1.1,1.1 0 1 0 -2.2,0M152.8,645.6m-1.1,0a1.1,1.1 0 1 0 2.2,0a1.1,1.1 0 1 0 -2.2,0M157.6,644.3m-1.1,0a1.1,1.1 0 1 0 2.2,0a1.1,1.1 0 1 0 -2.2,0M162.4,646.9m-1.1,0a1.1,1.1 0 1 0 2.2,0a1.1,1.1 0 1 0 -2.2,0M167.2,645.7m-1.1,0a1.1,1.1 0 1 0 2.2,0a1.1,1.1 0 1 0 -2.2,0M172.0,648.2m-1.1,0a1.1,1.1 0 1 0 2.2,0a1.1,1.1 0 1 0 -2.2,0M176.8,647.0m-1.1,0a1.1,1.1 0 1 0 2.2,0a1.1,1.1 0 1 0 -2.2,0M181.6,649.6m-1.1,0a1.1,1.1 0 1 0 2.2,0a1.1,1.1 0 1 0 -2.2,0M186.4,648.3m-1.1,0a1.1,1.1 0 1 0 2.2,0a1.1,1.1 0 1 0 -2.2,0M191.2,650.9m-1.1,0a1.1,1.1 0 1 0 2.2,0a1.1,1.1 0 1 0 -2.2,0M196.0,649.7m-1.1,0a1.1,1.1 0 1 0 2.2,0a1.1,1.1 0 1 0 -2.2,0M200.8,652.2m-1.1,0a1.1,1.1 0 1 0 2.2,0a1.1,1.1 0 1 0 -2.2,0M205.6,651.0m-1.1,0a1.1,1.1 0 1 0 2.2,0a1.1,1.1 0 1 0 -2.2,0M210.4,653.5m-1.1,0a1.1,1.1 0 1 0 2.2,0a1.1,1.1 0 1 0 -2.2,0M215.2,652.3m-1.1,0a1.1,1.1 0 1 0 2.2,0a1.1,1.1 0 1 0 -2.2,0M220.0,654.9m-1.1,0a1.1,1.1 0 1 0 2.2,0a1.1,1.1 0 1 0 -2.2,0M224.8,653.6m-1.1,0a1.1,1.1 0 1 0 2.2,0a1.1,1.1 0 1 0 -2.2,0M229.6,656.2m-1.1,0a1.1,1.1 0 1 0 2.2,0a1.1,1.1 0 1 0 -2.2,0M234.4,655.0m-1.1,0a1.1,1.1 0 1 0 2.2,0a1.1,1.1 0 1 0 -2.2,0M239.2,657.5m-1.1,0a1.1,1.1 0 1 0 2.2,0a1.1,1.1 0 1 0 -2.2,0M244.0,656.3m-1.1,0a1.1,1.1 0 1 0 2.2,0a1.1,1.1 0 1 0 -2.2,0M248.8,658.9m-1.1,0a1.1,1.1 0 1 0 2.2,0a1.1,1.1 0 1 0 -2.2,0M253.6,657.6m-1.1,0a1.1,1.1 0 1 0 2.2,0a1.1,1.1 0 1 0 -2.2,0M258.4,660.2m-1.1,0a1.1,1.1 0 1 0 2.2,0a1.1,1.1 0 1 0 -2.2,0M263.2,659.0m-1.1,0a1.1,1.1 0 1 0 2.2,0a1.1,1.1 0 1 0 -2.2,0M268.0,661.5m-1.1,0a1.1,1.1 0 1 0 2.2,0a1.1,1.1 0 1 0 -2.2,0M272.8,660.3m-1.1,0a1.1,1.1 0 1 0 2.2,0a1.1,1.1 0 1 0 -2.2,0M277.6,662.9m-1.1,0a1.1,1.1 0 1 0 2.2,0a1.1,1.1 0 1 0 -2.2,0M282.4,661.6m-1.1,0a1.1,1.1 0 1 0 2.2,0a1.1,1.1 0 1 0 -2.2,0M287.2,664.2m-1.1,0a1.1,1.1 0 1 0 2.2,0a1.1,1.1 0 1 0 -2.2,0M292.0,662.9m-1.1,0a1.1,1.1 0 1 0 2.2,0a1.1,1.1 0 1 0 -2.2,0M296.8,665.5m-1.1,0a1.1,1.1 0 1 0 2.2,0a1.1,1.1 0 1 0 -2.2,0M301.6,664.3m-1.1,0a1.1,1.1 0 1 0 2.2,0a1.1,1.1 0 1 0 -2.2,0M306.4,666.8m-1.1,0a1.1,1.1 0 1 0 2.2,0a1.1,1.1 0 1 0 -2.2,0M311.2,665.6m-1.1,0a1.1,1.1 0 1 0 2.2,0a1.1,1.1 0 1 0 -2.2,0M316.0,668.2m-1.1,0a1.1,1.1 0 1 0 2.2,0a1.1,1.1 0 1 0 -2.2,0M320.8,666.9m-1.1,0a1.1,1.1 0 1 0 2.2,0a1.1,1.1 0 1 0 -2.2,0M325.6,669.5m-1.1,0a1.1,1.1 0 1 0 2.2,0a1.1,1.1 0 1 0 -2.2,0M330.4,668.3m-1.1,0a1.1,1.1 0 1 0 2.2,0a1.1,1.1 0 1 0 -2.2,0M335.2,670.8m-1.1,0a1.1,1.1 0 1 0 2.2,0a1.1,1.1 0 1 0 -2.2,0M340.0,669.6m-1.1,0a1.1,1.1 0 1 0 2.2,0a1.1,1.1 0 1 0 -2.2,0M344.8,672.2m-1.1,0a1.1,1.1 0 1 0 2.2,0a1.1,1.1 0 1 0 -2.2,0M349.6,670.9m-1.1,0a1.1,1.1 0 1 0 2.2,0a1.1,1.1 0 1 0 -2.2,0M354.4,673.5m-1.1,0a1.1,1.1 0 1 0 2.2,0a1.1,1.1 0 1 0 -2.2,0"/>
<path class="r" d="M369.5,593.0m-1.0,0a1.0,1.0 0 1 0 2.0,0a1.0,1.0 0 1 0 -2.0,0M373.9,594.6m-1.0,0a1.0,1.0 0 1 0 2.0,0a1.0,1.0 0 1 0 -2.0,0M366.7,598.8m-1.0,0a1.0,1.0 0 1 0 2.0,0a1.0,1.0 0 1 0 -2.0,0M371.1,600.4m-1.0,0a1.0,1.0 0 1 0 2.0,0a1.0,1.0 0 1 0 -2.0,0M364.0,604.6m-1.0,0a1.0,1.0 0 1 0 2.0,0a1.0,1.0 0 1 0 -2.0,0M368.4,606.2m-1.0,0a1.0,1.0 0 1 0 2.0,0a1.0,1.0 0 1 0 -2.0,0M361.6,610.4m-1.0,0a1.0,1.0 0 1 0 2.0,0a1.0,1.0 0 1 0 -2.0,0M366.0,612.0m-1.0,0a1.0,1.0 0 1 0 2.0,0a1.0,1.0 0 1 0 -2.0,0M359.5,616.2m-1.0,0a1.0,1.0 0 1 0 2.0,0a1.0,1.0 0 1 0 -2.0,0M363.9,617.8m-1.0,0a1.0,1.0 0 1 0 2.0,0a1.0,1.0 0 1 0 -2.0,0M357.7,622.0m-1.0,0a1.0,1.0 0 1 0 2.0,0a1.0,1.0 0 1 0 -2.0,0M362.1,623.6m-1.0,0a1.0,1.0 0 1 0 2.0,0a1.0,1.0 0 1 0 -2.0,0M356.5,627.8m-1.0,0a1.0,1.0 0 1 0 2.0,0a1.0,1.0 0 1 0 -2.0,0M360.9,629.4m-1.0,0a1.0,1.0 0 1 0 2.0,0a1.0,1.0 0 1 0 -2.0,0M355.7,633.6m-1.0,0a1.0,1.0 0 1 0 2.0,0a1.0,1.0 0 1 0 -2.0,0M360.1,635.2m-1.0,0a1.0,1.0 0 1 0 2.0,0a1.0,1.0 0 1 0 -2.0,0M355.5,639.4m-1.0,0a1.0,1.0 0 1 0 2.0,0a1.0,1.0 0 1 0 -2.0,0M359.9,641.0m-1.0,0a1.0,1.0 0 1 0 2.0,0a1.0,1.0 0 1 0 -2.0,0M355.9,645.2m-1.0,0a1.0,1.0 0 1 0 2.0,0a1.0,1.0 0 1 0 -2.0,0M360.3,646.8m-1.0,0a1.0,1.0 0 1 0 2.0,0a1.0,1.0 0 1 0 -2.0,0M356.8,651.0m-1.0,0a1.0,1.0 0 1 0 2.0,0a1.0,1.0 0 1 0 -2.0,0M361.2,652.6m-1.0,0a1.0,1.0 0 1 0 2.0,0a1.0,1.0 0 1 0 -2.0,0"/>
<rect class="h" x="156" y="678" width="12.8" height="12.8"/>
<rect class="h" x="296.8" y="686" width="12.6" height="12.8"/>
<rect class="g" x="110.8" y="714.0" width="6.2" height="7.0"/>
<rect class="g" x="233.4" y="714.0" width="5.2" height="7.0"/>
<rect class="g" x="352.2" y="714.0" width="5.2" height="7.0"/>
</g>
<use href="#w47" transform="translate(851.5,0) scale(-1,1)"/>
<g id="p48">
<rect class="f" x="408.5" y="561.2" width="33.0" height="86.8"/>
<rect class="g" x="417.2" y="560.4" width="2.6" height="9.6"/>
<line class="l" x1="417.2" y1="561.2" x2="417.2" y2="570.0"/>
<line class="l" x1="419.9" y1="561.2" x2="419.9" y2="570.0"/>
<rect class="g" x="417.2" y="639.2" width="2.6" height="9.6"/>
<line class="l" x1="417.2" y1="639.2" x2="417.2" y2="648.0"/>
<line class="l" x1="419.9" y1="639.2" x2="419.9" y2="648.0"/>
<rect class="p" x="415.8" y="570.0" width="5.5" height="69.2"/>
<line class="l" x1="415.8" y1="582.0" x2="421.3" y2="582.0"/>
<line class="l" x1="415.8" y1="626.4" x2="421.3" y2="626.4"/>
<path class="rd" d="M418.6,576.4m-1.0,0a1.0,1.0 0 1 0 2.0,0a1.0,1.0 0 1 0 -2.0,0M418.6,633.3m-1.0,0a1.0,1.0 0 1 0 2.0,0a1.0,1.0 0 1 0 -2.0,0"/>
<rect class="g" x="430.9" y="560.4" width="2.6" height="9.6"/>
<line class="l" x1="430.9" y1="561.2" x2="430.9" y2="570.0"/>
<line class="l" x1="433.6" y1="561.2" x2="433.6" y2="570.0"/>
<rect class="g" x="430.9" y="639.2" width="2.6" height="9.6"/>
<line class="l" x1="430.9" y1="639.2" x2="430.9" y2="648.0"/>
<line class="l" x1="433.6" y1="639.2" x2="433.6" y2="648.0"/>
<rect class="p" x="429.6" y="570.0" width="5.3" height="69.2"/>
<line class="l" x1="429.6" y1="582.0" x2="434.9" y2="582.0"/>
<line class="l" x1="429.6" y1="626.4" x2="434.9" y2="626.4"/>
<path class="rd" d="M432.2,576.4m-1.0,0a1.0,1.0 0 1 0 2.0,0a1.0,1.0 0 1 0 -2.0,0M432.2,633.3m-1.0,0a1.0,1.0 0 1 0 2.0,0a1.0,1.0 0 1 0 -2.0,0"/>
</g>
<g id="p45a">
<polygon class="p" points="393.0,287.8 454.2,287.8 454.8,291.2 453.0,293.2 445.8,297.4 448.8,300.4 447.0,307.0 431.4,307.0 417.0,301.0 404.4,307.0 399.0,299.8 398.4,297.4" />
<path class="f" d="M383.6,278.4 L464.4,278.4 L464.4,287.2 L460.8,293.8 L454.8,291.2 L454.2,287.8 L393,287.8 L398.4,297.4 L392.8,300.4 L383.6,286.6 Z" />
<path class="f" d="M393,302.8 L399,299.8 L404.4,307 Q410,302 417,301 Q424,301.5 431.4,307 L447,307 L448.8,300.4 Q444.5,299.5 445.4,296.6 Q447.5,294.5 450,295.6 L453,293.2 L459.6,296.8 L451.8,316 L427.8,316 Q422,309.5 417,309.4 Q411,310 400.8,316.6 Z" />
<circle class="h" cx="438" cy="296.8" r="3"/>
</g>
<g id="p45b">
<polygon class="p" points="418.7,459.6 426.0,463.3 438.6,466.0 438.6,482.6 431.6,493.7 438.9,510.2 428.3,514.8 419.0,518.5" />
<path class="f" d="M409.5,449.1 L424.2,451.7 L425.1,455.9 L418.7,459.6 L419,518.5 L428.3,514.8 L430.6,521.3 L416.8,530.1 L409.5,530.1 Z" />
<path class="f" d="M427,455 L428.8,453.1 L447.2,461.4 L446.7,483.5 Q440,488 439.9,493.7 Q441,500 449.1,513.9 L434.3,520.9 L430.6,514.8 L438.9,510.2 Q431.5,499 431.6,493.7 Q432,487.5 438.6,482.6 L438.6,466 L432.5,464.2 Q431,467.5 428,467 Q425.8,466 426,463.3 Z" />
<circle class="h" cx="427.3" cy="475.2" r="3"/>
</g>
<g id="p46">
<path class="f" d="M46,424.5 L51.4,424.5 L51.4,498.9 L41.1,498.9 L41.1,430 Q42,425.5 46,424.5 Z" />
<polygon class="f" points="55.6,424.5 66.2,424.5 66.2,477.5 73.6,487.8 73.6,499.7 66.8,495.5 66.8,490.0 58.5,480.0 55.6,472.0" />
<polygon class="f" points="43.7,503.2 51.4,501.5 53.1,505.7 56.0,503.0 58.2,495.5 65.0,502.3 71.0,503.2 66.8,510.9 60.8,509.1 59.9,513.4 46.2,513.9" />
<polygon class="p" points="51.4,430.0 55.6,430.0 55.6,472.0 58.5,480.0 66.0,490.0 63.5,494.0 58.5,488.0 56.5,499.0 54.0,494.0 52.5,501.0 51.4,498.0" />
<rect class="p" x="47.6" y="456.6" width="11.7" height="5.8"/>
<rect class="p" x="47.6" y="470.8" width="11.7" height="4.6"/>
<rect class="p" x="50.4" y="458.2" width="6.2" height="12.6"/>
<circle cx="53.4" cy="436.2" r="2.7" fill="#e1e2e2" stroke="#484848" stroke-width="0.9"/>
<path class="rd" d="M53.5,466.5m-0.9,0a0.9,0.9 0 1 0 1.8,0a0.9,0.9 0 1 0 -1.8,0M53.5,478.0m-0.9,0a0.9,0.9 0 1 0 1.8,0a0.9,0.9 0 1 0 -1.8,0M53.5,483.0m-0.9,0a0.9,0.9 0 1 0 1.8,0a0.9,0.9 0 1 0 -1.8,0M53.5,488.0m-0.9,0a0.9,0.9 0 1 0 1.8,0a0.9,0.9 0 1 0 -1.8,0"/>
</g>
<g id="p50">
<path d="M833,528.5 C826,522 811.5,521.5 807,529 C803,536 808,545 808,560 L790.5,591.5" fill="none" stroke="#484848" stroke-width="9.7" stroke-linejoin="round"/>
<path d="M834.5,531.5 L846.5,548 Q848.5,554 845,559.5 L840.5,567.5 Q838.5,573 842,577.5 L854.5,590.5 Q858.5,598 853,602.5 Q846,606.5 838.5,599" fill="none" stroke="#484848" stroke-width="9.7" stroke-linejoin="round"/>
<path d="M797,602.5 L817.5,574.5 L836,596" fill="none" stroke="#484848" stroke-width="9.7" stroke-linejoin="round"/>
<polygon points="810.0,528.0 831.0,538.0 838.0,552.0 830.0,566.0 824.0,582.0 811.0,582.0 806.0,560.0" fill="#b3b4b4" stroke="none"/>
<path d="M833,528.5 C826,522 811.5,521.5 807,529 C803,536 808,545 808,560 L790.5,591.5" fill="none" stroke="#b3b4b4" stroke-width="7.5" stroke-linejoin="round"/>
<path d="M834.5,531.5 L846.5,548 Q848.5,554 845,559.5 L840.5,567.5 Q838.5,573 842,577.5 L854.5,590.5 Q858.5,598 853,602.5 Q846,606.5 838.5,599" fill="none" stroke="#b3b4b4" stroke-width="7.5" stroke-linejoin="round"/>
<path d="M797,602.5 L817.5,574.5 L836,596" fill="none" stroke="#b3b4b4" stroke-width="7.5" stroke-linejoin="round"/>
<path d="M814.6,531.8 L825,534.2 L836.6,555 L829.6,569.6 L846.8,594" fill="none" stroke="#484848" stroke-width="7.1" stroke-linejoin="round" stroke-linecap="round"/>
<path d="M816.2,569 L795.6,596" fill="none" stroke="#484848" stroke-width="5.1" stroke-linejoin="round" stroke-linecap="butt"/>
<path d="M819,552.4 L825.8,559.4" fill="none" stroke="#484848" stroke-width="6.5" stroke-linejoin="round" stroke-linecap="round"/>
<rect class="p" x="813.0" y="548.2" width="4.4" height="21.2"/>
<path d="M814.6,531.8 L825,534.2 L836.6,555 L829.6,569.6 L846.8,594" fill="none" stroke="#e1e2e2" stroke-width="5.4" stroke-linejoin="round" stroke-linecap="round"/>
<path d="M816.2,569 L795.6,596" fill="none" stroke="#e1e2e2" stroke-width="3.4" stroke-linejoin="round" stroke-linecap="butt"/>
<path d="M819,552.4 L825.8,559.4" fill="none" stroke="#e1e2e2" stroke-width="4.8" stroke-linejoin="round" stroke-linecap="round"/>
<polygon class="f" points="787.4,588.6 789.9,598.6 794.2,596.0" />
<path class="rd" d="M814.8,531.8m-1.1,0a1.1,1.1 0 1 0 2.2,0a1.1,1.1 0 1 0 -2.2,0M846.6,593.6m-1.1,0a1.1,1.1 0 1 0 2.2,0a1.1,1.1 0 1 0 -2.2,0M825.2,559.0m-1.1,0a1.1,1.1 0 1 0 2.2,0a1.1,1.1 0 1 0 -2.2,0M832.0,565.3m-1.1,0a1.1,1.1 0 1 0 2.2,0a1.1,1.1 0 1 0 -2.2,0"/>
</g>
<use href="#p50" transform="translate(1668.5,112) scale(-1,1)"/>
<g id="p51">
<path class="f" d="M866,524.6 Q860,526 861,533 L878,622 Q880,630 888,630 L931.4,630 Q939.4,630 941.4,622 L958.4,533 Q959.4,526 953.4,524.6 Q930,521.5 909.7,524.5 Q889,521.5 866,524.6 Z" />
<polygon class="p" points="868.4,533.0 905.6,531.6 906.4,617.0 897.0,621.0 885.6,622.4" />
<line class="l" x1="886.0" y1="532.4" x2="896.6" y2="621.0"/>
<ellipse cx="897.8" cy="569.0" rx="5" ry="16" fill="none" stroke="#484848" stroke-width="0.9" transform="rotate(-5 897.8 569.0)"/>
<path class="rd" d="M901.0,541.6m-1.1,0a1.1,1.1 0 1 0 2.2,0a1.1,1.1 0 1 0 -2.2,0M901.0,615.4m-1.1,0a1.1,1.1 0 1 0 2.2,0a1.1,1.1 0 1 0 -2.2,0"/>
<rect class="g" x="888.0" y="521.8" width="3.0" height="10.2"/>
<line class="l" x1="888.0" y1="523.0" x2="888.0" y2="532.0"/>
<line class="l" x1="891.0" y1="523.0" x2="891.0" y2="532.0"/>
<rect class="g" x="894.6" y="621.4" width="2.8" height="9.4"/>
<line class="l" x1="894.6" y1="621.4" x2="894.6" y2="630.0"/>
<line class="l" x1="897.4" y1="621.4" x2="897.4" y2="630.0"/>
<polygon class="p" points="951.0,533.0 913.8,531.6 913.0,617.0 922.4,621.0 933.8,622.4" />
<line class="l" x1="933.4" y1="532.4" x2="922.8" y2="621.0"/>
<ellipse cx="921.6" cy="569.0" rx="5" ry="16" fill="none" stroke="#484848" stroke-width="0.9" transform="rotate(5 921.6 569.0)"/>
<path class="rd" d="M918.4,541.6m-1.1,0a1.1,1.1 0 1 0 2.2,0a1.1,1.1 0 1 0 -2.2,0M918.4,615.4m-1.1,0a1.1,1.1 0 1 0 2.2,0a1.1,1.1 0 1 0 -2.2,0"/>
<rect class="g" x="928.4" y="521.8" width="3.0" height="10.2"/>
<line class="l" x1="928.4" y1="523.0" x2="928.4" y2="532.0"/>
<line class="l" x1="931.4" y1="523.0" x2="931.4" y2="532.0"/>
<rect class="g" x="922.0" y="621.4" width="2.8" height="9.4"/>
<line class="l" x1="922.0" y1="621.4" x2="922.0" y2="630.0"/>
<line class="l" x1="924.8" y1="621.4" x2="924.8" y2="630.0"/>
<rect class="g" x="906.9" y="586.6" width="5.6" height="3.2"/>
<line class="l" x1="906.4" y1="586.6" x2="913.0" y2="586.6"/>
<line class="l" x1="906.4" y1="589.8" x2="913.0" y2="589.8"/>
</g>
<g id="p53">
<path class="f" d="M908.8,655 Q910,650.5 915,649.4 L921.3,649.4 Q925.5,653 928.8,659.4 Q932.1,653 936.3,649.4 L942.6,649.4 Q947.6,650.5 948.8,655 Q948,663 948.2,670 Q948.8,680 951.3,687.5 Q955,696 956.3,702.5 Q957,708.5 955,712.5 Q952.5,717.6 948.8,718.8 L942.5,718.8 Q939.5,718.4 937.5,716.9 Q932.5,713 928.8,706.5 Q925.1,713 920.1,716.9 Q918.1,718.4 915.1,718.8 L908.8,718.8 Q905.1,717.6 902.6,712.5 Q900.6,708.5 901.3,702.5 Q902.6,696 906.3,687.5 Q908.8,680 909.4,670 Q909.6,663 908.8,655 Z" />
<polygon class="p" points="914.6,650.2 917.4,649.8 925.8,671.0 922.8,672.0" />
<polygon class="p" points="919.4,671.9 927.5,671.9 927.5,681.0 919.4,708.6 914.0,711.6 909.6,708.4 909.4,704.8 918.6,681.0 919.4,678.0" stroke-linejoin="round"/>
<line class="l" x1="919.2" y1="678.1" x2="927.5" y2="678.1"/>
<path class="r" d="M922.8,683.8m-2.6,0a2.6,2.6 0 1 0 5.2,0a2.6,2.6 0 1 0 -5.2,0"/>
<path class="r" d="M914.4,706.4m-2.7,0a2.7,2.7 0 1 0 5.4,0a2.7,2.7 0 1 0 -5.4,0"/>
<path class="r" d="M919.8,691.9m-1.3,0a1.3,1.3 0 1 0 2.6,0a1.3,1.3 0 1 0 -2.6,0M916.9,698.1m-1.3,0a1.3,1.3 0 1 0 2.6,0a1.3,1.3 0 1 0 -2.6,0"/>
<rect class="g" x="912.6" y="711.8" width="2.4" height="7.8"/>
<line class="l" x1="912.6" y1="711.8" x2="912.6" y2="718.8"/>
<line class="l" x1="915.0" y1="711.8" x2="915.0" y2="718.8"/>
<polygon class="p" points="943.0,650.2 940.2,649.8 931.8,671.0 934.8,672.0" />
<polygon class="p" points="938.2,671.9 930.1,671.9 930.1,681.0 938.2,708.6 943.6,711.6 948.0,708.4 948.2,704.8 939.0,681.0 938.2,678.0" stroke-linejoin="round"/>
<line class="l" x1="938.4" y1="678.1" x2="930.1" y2="678.1"/>
<path class="r" d="M934.8,683.8m-2.6,0a2.6,2.6 0 1 0 5.2,0a2.6,2.6 0 1 0 -5.2,0"/>
<path class="r" d="M943.2,706.4m-2.7,0a2.7,2.7 0 1 0 5.4,0a2.7,2.7 0 1 0 -5.4,0"/>
<path class="r" d="M937.8,691.9m-1.3,0a1.3,1.3 0 1 0 2.6,0a1.3,1.3 0 1 0 -2.6,0M940.7,698.1m-1.3,0a1.3,1.3 0 1 0 2.6,0a1.3,1.3 0 1 0 -2.6,0"/>
<rect class="g" x="942.6" y="711.8" width="2.4" height="7.8"/>
<line class="l" x1="942.6" y1="711.8" x2="942.6" y2="718.8"/>
<line class="l" x1="945.0" y1="711.8" x2="945.0" y2="718.8"/>
</g>
<g id="labels">
<text class="t" x="24.4" y="182.2" font-size="20.6" textLength="18.8" lengthAdjust="spacingAndGlyphs" text-anchor="start">23</text>
<text class="t" x="213.0" y="156.2" font-size="20.6" textLength="18.8" lengthAdjust="spacingAndGlyphs" text-anchor="start">27</text>
<text class="t" x="69.3" y="209.0" font-size="20.6" textLength="18.8" lengthAdjust="spacingAndGlyphs" text-anchor="start">24</text>
<text class="t" x="109.2" y="209.0" font-size="20.6" textLength="18.8" lengthAdjust="spacingAndGlyphs" text-anchor="start">25</text>
<text class="t" x="225.4" y="209.6" font-size="20.6" textLength="18.8" lengthAdjust="spacingAndGlyphs" text-anchor="start">26</text>
<text class="t" x="266.4" y="211.6" font-size="20.6" textLength="18.8" lengthAdjust="spacingAndGlyphs" text-anchor="start">28</text>
<text class="t" x="292.4" y="216.2" font-size="20.6" textLength="18.8" lengthAdjust="spacingAndGlyphs" text-anchor="start">29</text>
<text class="t" x="317.4" y="204.6" font-size="20.6" textLength="18.8" lengthAdjust="spacingAndGlyphs" text-anchor="start">30</text>
<text class="t" x="362.0" y="195.8" font-size="20.6" textLength="18.8" lengthAdjust="spacingAndGlyphs" text-anchor="start">31</text>
<text class="t" x="409.0" y="189.8" font-size="20.6" textLength="18.8" lengthAdjust="spacingAndGlyphs" text-anchor="start">32</text>
<text class="t" x="505.4" y="188.2" font-size="20.6" textLength="18.8" lengthAdjust="spacingAndGlyphs" text-anchor="start">33</text>
<text class="t" x="588.2" y="188.2" font-size="20.6" textLength="18.8" lengthAdjust="spacingAndGlyphs" text-anchor="start">33</text>
<text class="t" x="787.0" y="72.9" font-size="20.6" textLength="18.8" lengthAdjust="spacingAndGlyphs" text-anchor="start">34</text>
<text class="t" x="816.4" y="147.8" font-size="20.6" textLength="18.8" lengthAdjust="spacingAndGlyphs" text-anchor="start">35</text>
<text class="t" x="964.2" y="227.5" font-size="20.6" textLength="18.8" lengthAdjust="spacingAndGlyphs" text-anchor="start">36</text>
<text class="t" x="964.2" y="259.0" font-size="20.6" textLength="18.8" lengthAdjust="spacingAndGlyphs" text-anchor="start">37</text>
<text class="t" x="921.0" y="299.6" font-size="20.6" textLength="18.8" lengthAdjust="spacingAndGlyphs" text-anchor="start">38</text>
<text class="t" x="849.4" y="309.6" font-size="20.6" textLength="18.8" lengthAdjust="spacingAndGlyphs" text-anchor="start">39</text>
<text class="t" x="799.4" y="395.6" font-size="20.6" textLength="18.8" lengthAdjust="spacingAndGlyphs" text-anchor="start">40</text>
<text class="t" x="958.4" y="463.6" font-size="20.6" textLength="18.8" lengthAdjust="spacingAndGlyphs" text-anchor="start">41</text>
<text class="t" x="788.4" y="467.6" font-size="20.6" textLength="18.8" lengthAdjust="spacingAndGlyphs" text-anchor="start">41</text>
<text class="t" x="873.4" y="423.6" font-size="20.6" textLength="18.8" lengthAdjust="spacingAndGlyphs" text-anchor="start">42</text>
<text class="t" x="780.4" y="433.6" font-size="20.6" textLength="18.8" lengthAdjust="spacingAndGlyphs" text-anchor="start">43</text>
<text class="t" x="39.4" y="395.6" font-size="20.6" textLength="18.8" lengthAdjust="spacingAndGlyphs" text-anchor="start">44</text>
<text class="t" x="467.8" y="299.0" font-size="20.6" textLength="18.8" lengthAdjust="spacingAndGlyphs" text-anchor="start">45</text>
<text class="t" x="419.0" y="446.4" font-size="20.6" textLength="18.8" lengthAdjust="spacingAndGlyphs" text-anchor="start">45</text>
<text class="t" x="42.7" y="534.6" font-size="20.6" textLength="18.8" lengthAdjust="spacingAndGlyphs" text-anchor="start">46</text>
<text class="t" x="73.4" y="683.8" font-size="20.6" textLength="18.8" lengthAdjust="spacingAndGlyphs" text-anchor="start">47</text>
<text class="t" x="415.2" y="557.2" font-size="20.6" textLength="18.8" lengthAdjust="spacingAndGlyphs" text-anchor="start">48</text>
<text class="t" x="757.0" y="683.8" font-size="20.6" textLength="18.8" lengthAdjust="spacingAndGlyphs" text-anchor="start">49</text>
<text class="t" x="811.0" y="610.6" font-size="20.6" textLength="18.8" lengthAdjust="spacingAndGlyphs" text-anchor="start">50</text>
<text class="t" x="861.8" y="521.6" font-size="20.6" textLength="18.8" lengthAdjust="spacingAndGlyphs" text-anchor="start">51</text>
<text class="t" x="939.4" y="521.6" font-size="20.6" textLength="18.8" lengthAdjust="spacingAndGlyphs" text-anchor="start">52</text>
<text class="t" x="953.4" y="683.0" font-size="20.6" textLength="18.8" lengthAdjust="spacingAndGlyphs" text-anchor="start">53</text>
<text class="t" x="873.4" y="679.6" font-size="20.6" textLength="18.8" lengthAdjust="spacingAndGlyphs" text-anchor="start">54</text>
</g>
</svg>
</body></html>
